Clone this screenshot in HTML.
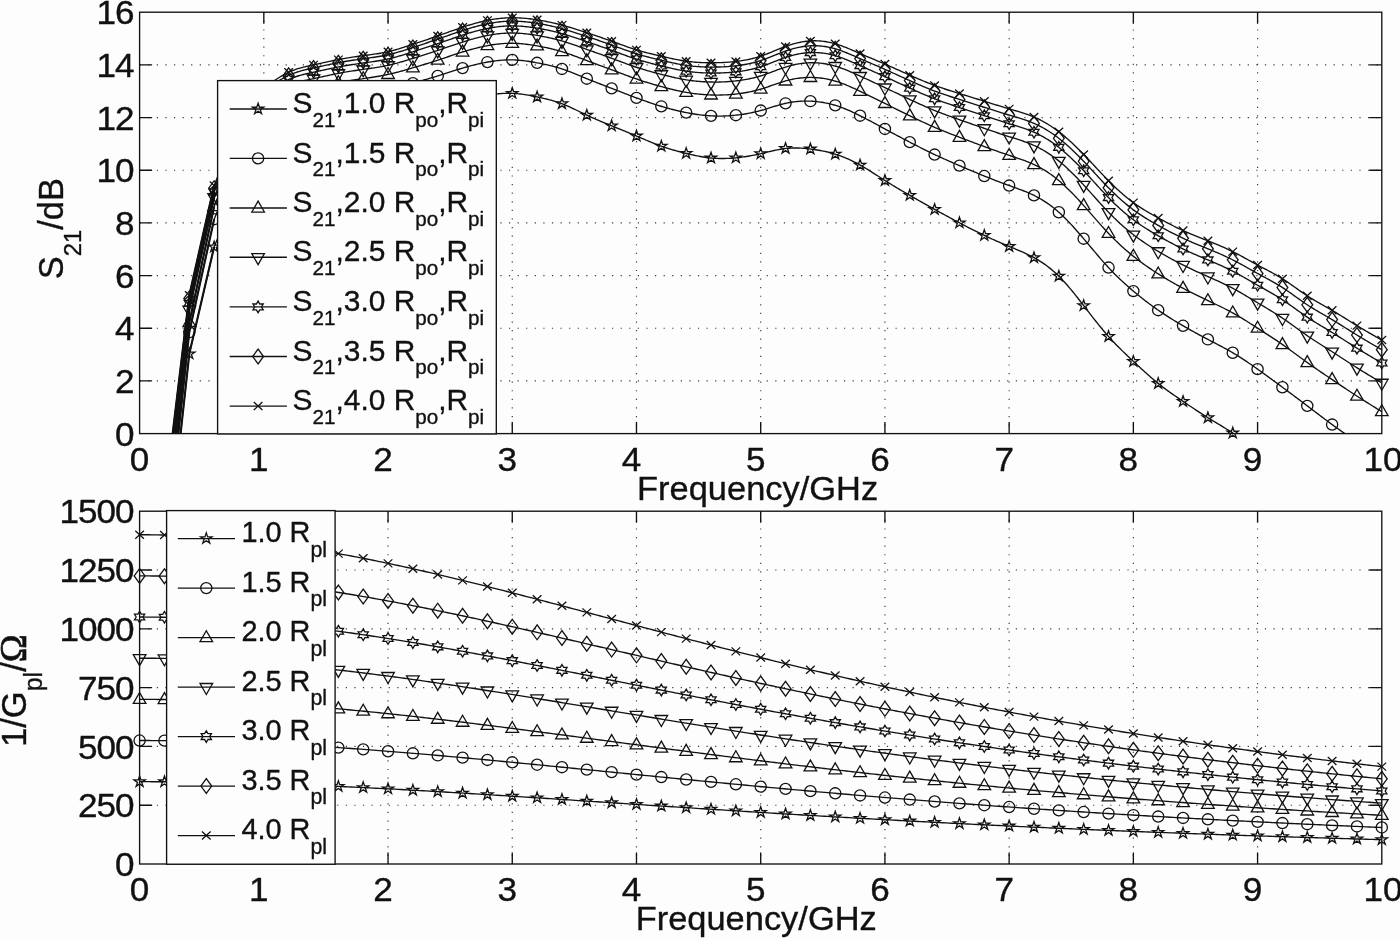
<!DOCTYPE html>
<html lang="en"><head><meta charset="utf-8"><title>S21 and 1/Gpl versus frequency</title>
<style>html,body{margin:0;padding:0;background:#fdfdfd;}svg{display:block;}</style></head>
<body>
<svg width="1400" height="938" viewBox="0 0 1400 938" font-family='"Liberation Sans", sans-serif' fill="#111">
<style>text{stroke:#111;stroke-width:0.35px;stroke-linejoin:round}</style>
<rect width="1400" height="938" fill="#fdfdfd"/>
<defs><clipPath id="ct"><rect x="139.6" y="12.2" width="1242.2" height="421.40000000000003"/></clipPath><clipPath id="cb"><rect x="139.6" y="511.2" width="1242.2" height="352.8"/></clipPath></defs>
<line x1="263.82" y1="12.20" x2="263.82" y2="433.60" stroke="#3a3a3a" stroke-width="1.15" stroke-dasharray="1.2 7.39"/>
<line x1="388.04" y1="12.20" x2="388.04" y2="433.60" stroke="#3a3a3a" stroke-width="1.15" stroke-dasharray="1.2 7.39"/>
<line x1="512.26" y1="12.20" x2="512.26" y2="433.60" stroke="#3a3a3a" stroke-width="1.15" stroke-dasharray="1.2 7.39"/>
<line x1="636.48" y1="12.20" x2="636.48" y2="433.60" stroke="#3a3a3a" stroke-width="1.15" stroke-dasharray="1.2 7.39"/>
<line x1="760.70" y1="12.20" x2="760.70" y2="433.60" stroke="#3a3a3a" stroke-width="1.15" stroke-dasharray="1.2 7.39"/>
<line x1="884.92" y1="12.20" x2="884.92" y2="433.60" stroke="#3a3a3a" stroke-width="1.15" stroke-dasharray="1.2 7.39"/>
<line x1="1009.14" y1="12.20" x2="1009.14" y2="433.60" stroke="#3a3a3a" stroke-width="1.15" stroke-dasharray="1.2 7.39"/>
<line x1="1133.36" y1="12.20" x2="1133.36" y2="433.60" stroke="#3a3a3a" stroke-width="1.15" stroke-dasharray="1.2 7.39"/>
<line x1="1257.58" y1="12.20" x2="1257.58" y2="433.60" stroke="#3a3a3a" stroke-width="1.15" stroke-dasharray="1.2 7.39"/>
<line x1="139.60" y1="380.93" x2="1381.80" y2="380.93" stroke="#3a3a3a" stroke-width="1.15" stroke-dasharray="1.2 7.39"/>
<line x1="139.60" y1="328.25" x2="1381.80" y2="328.25" stroke="#3a3a3a" stroke-width="1.15" stroke-dasharray="1.2 7.39"/>
<line x1="139.60" y1="275.58" x2="1381.80" y2="275.58" stroke="#3a3a3a" stroke-width="1.15" stroke-dasharray="1.2 7.39"/>
<line x1="139.60" y1="222.90" x2="1381.80" y2="222.90" stroke="#3a3a3a" stroke-width="1.15" stroke-dasharray="1.2 7.39"/>
<line x1="139.60" y1="170.23" x2="1381.80" y2="170.23" stroke="#3a3a3a" stroke-width="1.15" stroke-dasharray="1.2 7.39"/>
<line x1="139.60" y1="117.55" x2="1381.80" y2="117.55" stroke="#3a3a3a" stroke-width="1.15" stroke-dasharray="1.2 7.39"/>
<line x1="139.60" y1="64.88" x2="1381.80" y2="64.88" stroke="#3a3a3a" stroke-width="1.15" stroke-dasharray="1.2 7.39"/>
<path d="M263.82 433.60V422.00M263.82 12.20V23.80M388.04 433.60V422.00M388.04 12.20V23.80M512.26 433.60V422.00M512.26 12.20V23.80M636.48 433.60V422.00M636.48 12.20V23.80M760.70 433.60V422.00M760.70 12.20V23.80M884.92 433.60V422.00M884.92 12.20V23.80M1009.14 433.60V422.00M1009.14 12.20V23.80M1133.36 433.60V422.00M1133.36 12.20V23.80M1257.58 433.60V422.00M1257.58 12.20V23.80M139.60 380.93H152.10M1381.80 380.93H1369.30M139.60 328.25H152.10M1381.80 328.25H1369.30M139.60 275.58H152.10M1381.80 275.58H1369.30M139.60 222.90H152.10M1381.80 222.90H1369.30M139.60 170.23H152.10M1381.80 170.23H1369.30M139.60 117.55H152.10M1381.80 117.55H1369.30M139.60 64.88H152.10M1381.80 64.88H1369.30" stroke="#111" stroke-width="1.35" fill="none"/>
<rect x="139.60" y="12.20" width="1242.20" height="421.40" fill="none" stroke="#111" stroke-width="1.35"/>
<g clip-path="url(#ct)" fill="none" stroke="#111" stroke-width="1.35" stroke-linejoin="round"><path d="M164.44 581.80L189.29 353.80L214.13 246.87L215.67 243.28L217.21 239.51L218.75 235.59L220.29 231.54L221.82 227.40L223.36 223.19L224.90 218.96L226.44 214.74L227.98 210.55L229.52 206.42L231.05 202.40L232.59 198.50L234.13 194.77L235.67 191.23L237.21 187.92L238.75 184.86L240.29 182.09L241.82 179.60L243.36 177.35L244.90 175.34L246.44 173.53L247.98 171.91L249.52 170.44L251.05 169.12L252.59 167.90L254.13 166.78L255.67 165.73L257.21 164.73L258.75 163.75L260.28 162.76L261.82 161.76L263.36 160.71L264.90 159.60L266.44 158.42L267.98 157.18L269.52 155.89L271.05 154.57L272.59 153.23L274.13 151.86L275.67 150.50L277.21 149.14L278.75 147.80L280.28 146.49L281.82 145.21L283.36 143.99L284.90 142.82L286.44 141.72L287.98 140.70L289.52 139.78L291.05 138.94L292.59 138.19L294.13 137.52L295.67 136.92L297.21 136.39L298.75 135.91L300.28 135.48L301.82 135.10L303.36 134.75L304.90 134.44L306.44 134.15L307.98 133.87L309.51 133.60L311.05 133.34L312.59 133.07L314.13 132.79L315.67 132.50L317.21 132.19L318.75 131.87L320.28 131.55L321.82 131.21L323.36 130.87L324.90 130.53L326.44 130.19L327.98 129.84L329.51 129.50L331.05 129.16L332.59 128.82L334.13 128.49L335.67 128.17L337.21 127.86L338.74 127.56L340.28 127.28L341.82 127.00L343.36 126.74L344.90 126.48L346.44 126.24L347.98 126.00L349.51 125.76L351.05 125.53L352.59 125.30L354.13 125.07L355.67 124.85L357.21 124.62L358.74 124.39L360.28 124.15L361.82 123.91L363.36 123.66L364.90 123.40L366.44 123.14L367.97 122.87L369.51 122.60L371.05 122.31L372.59 122.03L374.13 121.74L375.67 121.44L377.21 121.14L378.74 120.84L380.28 120.53L381.82 120.23L383.36 119.92L384.90 119.61L386.44 119.30L387.97 118.99L389.51 118.69L391.05 118.38L392.59 118.07L394.13 117.76L395.67 117.45L397.21 117.15L398.74 116.83L400.28 116.52L401.82 116.21L403.36 115.89L404.90 115.58L406.44 115.26L407.97 114.93L409.51 114.60L411.05 114.27L412.59 113.94L414.13 113.60L415.67 113.25L417.20 112.91L418.74 112.55L420.28 112.19L421.82 111.83L423.36 111.46L424.90 111.08L426.44 110.70L427.97 110.32L429.51 109.92L431.05 109.52L432.59 109.12L434.13 108.71L435.67 108.29L437.20 107.86L438.74 107.43L440.28 106.99L441.82 106.54L443.36 106.09L444.90 105.64L446.43 105.18L447.97 104.73L449.51 104.27L451.05 103.81L452.59 103.36L454.13 102.91L455.67 102.46L457.20 102.02L458.74 101.58L460.28 101.16L461.82 100.74L463.36 100.32L464.90 99.92L466.43 99.53L467.97 99.15L469.51 98.78L471.05 98.42L472.59 98.07L474.13 97.72L475.67 97.39L477.20 97.07L478.74 96.76L480.28 96.46L481.82 96.17L483.36 95.89L484.90 95.62L486.43 95.36L487.97 95.11L489.51 94.87L491.05 94.64L492.59 94.43L494.13 94.23L495.66 94.05L497.20 93.88L498.74 93.73L500.28 93.60L501.82 93.48L503.36 93.39L504.90 93.32L506.43 93.27L507.97 93.25L509.51 93.25L511.05 93.28L512.59 93.33L514.13 93.42L515.66 93.52L517.20 93.66L518.74 93.81L520.28 93.99L521.82 94.19L523.36 94.41L524.89 94.64L526.43 94.89L527.97 95.15L529.51 95.43L531.05 95.72L532.59 96.02L534.13 96.33L535.66 96.64L537.20 96.96L538.74 97.28L540.28 97.61L541.82 97.95L543.36 98.29L544.89 98.65L546.43 99.02L547.97 99.40L549.51 99.79L551.05 100.21L552.59 100.64L554.12 101.08L555.66 101.55L557.20 102.04L558.74 102.56L560.28 103.10L561.82 103.67L563.36 104.26L564.89 104.88L566.43 105.53L567.97 106.20L569.51 106.88L571.05 107.58L572.59 108.30L574.12 109.03L575.66 109.76L577.20 110.50L578.74 111.25L580.28 112.00L581.82 112.75L583.36 113.49L584.89 114.23L586.43 114.97L587.97 115.69L589.51 116.40L591.05 117.10L592.59 117.79L594.12 118.47L595.66 119.15L597.20 119.81L598.74 120.48L600.28 121.13L601.82 121.78L603.35 122.42L604.89 123.06L606.43 123.70L607.97 124.33L609.51 124.96L611.05 125.59L612.59 126.22L614.12 126.84L615.66 127.47L617.20 128.10L618.74 128.72L620.28 129.35L621.82 129.97L623.35 130.60L624.89 131.23L626.43 131.86L627.97 132.49L629.51 133.13L631.05 133.76L632.58 134.40L634.12 135.04L635.66 135.69L637.20 136.34L638.74 136.99L640.28 137.64L641.82 138.30L643.35 138.95L644.89 139.60L646.43 140.25L647.97 140.89L649.51 141.53L651.05 142.16L652.58 142.79L654.12 143.41L655.66 144.01L657.20 144.61L658.74 145.19L660.28 145.76L661.81 146.31L663.35 146.85L664.89 147.37L666.43 147.88L667.97 148.37L669.51 148.86L671.05 149.32L672.58 149.78L674.12 150.23L675.66 150.66L677.20 151.09L678.74 151.51L680.28 151.91L681.81 152.31L683.35 152.71L684.89 153.09L686.43 153.47L687.97 153.84L689.51 154.21L691.05 154.57L692.58 154.91L694.12 155.25L695.66 155.58L697.20 155.90L698.74 156.20L700.28 156.48L701.81 156.76L703.35 157.01L704.89 157.25L706.43 157.47L707.97 157.67L709.51 157.85L711.04 158.01L712.58 158.15L714.12 158.26L715.66 158.36L717.20 158.43L718.74 158.48L720.28 158.51L721.81 158.53L723.35 158.52L724.89 158.50L726.43 158.45L727.97 158.39L729.51 158.31L731.04 158.22L732.58 158.11L734.12 157.99L735.66 157.85L737.20 157.69L738.74 157.52L740.27 157.34L741.81 157.14L743.35 156.93L744.89 156.71L746.43 156.47L747.97 156.22L749.51 155.96L751.04 155.68L752.58 155.40L754.12 155.10L755.66 154.79L757.20 154.47L758.74 154.13L760.27 153.79L761.81 153.44L763.35 153.07L764.89 152.70L766.43 152.33L767.97 151.96L769.51 151.58L771.04 151.22L772.58 150.86L774.12 150.51L775.66 150.17L777.20 149.85L778.74 149.54L780.27 149.26L781.81 149.00L783.35 148.77L784.89 148.56L786.43 148.39L787.97 148.24L789.50 148.13L791.04 148.05L792.58 148.00L794.12 147.97L795.66 147.97L797.20 147.99L798.74 148.03L800.27 148.10L801.81 148.19L803.35 148.30L804.89 148.42L806.43 148.56L807.97 148.72L809.50 148.89L811.04 149.08L812.58 149.28L814.12 149.49L815.66 149.72L817.20 149.96L818.73 150.22L820.27 150.49L821.81 150.79L823.35 151.09L824.89 151.42L826.43 151.77L827.97 152.14L829.50 152.53L831.04 152.93L832.58 153.37L834.12 153.82L835.66 154.30L837.20 154.80L838.73 155.33L840.27 155.88L841.81 156.45L843.35 157.05L844.89 157.67L846.43 158.31L847.96 158.98L849.50 159.67L851.04 160.39L852.58 161.12L854.12 161.89L855.66 162.67L857.20 163.47L858.73 164.30L860.27 165.15L861.81 166.03L863.35 166.92L864.89 167.83L866.43 168.76L867.96 169.70L869.50 170.66L871.04 171.62L872.58 172.59L874.12 173.58L875.66 174.56L877.20 175.55L878.73 176.54L880.27 177.53L881.81 178.51L883.35 179.50L884.89 180.47L886.43 181.44L887.96 182.40L889.50 183.35L891.04 184.29L892.58 185.22L894.12 186.15L895.66 187.08L897.19 187.99L898.73 188.91L900.27 189.81L901.81 190.72L903.35 191.62L904.89 192.51L906.43 193.40L907.96 194.29L909.50 195.18L911.04 196.07L912.58 196.95L914.12 197.83L915.66 198.71L917.19 199.59L918.73 200.47L920.27 201.34L921.81 202.21L923.35 203.08L924.89 203.95L926.42 204.81L927.96 205.68L929.50 206.54L931.04 207.40L932.58 208.26L934.12 209.11L935.66 209.96L937.19 210.81L938.73 211.66L940.27 212.51L941.81 213.35L943.35 214.19L944.89 215.03L946.42 215.87L947.96 216.70L949.50 217.53L951.04 218.36L952.58 219.19L954.12 220.01L955.66 220.83L957.19 221.65L958.73 222.46L960.27 223.27L961.81 224.08L963.35 224.88L964.89 225.68L966.42 226.48L967.96 227.28L969.50 228.06L971.04 228.85L972.58 229.63L974.12 230.40L975.65 231.17L977.19 231.94L978.73 232.70L980.27 233.45L981.81 234.20L983.35 234.94L984.89 235.67L986.42 236.40L987.96 237.12L989.50 237.83L991.04 238.54L992.58 239.24L994.12 239.94L995.65 240.63L997.19 241.31L998.73 241.99L1000.27 242.66L1001.81 243.33L1003.35 243.99L1004.88 244.64L1006.42 245.29L1007.96 245.94L1009.50 246.58L1011.04 247.22L1012.58 247.85L1014.12 248.48L1015.65 249.12L1017.19 249.76L1018.73 250.41L1020.27 251.06L1021.81 251.73L1023.35 252.40L1024.88 253.10L1026.42 253.81L1027.96 254.54L1029.50 255.29L1031.04 256.06L1032.58 256.86L1034.11 257.69L1035.65 258.55L1037.19 259.44L1038.73 260.36L1040.27 261.32L1041.81 262.31L1043.35 263.34L1044.88 264.41L1046.42 265.52L1047.96 266.67L1049.50 267.87L1051.04 269.11L1052.58 270.40L1054.11 271.73L1055.65 273.12L1057.19 274.56L1058.73 276.05L1060.27 277.59L1061.81 279.19L1063.35 280.84L1064.88 282.53L1066.42 284.26L1067.96 286.03L1069.50 287.83L1071.04 289.67L1072.58 291.54L1074.11 293.44L1075.65 295.35L1077.19 297.29L1078.73 299.25L1080.27 301.21L1081.81 303.19L1083.34 305.18L1084.88 307.17L1086.42 309.16L1087.96 311.15L1089.50 313.13L1091.04 315.11L1092.58 317.08L1094.11 319.05L1095.65 320.99L1097.19 322.93L1098.73 324.84L1100.27 326.74L1101.81 328.62L1103.34 330.47L1104.88 332.29L1106.42 334.08L1107.96 335.84L1109.50 337.57L1111.04 339.27L1112.57 340.93L1114.11 342.56L1115.65 344.17L1117.19 345.75L1118.73 347.31L1120.27 348.84L1121.81 350.36L1123.34 351.86L1124.88 353.35L1126.42 354.82L1127.96 356.28L1129.50 357.73L1131.04 359.18L1132.57 360.62L1134.11 362.06L1135.65 363.50L1137.19 364.93L1138.73 366.36L1140.27 367.78L1141.80 369.19L1143.34 370.60L1144.88 371.99L1146.42 373.37L1147.96 374.74L1149.50 376.10L1151.04 377.44L1152.57 378.76L1154.11 380.06L1155.65 381.35L1157.19 382.61L1158.73 383.86L1160.27 385.07L1161.80 386.27L1163.34 387.45L1164.88 388.61L1166.42 389.75L1167.96 390.88L1169.50 391.99L1171.04 393.09L1172.57 394.17L1174.11 395.25L1175.65 396.32L1177.19 397.38L1178.73 398.43L1180.27 399.48L1181.80 400.52L1183.34 401.57L1184.88 402.61L1186.42 403.65L1187.96 404.69L1189.50 405.72L1191.03 406.75L1192.57 407.78L1194.11 408.80L1195.65 409.82L1197.19 410.84L1198.73 411.84L1200.27 412.84L1201.80 413.84L1203.34 414.82L1204.88 415.80L1206.42 416.77L1207.96 417.73L1209.50 418.68L1211.03 419.62L1212.57 420.56L1214.11 421.49L1215.65 422.41L1217.19 423.34L1218.73 424.27L1220.26 425.20L1221.80 426.13L1223.34 427.07L1224.88 428.02L1226.42 428.97L1227.96 429.94L1229.50 430.91L1231.03 431.91L1232.57 432.91L1234.11 433.94L1235.65 434.98L1237.19 436.04L1238.73 437.12L1240.26 438.21L1241.80 439.32L1243.34 440.45L1244.88 441.60L1246.42 442.76L1247.96 443.95L1249.50 445.15L1251.03 446.37L1252.57 447.60L1254.11 448.85L1255.65 450.12L1257.19 451.41L1258.73 452.72L1260.26 454.04L1261.80 455.37L1263.34 456.72L1264.88 458.08L1266.42 459.44L1267.96 460.80L1269.49 462.17L1271.03 463.53L1272.57 464.89L1274.11 466.25L1275.65 467.60L1277.19 468.94L1278.73 470.26L1280.26 471.57L1281.80 472.86L1283.34 474.13L1284.88 475.38L1286.42 476.62L1287.96 477.84L1289.49 479.05L1291.03 480.25L1292.57 481.45L1294.11 482.64L1295.65 483.83L1297.19 485.03L1298.72 486.23L1300.26 487.44L1301.80 488.67L1303.34 489.90L1304.88 491.16L1306.42 492.43L1307.96 493.72L1309.49 495.04L1311.03 496.38L1312.57 497.73L1314.11 499.10L1315.65 500.48L1317.19 501.87L1318.72 503.26L1320.26 504.66L1321.80 506.05L1323.34 507.45L1324.88 508.83L1326.42 510.21L1327.95 511.58L1329.49 512.93L1331.03 514.26L1332.57 515.57L1334.11 516.87L1335.65 518.14L1337.19 519.39L1338.72 520.62L1340.26 521.84L1341.80 523.04L1343.34 524.22L1344.88 525.39L1346.42 526.55L1347.95 527.70L1349.49 528.83L1351.03 529.96L1352.57 531.08L1354.11 532.19L1355.65 533.30L1357.19 534.40L1358.72 535.50L1360.26 536.60L1361.80 537.70L1363.34 538.79L1364.88 539.88L1366.42 540.96L1367.95 542.05L1369.49 543.13L1371.03 544.21L1372.57 545.29L1374.11 546.37L1375.65 547.45L1377.18 548.52L1378.72 549.60L1380.26 550.67L1381.80 551.75"/><path stroke-width="2.1" d="M164.44 581.80L189.29 353.80L214.13 246.87"/><path d="M164.44 562.65L189.29 332.20L214.13 219.21L215.67 215.59L217.21 211.79L218.75 207.85L220.29 203.79L221.82 199.64L223.36 195.43L224.90 191.18L226.44 186.94L227.98 182.73L229.52 178.57L231.05 174.50L232.59 170.54L234.13 166.73L235.67 163.09L237.21 159.66L238.75 156.46L240.29 153.51L241.82 150.82L243.36 148.35L244.90 146.10L246.44 144.05L247.98 142.17L249.52 140.44L251.05 138.86L252.59 137.39L254.13 136.03L255.67 134.75L257.21 133.54L258.75 132.37L260.28 131.23L261.82 130.10L263.36 128.96L264.90 127.79L266.44 126.59L267.98 125.37L269.52 124.14L271.05 122.90L272.59 121.65L274.13 120.41L275.67 119.18L277.21 117.97L278.75 116.78L280.28 115.63L281.82 114.51L283.36 113.44L284.90 112.42L286.44 111.45L287.98 110.55L289.52 109.73L291.05 108.97L292.59 108.28L294.13 107.65L295.67 107.08L297.21 106.55L298.75 106.08L300.28 105.64L301.82 105.24L303.36 104.87L304.90 104.52L306.44 104.19L307.98 103.88L309.51 103.58L311.05 103.28L312.59 102.98L314.13 102.68L315.67 102.36L317.21 102.04L318.75 101.72L320.28 101.38L321.82 101.05L323.36 100.71L324.90 100.37L326.44 100.03L327.98 99.69L329.51 99.36L331.05 99.02L332.59 98.70L334.13 98.38L335.67 98.06L337.21 97.76L338.74 97.46L340.28 97.17L341.82 96.90L343.36 96.63L344.90 96.37L346.44 96.12L347.98 95.87L349.51 95.63L351.05 95.39L352.59 95.16L354.13 94.93L355.67 94.70L357.21 94.47L358.74 94.24L360.28 94.02L361.82 93.79L363.36 93.56L364.90 93.32L366.44 93.09L367.97 92.85L369.51 92.60L371.05 92.35L372.59 92.10L374.13 91.84L375.67 91.58L377.21 91.31L378.74 91.03L380.28 90.75L381.82 90.46L383.36 90.16L384.90 89.86L386.44 89.55L387.97 89.22L389.51 88.90L391.05 88.56L392.59 88.21L394.13 87.86L395.67 87.50L397.21 87.13L398.74 86.76L400.28 86.38L401.82 86.00L403.36 85.61L404.90 85.21L406.44 84.81L407.97 84.41L409.51 84.00L411.05 83.59L412.59 83.18L414.13 82.76L415.67 82.35L417.20 81.92L418.74 81.50L420.28 81.07L421.82 80.64L423.36 80.20L424.90 79.77L426.44 79.32L427.97 78.88L429.51 78.43L431.05 77.97L432.59 77.51L434.13 77.05L435.67 76.58L437.20 76.10L438.74 75.62L440.28 75.13L441.82 74.64L443.36 74.15L444.90 73.66L446.43 73.16L447.97 72.66L449.51 72.17L451.05 71.67L452.59 71.18L454.13 70.69L455.67 70.20L457.20 69.72L458.74 69.24L460.28 68.77L461.82 68.31L463.36 67.86L464.90 67.41L466.43 66.98L467.97 66.55L469.51 66.13L471.05 65.72L472.59 65.33L474.13 64.94L475.67 64.56L477.20 64.20L478.74 63.84L480.28 63.50L481.82 63.17L483.36 62.86L484.90 62.55L486.43 62.26L487.97 61.98L489.51 61.72L491.05 61.47L492.59 61.24L494.13 61.02L495.66 60.82L497.20 60.63L498.74 60.46L500.28 60.32L501.82 60.19L503.36 60.08L504.90 59.99L506.43 59.92L507.97 59.88L509.51 59.85L511.05 59.85L512.59 59.88L514.13 59.93L515.66 60.00L517.20 60.09L518.74 60.21L520.28 60.34L521.82 60.50L523.36 60.67L524.89 60.86L526.43 61.06L527.97 61.28L529.51 61.52L531.05 61.76L532.59 62.02L534.13 62.28L535.66 62.56L537.20 62.84L538.74 63.13L540.28 63.43L541.82 63.73L543.36 64.05L544.89 64.37L546.43 64.71L547.97 65.06L549.51 65.42L551.05 65.80L552.59 66.19L554.12 66.60L555.66 67.02L557.20 67.46L558.74 67.92L560.28 68.39L561.82 68.89L563.36 69.40L564.89 69.94L566.43 70.49L567.97 71.06L569.51 71.65L571.05 72.24L572.59 72.85L574.12 73.46L575.66 74.09L577.20 74.72L578.74 75.35L580.28 75.99L581.82 76.63L583.36 77.26L584.89 77.90L586.43 78.53L587.97 79.15L589.51 79.77L591.05 80.39L592.59 81.00L594.12 81.61L595.66 82.21L597.20 82.81L598.74 83.41L600.28 84.00L601.82 84.59L603.35 85.19L604.89 85.78L606.43 86.37L607.97 86.96L609.51 87.55L611.05 88.14L612.59 88.73L614.12 89.33L615.66 89.93L617.20 90.52L618.74 91.12L620.28 91.72L621.82 92.31L623.35 92.91L624.89 93.51L626.43 94.10L627.97 94.69L629.51 95.28L631.05 95.86L632.58 96.45L634.12 97.02L635.66 97.60L637.20 98.17L638.74 98.73L640.28 99.29L641.82 99.85L643.35 100.40L644.89 100.94L646.43 101.48L647.97 102.01L649.51 102.54L651.05 103.06L652.58 103.57L654.12 104.07L655.66 104.57L657.20 105.06L658.74 105.54L660.28 106.01L661.81 106.48L663.35 106.93L664.89 107.38L666.43 107.82L667.97 108.25L669.51 108.67L671.05 109.08L672.58 109.49L674.12 109.88L675.66 110.26L677.20 110.63L678.74 111.00L680.28 111.35L681.81 111.69L683.35 112.02L684.89 112.34L686.43 112.65L687.97 112.95L689.51 113.24L691.05 113.51L692.58 113.77L694.12 114.03L695.66 114.26L697.20 114.49L698.74 114.70L700.28 114.90L701.81 115.08L703.35 115.25L704.89 115.40L706.43 115.54L707.97 115.67L709.51 115.77L711.04 115.87L712.58 115.94L714.12 116.00L715.66 116.04L717.20 116.07L718.74 116.08L720.28 116.08L721.81 116.06L723.35 116.02L724.89 115.97L726.43 115.90L727.97 115.82L729.51 115.73L731.04 115.62L732.58 115.49L734.12 115.35L735.66 115.20L737.20 115.03L738.74 114.85L740.27 114.65L741.81 114.44L743.35 114.22L744.89 113.98L746.43 113.72L747.97 113.45L749.51 113.16L751.04 112.85L752.58 112.53L754.12 112.19L755.66 111.84L757.20 111.46L758.74 111.07L760.27 110.66L761.81 110.23L763.35 109.79L764.89 109.33L766.43 108.86L767.97 108.39L769.51 107.91L771.04 107.43L772.58 106.95L774.12 106.47L775.66 106.00L777.20 105.54L778.74 105.09L780.27 104.66L781.81 104.24L783.35 103.85L784.89 103.48L786.43 103.13L787.97 102.82L789.50 102.53L791.04 102.27L792.58 102.04L794.12 101.83L795.66 101.65L797.20 101.49L798.74 101.36L800.27 101.26L801.81 101.18L803.35 101.12L804.89 101.09L806.43 101.08L807.97 101.10L809.50 101.14L811.04 101.20L812.58 101.28L814.12 101.39L815.66 101.52L817.20 101.67L818.73 101.85L820.27 102.05L821.81 102.27L823.35 102.52L824.89 102.80L826.43 103.10L827.97 103.43L829.50 103.78L831.04 104.16L832.58 104.57L834.12 105.00L835.66 105.46L837.20 105.95L838.73 106.46L840.27 107.00L841.81 107.56L843.35 108.15L844.89 108.75L846.43 109.38L847.96 110.03L849.50 110.70L851.04 111.38L852.58 112.09L854.12 112.80L855.66 113.53L857.20 114.28L858.73 115.04L860.27 115.81L861.81 116.58L863.35 117.37L864.89 118.17L866.43 118.98L867.96 119.79L869.50 120.61L871.04 121.43L872.58 122.26L874.12 123.09L875.66 123.93L877.20 124.77L878.73 125.61L880.27 126.45L881.81 127.29L883.35 128.13L884.89 128.96L886.43 129.80L887.96 130.63L889.50 131.46L891.04 132.29L892.58 133.11L894.12 133.93L895.66 134.75L897.19 135.57L898.73 136.38L900.27 137.19L901.81 138.00L903.35 138.81L904.89 139.61L906.43 140.42L907.96 141.22L909.50 142.01L911.04 142.81L912.58 143.60L914.12 144.39L915.66 145.18L917.19 145.96L918.73 146.74L920.27 147.52L921.81 148.29L923.35 149.06L924.89 149.82L926.42 150.58L927.96 151.33L929.50 152.08L931.04 152.83L932.58 153.56L934.12 154.30L935.66 155.02L937.19 155.74L938.73 156.45L940.27 157.16L941.81 157.87L943.35 158.56L944.89 159.26L946.42 159.95L947.96 160.63L949.50 161.31L951.04 161.99L952.58 162.66L954.12 163.34L955.66 164.00L957.19 164.67L958.73 165.33L960.27 165.99L961.81 166.65L963.35 167.31L964.89 167.97L966.42 168.62L967.96 169.27L969.50 169.92L971.04 170.56L972.58 171.21L974.12 171.85L975.65 172.49L977.19 173.12L978.73 173.75L980.27 174.38L981.81 175.01L983.35 175.64L984.89 176.26L986.42 176.87L987.96 177.49L989.50 178.10L991.04 178.71L992.58 179.31L994.12 179.91L995.65 180.51L997.19 181.10L998.73 181.69L1000.27 182.27L1001.81 182.85L1003.35 183.43L1004.88 184.00L1006.42 184.57L1007.96 185.13L1009.50 185.68L1011.04 186.24L1012.58 186.79L1014.12 187.34L1015.65 187.89L1017.19 188.44L1018.73 189.01L1020.27 189.58L1021.81 190.16L1023.35 190.75L1024.88 191.37L1026.42 191.99L1027.96 192.64L1029.50 193.31L1031.04 194.00L1032.58 194.72L1034.11 195.47L1035.65 196.25L1037.19 197.05L1038.73 197.90L1040.27 198.77L1041.81 199.68L1043.35 200.62L1044.88 201.60L1046.42 202.61L1047.96 203.67L1049.50 204.76L1051.04 205.89L1052.58 207.06L1054.11 208.28L1055.65 209.53L1057.19 210.83L1058.73 212.17L1060.27 213.56L1061.81 214.99L1063.35 216.46L1064.88 217.97L1066.42 219.52L1067.96 221.10L1069.50 222.71L1071.04 224.35L1072.58 226.02L1074.11 227.72L1075.65 229.44L1077.19 231.18L1078.73 232.94L1080.27 234.72L1081.81 236.51L1083.34 238.32L1084.88 240.13L1086.42 241.96L1087.96 243.79L1089.50 245.62L1091.04 247.45L1092.58 249.28L1094.11 251.11L1095.65 252.93L1097.19 254.74L1098.73 256.54L1100.27 258.33L1101.81 260.10L1103.34 261.85L1104.88 263.58L1106.42 265.29L1107.96 266.97L1109.50 268.62L1111.04 270.24L1112.57 271.84L1114.11 273.41L1115.65 274.95L1117.19 276.47L1118.73 277.96L1120.27 279.43L1121.81 280.87L1123.34 282.30L1124.88 283.70L1126.42 285.09L1127.96 286.45L1129.50 287.80L1131.04 289.13L1132.57 290.45L1134.11 291.75L1135.65 293.03L1137.19 294.30L1138.73 295.56L1140.27 296.80L1141.80 298.03L1143.34 299.24L1144.88 300.43L1146.42 301.62L1147.96 302.78L1149.50 303.94L1151.04 305.07L1152.57 306.20L1154.11 307.31L1155.65 308.40L1157.19 309.48L1158.73 310.54L1160.27 311.59L1161.80 312.63L1163.34 313.65L1164.88 314.66L1166.42 315.66L1167.96 316.64L1169.50 317.61L1171.04 318.58L1172.57 319.53L1174.11 320.47L1175.65 321.40L1177.19 322.33L1178.73 323.24L1180.27 324.15L1181.80 325.05L1183.34 325.94L1184.88 326.83L1186.42 327.71L1187.96 328.59L1189.50 329.46L1191.03 330.32L1192.57 331.18L1194.11 332.03L1195.65 332.87L1197.19 333.71L1198.73 334.55L1200.27 335.38L1201.80 336.20L1203.34 337.02L1204.88 337.84L1206.42 338.65L1207.96 339.45L1209.50 340.25L1211.03 341.05L1212.57 341.85L1214.11 342.64L1215.65 343.44L1217.19 344.24L1218.73 345.04L1220.26 345.85L1221.80 346.66L1223.34 347.48L1224.88 348.31L1226.42 349.15L1227.96 350.01L1229.50 350.87L1231.03 351.75L1232.57 352.65L1234.11 353.56L1235.65 354.49L1237.19 355.44L1238.73 356.40L1240.26 357.37L1241.80 358.36L1243.34 359.36L1244.88 360.38L1246.42 361.40L1247.96 362.44L1249.50 363.49L1251.03 364.54L1252.57 365.61L1254.11 366.68L1255.65 367.76L1257.19 368.85L1258.73 369.94L1260.26 371.04L1261.80 372.14L1263.34 373.24L1264.88 374.36L1266.42 375.47L1267.96 376.59L1269.49 377.71L1271.03 378.84L1272.57 379.97L1274.11 381.10L1275.65 382.23L1277.19 383.37L1278.73 384.51L1280.26 385.64L1281.80 386.78L1283.34 387.93L1284.88 389.07L1286.42 390.21L1287.96 391.36L1289.49 392.50L1291.03 393.65L1292.57 394.80L1294.11 395.94L1295.65 397.10L1297.19 398.25L1298.72 399.40L1300.26 400.56L1301.80 401.71L1303.34 402.87L1304.88 404.03L1306.42 405.20L1307.96 406.36L1309.49 407.53L1311.03 408.70L1312.57 409.86L1314.11 411.03L1315.65 412.20L1317.19 413.37L1318.72 414.54L1320.26 415.70L1321.80 416.86L1323.34 418.02L1324.88 419.17L1326.42 420.33L1327.95 421.47L1329.49 422.61L1331.03 423.75L1332.57 424.88L1334.11 426.00L1335.65 427.11L1337.19 428.22L1338.72 429.32L1340.26 430.42L1341.80 431.51L1343.34 432.59L1344.88 433.67L1346.42 434.74L1347.95 435.80L1349.49 436.86L1351.03 437.92L1352.57 438.96L1354.11 440.01L1355.65 441.04L1357.19 442.08L1358.72 443.10L1360.26 444.12L1361.80 445.14L1363.34 446.15L1364.88 447.16L1366.42 448.17L1367.95 449.17L1369.49 450.17L1371.03 451.16L1372.57 452.16L1374.11 453.15L1375.65 454.14L1377.18 455.13L1378.72 456.12L1380.26 457.11L1381.80 458.09"/><path stroke-width="2.1" d="M164.44 562.65L189.29 332.20L214.13 219.21"/><path d="M164.44 544.74L189.29 322.46L214.13 206.57L215.67 202.87L217.21 198.99L218.75 194.97L220.29 190.83L221.82 186.59L223.36 182.30L224.90 177.98L226.44 173.65L227.98 169.35L229.52 165.10L231.05 160.94L232.59 156.89L234.13 152.98L235.67 149.23L237.21 145.69L238.75 142.37L240.29 139.31L241.82 136.48L243.36 133.89L244.90 131.51L246.44 129.32L247.98 127.31L249.52 125.46L251.05 123.75L252.59 122.17L254.13 120.70L255.67 119.32L257.21 118.01L258.75 116.76L260.28 115.56L261.82 114.38L263.36 113.20L264.90 112.02L266.44 110.82L267.98 109.62L269.52 108.41L271.05 107.21L272.59 106.02L274.13 104.84L275.67 103.67L277.21 102.53L278.75 101.42L280.28 100.34L281.82 99.30L283.36 98.30L284.90 97.34L286.44 96.44L287.98 95.60L289.52 94.82L291.05 94.10L292.59 93.43L294.13 92.82L295.67 92.26L297.21 91.75L298.75 91.27L300.28 90.83L301.82 90.42L303.36 90.03L304.90 89.67L306.44 89.33L307.98 89.00L309.51 88.68L311.05 88.37L312.59 88.06L314.13 87.74L315.67 87.42L317.21 87.09L318.75 86.76L320.28 86.42L321.82 86.09L323.36 85.75L324.90 85.41L326.44 85.07L327.98 84.74L329.51 84.41L331.05 84.08L332.59 83.75L334.13 83.44L335.67 83.12L337.21 82.82L338.74 82.53L340.28 82.24L341.82 81.96L343.36 81.69L344.90 81.43L346.44 81.17L347.98 80.92L349.51 80.68L351.05 80.44L352.59 80.20L354.13 79.97L355.67 79.74L357.21 79.52L358.74 79.29L360.28 79.07L361.82 78.85L363.36 78.63L364.90 78.40L366.44 78.18L367.97 77.95L369.51 77.72L371.05 77.49L372.59 77.25L374.13 77.01L375.67 76.76L377.21 76.51L378.74 76.24L380.28 75.97L381.82 75.69L383.36 75.40L384.90 75.10L386.44 74.78L387.97 74.46L389.51 74.12L391.05 73.77L392.59 73.40L394.13 73.03L395.67 72.64L397.21 72.25L398.74 71.84L400.28 71.43L401.82 71.01L403.36 70.58L404.90 70.15L406.44 69.71L407.97 69.27L409.51 68.82L411.05 68.37L412.59 67.92L414.13 67.47L415.67 67.01L417.20 66.55L418.74 66.09L420.28 65.63L421.82 65.17L423.36 64.70L424.90 64.23L426.44 63.76L427.97 63.28L429.51 62.80L431.05 62.32L432.59 61.83L434.13 61.34L435.67 60.84L437.20 60.34L438.74 59.84L440.28 59.33L441.82 58.82L443.36 58.31L444.90 57.79L446.43 57.27L447.97 56.76L449.51 56.24L451.05 55.73L452.59 55.21L454.13 54.70L455.67 54.20L457.20 53.70L458.74 53.20L460.28 52.71L461.82 52.23L463.36 51.75L464.90 51.28L466.43 50.82L467.97 50.38L469.51 49.93L471.05 49.50L472.59 49.08L474.13 48.68L475.67 48.28L477.20 47.89L478.74 47.52L480.28 47.16L481.82 46.81L483.36 46.47L484.90 46.15L486.43 45.84L487.97 45.55L489.51 45.28L491.05 45.01L492.59 44.77L494.13 44.54L495.66 44.33L497.20 44.14L498.74 43.96L500.28 43.81L501.82 43.67L503.36 43.55L504.90 43.45L506.43 43.38L507.97 43.32L509.51 43.28L511.05 43.27L512.59 43.28L514.13 43.31L515.66 43.37L517.20 43.44L518.74 43.54L520.28 43.65L521.82 43.79L523.36 43.94L524.89 44.10L526.43 44.28L527.97 44.48L529.51 44.69L531.05 44.91L532.59 45.15L534.13 45.39L535.66 45.65L537.20 45.91L538.74 46.19L540.28 46.47L541.82 46.76L543.36 47.06L544.89 47.37L546.43 47.69L547.97 48.03L549.51 48.37L551.05 48.73L552.59 49.10L554.12 49.49L555.66 49.89L557.20 50.30L558.74 50.73L560.28 51.17L561.82 51.63L563.36 52.11L564.89 52.61L566.43 53.11L567.97 53.63L569.51 54.17L571.05 54.71L572.59 55.26L574.12 55.82L575.66 56.39L577.20 56.96L578.74 57.54L580.28 58.12L581.82 58.71L583.36 59.29L584.89 59.87L586.43 60.45L587.97 61.03L589.51 61.61L591.05 62.18L592.59 62.75L594.12 63.32L595.66 63.89L597.20 64.45L598.74 65.02L600.28 65.58L601.82 66.15L603.35 66.71L604.89 67.28L606.43 67.85L607.97 68.42L609.51 68.99L611.05 69.56L612.59 70.14L614.12 70.72L615.66 71.30L617.20 71.89L618.74 72.47L620.28 73.05L621.82 73.63L623.35 74.21L624.89 74.79L626.43 75.37L627.97 75.94L629.51 76.50L631.05 77.06L632.58 77.62L634.12 78.16L635.66 78.70L637.20 79.23L638.74 79.76L640.28 80.27L641.82 80.78L643.35 81.27L644.89 81.77L646.43 82.25L647.97 82.72L649.51 83.19L651.05 83.65L652.58 84.11L654.12 84.56L655.66 85.00L657.20 85.44L658.74 85.87L660.28 86.30L661.81 86.72L663.35 87.14L664.89 87.55L666.43 87.95L667.97 88.35L669.51 88.74L671.05 89.12L672.58 89.50L674.12 89.86L675.66 90.22L677.20 90.56L678.74 90.90L680.28 91.22L681.81 91.54L683.35 91.84L684.89 92.13L686.43 92.40L687.97 92.66L689.51 92.91L691.05 93.15L692.58 93.37L694.12 93.57L695.66 93.77L697.20 93.95L698.74 94.11L700.28 94.27L701.81 94.41L703.35 94.53L704.89 94.64L706.43 94.74L707.97 94.83L709.51 94.90L711.04 94.96L712.58 95.00L714.12 95.04L715.66 95.05L717.20 95.06L718.74 95.05L720.28 95.03L721.81 94.99L723.35 94.94L724.89 94.88L726.43 94.80L727.97 94.71L729.51 94.60L731.04 94.48L732.58 94.35L734.12 94.21L735.66 94.05L737.20 93.87L738.74 93.68L740.27 93.48L741.81 93.26L743.35 93.03L744.89 92.78L746.43 92.51L747.97 92.23L749.51 91.93L751.04 91.60L752.58 91.27L754.12 90.91L755.66 90.53L757.20 90.13L758.74 89.71L760.27 89.27L761.81 88.80L763.35 88.32L764.89 87.82L766.43 87.30L767.97 86.78L769.51 86.24L771.04 85.70L772.58 85.16L774.12 84.62L775.66 84.09L777.20 83.56L778.74 83.04L780.27 82.53L781.81 82.04L783.35 81.56L784.89 81.11L786.43 80.69L787.97 80.28L789.50 79.91L791.04 79.56L792.58 79.24L794.12 78.94L795.66 78.67L797.20 78.43L798.74 78.21L800.27 78.02L801.81 77.86L803.35 77.72L804.89 77.61L806.43 77.53L807.97 77.47L809.50 77.44L811.04 77.44L812.58 77.47L814.12 77.52L815.66 77.61L817.20 77.71L818.73 77.85L820.27 78.02L821.81 78.21L823.35 78.43L824.89 78.68L826.43 78.96L827.97 79.27L829.50 79.60L831.04 79.97L832.58 80.36L834.12 80.78L835.66 81.23L837.20 81.71L838.73 82.22L840.27 82.75L841.81 83.31L843.35 83.89L844.89 84.49L846.43 85.11L847.96 85.75L849.50 86.40L851.04 87.07L852.58 87.76L854.12 88.45L855.66 89.16L857.20 89.87L858.73 90.60L860.27 91.33L861.81 92.06L863.35 92.80L864.89 93.54L866.43 94.28L867.96 95.03L869.50 95.78L871.04 96.53L872.58 97.29L874.12 98.05L875.66 98.81L877.20 99.58L878.73 100.34L880.27 101.11L881.81 101.87L883.35 102.64L884.89 103.41L886.43 104.18L887.96 104.95L889.50 105.72L891.04 106.49L892.58 107.26L894.12 108.03L895.66 108.79L897.19 109.56L898.73 110.33L900.27 111.09L901.81 111.85L903.35 112.61L904.89 113.37L906.43 114.13L907.96 114.89L909.50 115.64L911.04 116.39L912.58 117.14L914.12 117.88L915.66 118.62L917.19 119.36L918.73 120.09L920.27 120.82L921.81 121.54L923.35 122.26L924.89 122.97L926.42 123.68L927.96 124.38L929.50 125.07L931.04 125.75L932.58 126.43L934.12 127.10L935.66 127.77L937.19 128.42L938.73 129.07L940.27 129.71L941.81 130.34L943.35 130.97L944.89 131.59L946.42 132.21L947.96 132.82L949.50 133.43L951.04 134.03L952.58 134.63L954.12 135.22L955.66 135.82L957.19 136.41L958.73 136.99L960.27 137.58L961.81 138.17L963.35 138.75L964.89 139.33L966.42 139.91L967.96 140.49L969.50 141.07L971.04 141.65L972.58 142.23L974.12 142.80L975.65 143.37L977.19 143.95L978.73 144.52L980.27 145.08L981.81 145.65L983.35 146.22L984.89 146.78L986.42 147.35L987.96 147.91L989.50 148.47L991.04 149.03L992.58 149.58L994.12 150.14L995.65 150.69L997.19 151.23L998.73 151.78L1000.27 152.32L1001.81 152.85L1003.35 153.39L1004.88 153.92L1006.42 154.44L1007.96 154.96L1009.50 155.47L1011.04 155.99L1012.58 156.49L1014.12 157.00L1015.65 157.51L1017.19 158.03L1018.73 158.55L1020.27 159.08L1021.81 159.62L1023.35 160.17L1024.88 160.74L1026.42 161.33L1027.96 161.94L1029.50 162.56L1031.04 163.22L1032.58 163.90L1034.11 164.60L1035.65 165.34L1037.19 166.11L1038.73 166.91L1040.27 167.74L1041.81 168.61L1043.35 169.51L1044.88 170.44L1046.42 171.41L1047.96 172.41L1049.50 173.45L1051.04 174.53L1052.58 175.64L1054.11 176.80L1055.65 177.99L1057.19 179.22L1058.73 180.49L1060.27 181.79L1061.81 183.14L1063.35 184.53L1064.88 185.95L1066.42 187.40L1067.96 188.89L1069.50 190.41L1071.04 191.95L1072.58 193.52L1074.11 195.12L1075.65 196.74L1077.19 198.39L1078.73 200.05L1080.27 201.73L1081.81 203.43L1083.34 205.15L1084.88 206.88L1086.42 208.62L1087.96 210.37L1089.50 212.13L1091.04 213.89L1092.58 215.65L1094.11 217.41L1095.65 219.17L1097.19 220.92L1098.73 222.66L1100.27 224.39L1101.81 226.11L1103.34 227.81L1104.88 229.50L1106.42 231.16L1107.96 232.80L1109.50 234.41L1111.04 236.00L1112.57 237.56L1114.11 239.10L1115.65 240.61L1117.19 242.10L1118.73 243.56L1120.27 244.99L1121.81 246.40L1123.34 247.79L1124.88 249.16L1126.42 250.50L1127.96 251.82L1129.50 253.11L1131.04 254.39L1132.57 255.64L1134.11 256.87L1135.65 258.08L1137.19 259.27L1138.73 260.44L1140.27 261.59L1141.80 262.72L1143.34 263.84L1144.88 264.94L1146.42 266.02L1147.96 267.09L1149.50 268.14L1151.04 269.18L1152.57 270.20L1154.11 271.21L1155.65 272.21L1157.19 273.20L1158.73 274.18L1160.27 275.14L1161.80 276.10L1163.34 277.04L1164.88 277.98L1166.42 278.90L1167.96 279.82L1169.50 280.72L1171.04 281.62L1172.57 282.50L1174.11 283.38L1175.65 284.24L1177.19 285.10L1178.73 285.95L1180.27 286.78L1181.80 287.61L1183.34 288.43L1184.88 289.24L1186.42 290.04L1187.96 290.84L1189.50 291.62L1191.03 292.40L1192.57 293.17L1194.11 293.94L1195.65 294.70L1197.19 295.46L1198.73 296.20L1200.27 296.95L1201.80 297.69L1203.34 298.43L1204.88 299.16L1206.42 299.89L1207.96 300.62L1209.50 301.35L1211.03 302.07L1212.57 302.80L1214.11 303.53L1215.65 304.26L1217.19 305.00L1218.73 305.74L1220.26 306.48L1221.80 307.24L1223.34 308.00L1224.88 308.77L1226.42 309.56L1227.96 310.35L1229.50 311.17L1231.03 311.99L1232.57 312.83L1234.11 313.69L1235.65 314.56L1237.19 315.45L1238.73 316.36L1240.26 317.27L1241.80 318.20L1243.34 319.14L1244.88 320.09L1246.42 321.04L1247.96 322.01L1249.50 322.98L1251.03 323.96L1252.57 324.94L1254.11 325.92L1255.65 326.90L1257.19 327.89L1258.73 328.88L1260.26 329.86L1261.80 330.85L1263.34 331.84L1264.88 332.83L1266.42 333.82L1267.96 334.82L1269.49 335.82L1271.03 336.82L1272.57 337.84L1274.11 338.86L1275.65 339.88L1277.19 340.92L1278.73 341.97L1280.26 343.02L1281.80 344.09L1283.34 345.16L1284.88 346.25L1286.42 347.35L1287.96 348.45L1289.49 349.57L1291.03 350.69L1292.57 351.81L1294.11 352.94L1295.65 354.07L1297.19 355.20L1298.72 356.33L1300.26 357.45L1301.80 358.58L1303.34 359.70L1304.88 360.82L1306.42 361.92L1307.96 363.02L1309.49 364.12L1311.03 365.20L1312.57 366.28L1314.11 367.35L1315.65 368.41L1317.19 369.47L1318.72 370.52L1320.26 371.57L1321.80 372.62L1323.34 373.66L1324.88 374.70L1326.42 375.74L1327.95 376.77L1329.49 377.81L1331.03 378.85L1332.57 379.88L1334.11 380.92L1335.65 381.96L1337.19 383.00L1338.72 384.03L1340.26 385.07L1341.80 386.10L1343.34 387.14L1344.88 388.17L1346.42 389.19L1347.95 390.22L1349.49 391.24L1351.03 392.26L1352.57 393.27L1354.11 394.28L1355.65 395.28L1357.19 396.27L1358.72 397.26L1360.26 398.25L1361.80 399.23L1363.34 400.20L1364.88 401.17L1366.42 402.14L1367.95 403.10L1369.49 404.05L1371.03 405.01L1372.57 405.96L1374.11 406.91L1375.65 407.86L1377.18 408.80L1378.72 409.75L1380.26 410.69L1381.80 411.63"/><path stroke-width="2.1" d="M164.44 544.74L189.29 322.46L214.13 206.57"/><path d="M164.44 534.88L189.29 309.81L214.13 197.35L215.67 193.68L217.21 189.84L218.75 185.86L220.29 181.76L221.82 177.58L223.36 173.34L224.90 169.06L226.44 164.78L227.98 160.52L229.52 156.31L231.05 152.18L232.59 148.16L234.13 144.26L235.67 140.53L237.21 136.98L238.75 133.64L240.29 130.55L241.82 127.68L243.36 125.04L244.90 122.59L246.44 120.33L247.98 118.25L249.52 116.31L251.05 114.53L252.59 112.86L254.13 111.31L255.67 109.85L257.21 108.47L258.75 107.16L260.28 105.89L261.82 104.66L263.36 103.45L264.90 102.24L266.44 101.04L267.98 99.84L269.52 98.65L271.05 97.47L272.59 96.30L274.13 95.16L275.67 94.04L277.21 92.94L278.75 91.88L280.28 90.85L281.82 89.86L283.36 88.91L284.90 88.00L286.44 87.15L287.98 86.34L289.52 85.59L291.05 84.89L292.59 84.25L294.13 83.65L295.67 83.10L297.21 82.59L298.75 82.11L300.28 81.67L301.82 81.25L303.36 80.86L304.90 80.49L306.44 80.14L307.98 79.80L309.51 79.47L311.05 79.14L312.59 78.82L314.13 78.49L315.67 78.16L317.21 77.83L318.75 77.49L320.28 77.16L321.82 76.82L323.36 76.48L324.90 76.15L326.44 75.81L327.98 75.48L329.51 75.15L331.05 74.82L332.59 74.50L334.13 74.19L335.67 73.88L337.21 73.58L338.74 73.28L340.28 72.99L341.82 72.72L343.36 72.44L344.90 72.18L346.44 71.92L347.98 71.67L349.51 71.42L351.05 71.18L352.59 70.95L354.13 70.71L355.67 70.49L357.21 70.26L358.74 70.04L360.28 69.82L361.82 69.60L363.36 69.38L364.90 69.17L366.44 68.95L367.97 68.73L369.51 68.51L371.05 68.29L372.59 68.06L374.13 67.83L375.67 67.59L377.21 67.35L378.74 67.09L380.28 66.82L381.82 66.55L383.36 66.26L384.90 65.96L386.44 65.65L387.97 65.32L389.51 64.97L391.05 64.61L392.59 64.23L394.13 63.85L395.67 63.44L397.21 63.03L398.74 62.61L400.28 62.18L401.82 61.73L403.36 61.28L404.90 60.83L406.44 60.37L407.97 59.90L409.51 59.43L411.05 58.95L412.59 58.48L414.13 58.00L415.67 57.52L417.20 57.04L418.74 56.56L420.28 56.08L421.82 55.59L423.36 55.10L424.90 54.61L426.44 54.12L427.97 53.63L429.51 53.13L431.05 52.63L432.59 52.12L434.13 51.62L435.67 51.11L437.20 50.59L438.74 50.07L440.28 49.55L441.82 49.03L443.36 48.50L444.90 47.97L446.43 47.44L447.97 46.91L449.51 46.38L451.05 45.86L452.59 45.33L454.13 44.81L455.67 44.29L457.20 43.78L458.74 43.27L460.28 42.77L461.82 42.27L463.36 41.78L464.90 41.30L466.43 40.83L467.97 40.36L469.51 39.91L471.05 39.46L472.59 39.03L474.13 38.61L475.67 38.20L477.20 37.80L478.74 37.41L480.28 37.04L481.82 36.68L483.36 36.33L484.90 36.00L486.43 35.68L487.97 35.38L489.51 35.10L491.05 34.83L492.59 34.58L494.13 34.34L495.66 34.13L497.20 33.93L498.74 33.75L500.28 33.59L501.82 33.44L503.36 33.32L504.90 33.22L506.43 33.13L507.97 33.07L509.51 33.03L511.05 33.01L512.59 33.01L514.13 33.03L515.66 33.07L517.20 33.14L518.74 33.22L520.28 33.32L521.82 33.44L523.36 33.58L524.89 33.73L526.43 33.90L527.97 34.08L529.51 34.28L531.05 34.49L532.59 34.71L534.13 34.94L535.66 35.18L537.20 35.44L538.74 35.70L540.28 35.97L541.82 36.25L543.36 36.54L544.89 36.85L546.43 37.16L547.97 37.48L549.51 37.82L551.05 38.17L552.59 38.52L554.12 38.90L555.66 39.28L557.20 39.68L558.74 40.09L560.28 40.52L561.82 40.95L563.36 41.41L564.89 41.87L566.43 42.35L567.97 42.84L569.51 43.35L571.05 43.86L572.59 44.38L574.12 44.90L575.66 45.44L577.20 45.97L578.74 46.52L580.28 47.06L581.82 47.61L583.36 48.16L584.89 48.71L586.43 49.27L587.97 49.81L589.51 50.36L591.05 50.91L592.59 51.45L594.12 52.00L595.66 52.54L597.20 53.09L598.74 53.63L600.28 54.18L601.82 54.73L603.35 55.28L604.89 55.83L606.43 56.38L607.97 56.94L609.51 57.50L611.05 58.06L612.59 58.63L614.12 59.20L615.66 59.77L617.20 60.35L618.74 60.92L620.28 61.50L621.82 62.07L623.35 62.64L624.89 63.21L626.43 63.77L627.97 64.33L629.51 64.88L631.05 65.42L632.58 65.96L634.12 66.49L635.66 67.01L637.20 67.51L638.74 68.01L640.28 68.49L641.82 68.97L643.35 69.44L644.89 69.89L646.43 70.34L647.97 70.78L649.51 71.22L651.05 71.64L652.58 72.06L654.12 72.48L655.66 72.89L657.20 73.29L658.74 73.70L660.28 74.09L661.81 74.49L663.35 74.88L664.89 75.27L666.43 75.65L667.97 76.03L669.51 76.40L671.05 76.76L672.58 77.12L674.12 77.47L675.66 77.81L677.20 78.14L678.74 78.46L680.28 78.77L681.81 79.06L683.35 79.34L684.89 79.61L686.43 79.87L687.97 80.11L689.51 80.33L691.05 80.54L692.58 80.73L694.12 80.91L695.66 81.08L697.20 81.23L698.74 81.37L700.28 81.50L701.81 81.61L703.35 81.71L704.89 81.79L706.43 81.87L707.97 81.93L709.51 81.98L711.04 82.02L712.58 82.04L714.12 82.06L715.66 82.06L717.20 82.05L718.74 82.03L720.28 81.99L721.81 81.95L723.35 81.89L724.89 81.82L726.43 81.73L727.97 81.63L729.51 81.52L731.04 81.40L732.58 81.26L734.12 81.11L735.66 80.95L737.20 80.77L738.74 80.58L740.27 80.37L741.81 80.15L743.35 79.91L744.89 79.66L746.43 79.38L747.97 79.09L749.51 78.78L751.04 78.45L752.58 78.10L754.12 77.73L755.66 77.34L757.20 76.92L758.74 76.48L760.27 76.02L761.81 75.54L763.35 75.03L764.89 74.50L766.43 73.96L767.97 73.40L769.51 72.83L771.04 72.26L772.58 71.68L774.12 71.10L775.66 70.52L777.20 69.95L778.74 69.38L780.27 68.83L781.81 68.29L783.35 67.77L784.89 67.27L786.43 66.79L787.97 66.33L789.50 65.91L791.04 65.50L792.58 65.12L794.12 64.77L795.66 64.45L797.20 64.15L798.74 63.88L800.27 63.64L801.81 63.42L803.35 63.23L804.89 63.08L806.43 62.95L807.97 62.85L809.50 62.78L811.04 62.74L812.58 62.73L814.12 62.75L815.66 62.80L817.20 62.88L818.73 63.00L820.27 63.14L821.81 63.31L823.35 63.52L824.89 63.75L826.43 64.01L827.97 64.31L829.50 64.63L831.04 64.99L832.58 65.37L834.12 65.79L835.66 66.23L837.20 66.71L838.73 67.21L840.27 67.74L841.81 68.30L843.35 68.87L844.89 69.47L846.43 70.08L847.96 70.72L849.50 71.36L851.04 72.03L852.58 72.70L854.12 73.38L855.66 74.07L857.20 74.77L858.73 75.47L860.27 76.17L861.81 76.88L863.35 77.58L864.89 78.29L866.43 78.99L867.96 79.70L869.50 80.41L871.04 81.12L872.58 81.83L874.12 82.55L875.66 83.26L877.20 83.98L878.73 84.70L880.27 85.42L881.81 86.14L883.35 86.87L884.89 87.59L886.43 88.32L887.96 89.05L889.50 89.79L891.04 90.52L892.58 91.25L894.12 91.99L895.66 92.73L897.19 93.46L898.73 94.20L900.27 94.93L901.81 95.67L903.35 96.40L904.89 97.13L906.43 97.86L907.96 98.59L909.50 99.31L911.04 100.03L912.58 100.75L914.12 101.47L915.66 102.18L917.19 102.89L918.73 103.59L920.27 104.29L921.81 104.98L923.35 105.67L924.89 106.35L926.42 107.02L927.96 107.69L929.50 108.35L931.04 109.00L932.58 109.64L934.12 110.27L935.66 110.89L937.19 111.51L938.73 112.11L940.27 112.71L941.81 113.30L943.35 113.89L944.89 114.46L946.42 115.03L947.96 115.60L949.50 116.16L951.04 116.72L952.58 117.27L954.12 117.82L955.66 118.37L957.19 118.91L958.73 119.45L960.27 119.99L961.81 120.53L963.35 121.07L964.89 121.61L966.42 122.15L967.96 122.68L969.50 123.22L971.04 123.75L972.58 124.29L974.12 124.82L975.65 125.35L977.19 125.88L978.73 126.42L980.27 126.95L981.81 127.48L983.35 128.01L984.89 128.54L986.42 129.07L987.96 129.60L989.50 130.13L991.04 130.65L992.58 131.18L994.12 131.70L995.65 132.22L997.19 132.74L998.73 133.26L1000.27 133.77L1001.81 134.28L1003.35 134.79L1004.88 135.29L1006.42 135.79L1007.96 136.29L1009.50 136.77L1011.04 137.26L1012.58 137.74L1014.12 138.22L1015.65 138.71L1017.19 139.20L1018.73 139.69L1020.27 140.20L1021.81 140.71L1023.35 141.24L1024.88 141.79L1026.42 142.35L1027.96 142.93L1029.50 143.53L1031.04 144.16L1032.58 144.81L1034.11 145.50L1035.65 146.21L1037.19 146.95L1038.73 147.73L1040.27 148.54L1041.81 149.38L1043.35 150.25L1044.88 151.15L1046.42 152.09L1047.96 153.07L1049.50 154.07L1051.04 155.12L1052.58 156.20L1054.11 157.31L1055.65 158.46L1057.19 159.65L1058.73 160.87L1060.27 162.13L1061.81 163.43L1063.35 164.76L1064.88 166.12L1066.42 167.52L1067.96 168.95L1069.50 170.41L1071.04 171.89L1072.58 173.40L1074.11 174.94L1075.65 176.50L1077.19 178.09L1078.73 179.69L1080.27 181.32L1081.81 182.96L1083.34 184.62L1084.88 186.29L1086.42 187.98L1087.96 189.68L1089.50 191.39L1091.04 193.11L1092.58 194.83L1094.11 196.55L1095.65 198.26L1097.19 199.98L1098.73 201.69L1100.27 203.38L1101.81 205.07L1103.34 206.74L1104.88 208.40L1106.42 210.03L1107.96 211.65L1109.50 213.24L1111.04 214.81L1112.57 216.35L1114.11 217.86L1115.65 219.35L1117.19 220.82L1118.73 222.26L1120.27 223.67L1121.81 225.06L1123.34 226.43L1124.88 227.77L1126.42 229.08L1127.96 230.37L1129.50 231.64L1131.04 232.88L1132.57 234.09L1134.11 235.28L1135.65 236.44L1137.19 237.58L1138.73 238.70L1140.27 239.80L1141.80 240.87L1143.34 241.93L1144.88 242.97L1146.42 243.99L1147.96 244.99L1149.50 245.98L1151.04 246.96L1152.57 247.92L1154.11 248.87L1155.65 249.81L1157.19 250.74L1158.73 251.66L1160.27 252.58L1161.80 253.48L1163.34 254.38L1164.88 255.27L1166.42 256.15L1167.96 257.02L1169.50 257.88L1171.04 258.73L1172.57 259.58L1174.11 260.41L1175.65 261.24L1177.19 262.05L1178.73 262.86L1180.27 263.65L1181.80 264.43L1183.34 265.21L1184.88 265.97L1186.42 266.72L1187.96 267.47L1189.50 268.20L1191.03 268.93L1192.57 269.65L1194.11 270.36L1195.65 271.07L1197.19 271.77L1198.73 272.47L1200.27 273.16L1201.80 273.85L1203.34 274.54L1204.88 275.22L1206.42 275.90L1207.96 276.58L1209.50 277.26L1211.03 277.95L1212.57 278.63L1214.11 279.32L1215.65 280.01L1217.19 280.70L1218.73 281.41L1220.26 282.11L1221.80 282.83L1223.34 283.56L1224.88 284.30L1226.42 285.05L1227.96 285.81L1229.50 286.59L1231.03 287.38L1232.57 288.18L1234.11 289.01L1235.65 289.85L1237.19 290.70L1238.73 291.57L1240.26 292.45L1241.80 293.34L1243.34 294.24L1244.88 295.15L1246.42 296.06L1247.96 296.98L1249.50 297.90L1251.03 298.83L1252.57 299.76L1254.11 300.69L1255.65 301.61L1257.19 302.54L1258.73 303.46L1260.26 304.37L1261.80 305.29L1263.34 306.20L1264.88 307.12L1266.42 308.03L1267.96 308.96L1269.49 309.88L1271.03 310.82L1272.57 311.76L1274.11 312.71L1275.65 313.67L1277.19 314.64L1278.73 315.63L1280.26 316.63L1281.80 317.65L1283.34 318.69L1284.88 319.74L1286.42 320.81L1287.96 321.90L1289.49 322.99L1291.03 324.09L1292.57 325.20L1294.11 326.31L1295.65 327.43L1297.19 328.55L1298.72 329.66L1300.26 330.77L1301.80 331.88L1303.34 332.97L1304.88 334.06L1306.42 335.14L1307.96 336.20L1309.49 337.24L1311.03 338.27L1312.57 339.29L1314.11 340.30L1315.65 341.30L1317.19 342.29L1318.72 343.28L1320.26 344.25L1321.80 345.23L1323.34 346.20L1324.88 347.17L1326.42 348.14L1327.95 349.10L1329.49 350.08L1331.03 351.05L1332.57 352.03L1334.11 353.02L1335.65 354.01L1337.19 355.00L1338.72 356.00L1340.26 357.00L1341.80 358.00L1343.34 359.00L1344.88 360.00L1346.42 361.00L1347.95 362.00L1349.49 363.00L1351.03 363.99L1352.57 364.98L1354.11 365.97L1355.65 366.95L1357.19 367.92L1358.72 368.89L1360.26 369.85L1361.80 370.81L1363.34 371.76L1364.88 372.70L1366.42 373.64L1367.95 374.57L1369.49 375.51L1371.03 376.44L1372.57 377.36L1374.11 378.28L1375.65 379.20L1377.18 380.12L1378.72 381.04L1380.26 381.96L1381.80 382.87"/><path stroke-width="2.1" d="M164.44 534.88L189.29 309.81L214.13 197.35"/><path d="M164.44 520.51L189.29 303.23L214.13 192.09L215.67 188.37L217.21 184.49L218.75 180.46L220.29 176.32L221.82 172.09L223.36 167.80L224.90 163.48L226.44 159.15L227.98 154.85L229.52 150.59L231.05 146.41L232.59 142.33L234.13 138.39L235.67 134.60L237.21 131.00L238.75 127.61L240.29 124.45L241.82 121.53L243.36 118.83L244.90 116.32L246.44 114.01L247.98 111.86L249.52 109.88L251.05 108.04L252.59 106.32L254.13 104.72L255.67 103.22L257.21 101.81L258.75 100.46L260.28 99.17L261.82 97.92L263.36 96.70L264.90 95.48L266.44 94.28L267.98 93.09L269.52 91.91L271.05 90.75L272.59 89.61L274.13 88.49L275.67 87.40L277.21 86.33L278.75 85.30L280.28 84.30L281.82 83.34L283.36 82.42L284.90 81.54L286.44 80.71L287.98 79.93L289.52 79.20L291.05 78.52L292.59 77.89L294.13 77.30L295.67 76.75L297.21 76.24L298.75 75.77L300.28 75.32L301.82 74.90L303.36 74.50L304.90 74.13L306.44 73.77L307.98 73.42L309.51 73.08L311.05 72.75L312.59 72.42L314.13 72.09L315.67 71.76L317.21 71.42L318.75 71.08L320.28 70.75L321.82 70.41L323.36 70.07L324.90 69.74L326.44 69.40L327.98 69.07L329.51 68.74L331.05 68.42L332.59 68.10L334.13 67.79L335.67 67.48L337.21 67.18L338.74 66.88L340.28 66.59L341.82 66.32L343.36 66.04L344.90 65.78L346.44 65.52L347.98 65.26L349.51 65.02L351.05 64.77L352.59 64.54L354.13 64.30L355.67 64.08L357.21 63.85L358.74 63.63L360.28 63.41L361.82 63.20L363.36 62.98L364.90 62.77L366.44 62.56L367.97 62.35L369.51 62.14L371.05 61.92L372.59 61.70L374.13 61.48L375.67 61.24L377.21 61.00L378.74 60.75L380.28 60.49L381.82 60.22L383.36 59.93L384.90 59.64L386.44 59.32L387.97 58.99L389.51 58.64L391.05 58.27L392.59 57.89L394.13 57.49L395.67 57.08L397.21 56.65L398.74 56.21L400.28 55.77L401.82 55.31L403.36 54.85L404.90 54.37L406.44 53.89L407.97 53.41L409.51 52.92L411.05 52.43L412.59 51.94L414.13 51.44L415.67 50.95L417.20 50.45L418.74 49.96L420.28 49.46L421.82 48.96L423.36 48.46L424.90 47.96L426.44 47.45L427.97 46.94L429.51 46.43L431.05 45.92L432.59 45.40L434.13 44.89L435.67 44.36L437.20 43.84L438.74 43.31L440.28 42.78L441.82 42.24L443.36 41.71L444.90 41.17L446.43 40.63L447.97 40.10L449.51 39.56L451.05 39.02L452.59 38.49L454.13 37.96L455.67 37.43L457.20 36.91L458.74 36.39L460.28 35.88L461.82 35.38L463.36 34.88L464.90 34.39L466.43 33.91L467.97 33.43L469.51 32.97L471.05 32.51L472.59 32.07L474.13 31.64L475.67 31.22L477.20 30.81L478.74 30.41L480.28 30.03L481.82 29.66L483.36 29.31L484.90 28.97L486.43 28.65L487.97 28.34L489.51 28.05L491.05 27.78L492.59 27.52L494.13 27.28L495.66 27.06L497.20 26.86L498.74 26.68L500.28 26.51L501.82 26.36L503.36 26.24L504.90 26.13L506.43 26.04L507.97 25.97L509.51 25.93L511.05 25.90L512.59 25.90L514.13 25.91L515.66 25.95L517.20 26.00L518.74 26.08L520.28 26.17L521.82 26.28L523.36 26.41L524.89 26.55L526.43 26.71L527.97 26.88L529.51 27.07L531.05 27.27L532.59 27.48L534.13 27.70L535.66 27.94L537.20 28.18L538.74 28.44L540.28 28.70L541.82 28.98L543.36 29.26L544.89 29.56L546.43 29.87L547.97 30.18L549.51 30.51L551.05 30.85L552.59 31.20L554.12 31.56L555.66 31.94L557.20 32.33L558.74 32.72L560.28 33.14L561.82 33.56L563.36 34.00L564.89 34.44L566.43 34.90L567.97 35.37L569.51 35.85L571.05 36.34L572.59 36.84L574.12 37.34L575.66 37.85L577.20 38.37L578.74 38.88L580.28 39.41L581.82 39.93L583.36 40.46L584.89 40.99L586.43 41.52L587.97 42.05L589.51 42.58L591.05 43.10L592.59 43.63L594.12 44.16L595.66 44.69L597.20 45.22L598.74 45.75L600.28 46.29L601.82 46.82L603.35 47.36L604.89 47.90L606.43 48.45L607.97 48.99L609.51 49.55L611.05 50.10L612.59 50.66L614.12 51.23L615.66 51.79L617.20 52.36L618.74 52.93L620.28 53.50L621.82 54.06L623.35 54.63L624.89 55.19L626.43 55.74L627.97 56.29L629.51 56.83L631.05 57.37L632.58 57.89L634.12 58.40L635.66 58.91L637.20 59.40L638.74 59.88L640.28 60.34L641.82 60.80L643.35 61.24L644.89 61.68L646.43 62.10L647.97 62.52L649.51 62.93L651.05 63.33L652.58 63.73L654.12 64.12L655.66 64.50L657.20 64.89L658.74 65.27L660.28 65.64L661.81 66.02L663.35 66.39L664.89 66.76L666.43 67.13L667.97 67.50L669.51 67.86L671.05 68.21L672.58 68.55L674.12 68.89L675.66 69.22L677.20 69.54L678.74 69.85L680.28 70.14L681.81 70.42L683.35 70.69L684.89 70.95L686.43 71.19L687.97 71.41L689.51 71.62L691.05 71.81L692.58 71.99L694.12 72.15L695.66 72.30L697.20 72.43L698.74 72.55L700.28 72.65L701.81 72.75L703.35 72.83L704.89 72.90L706.43 72.95L707.97 73.00L709.51 73.03L711.04 73.06L712.58 73.07L714.12 73.07L715.66 73.06L717.20 73.04L718.74 73.01L720.28 72.97L721.81 72.92L723.35 72.85L724.89 72.78L726.43 72.69L727.97 72.58L729.51 72.47L731.04 72.34L732.58 72.20L734.12 72.05L735.66 71.88L737.20 71.70L738.74 71.51L740.27 71.30L741.81 71.07L743.35 70.83L744.89 70.57L746.43 70.29L747.97 70.00L749.51 69.68L751.04 69.35L752.58 68.99L754.12 68.61L755.66 68.21L757.20 67.78L758.74 67.33L760.27 66.85L761.81 66.35L763.35 65.83L764.89 65.28L766.43 64.71L767.97 64.14L769.51 63.55L771.04 62.95L772.58 62.34L774.12 61.74L775.66 61.13L777.20 60.53L778.74 59.93L780.27 59.35L781.81 58.78L783.35 58.22L784.89 57.68L786.43 57.17L787.97 56.68L789.50 56.21L791.04 55.77L792.58 55.35L794.12 54.96L795.66 54.60L797.20 54.27L798.74 53.96L800.27 53.68L801.81 53.43L803.35 53.21L804.89 53.01L806.43 52.85L807.97 52.72L809.50 52.63L811.04 52.56L812.58 52.53L814.12 52.52L815.66 52.56L817.20 52.62L818.73 52.71L820.27 52.84L821.81 53.00L823.35 53.19L824.89 53.41L826.43 53.67L827.97 53.95L829.50 54.27L831.04 54.62L832.58 55.00L834.12 55.41L835.66 55.85L837.20 56.32L838.73 56.82L840.27 57.35L841.81 57.90L843.35 58.48L844.89 59.07L846.43 59.68L847.96 60.31L849.50 60.95L851.04 61.61L852.58 62.27L854.12 62.95L855.66 63.63L857.20 64.31L858.73 64.99L860.27 65.68L861.81 66.36L863.35 67.05L864.89 67.73L866.43 68.41L867.96 69.09L869.50 69.77L871.04 70.45L872.58 71.13L874.12 71.82L875.66 72.50L877.20 73.18L878.73 73.87L880.27 74.56L881.81 75.25L883.35 75.95L884.89 76.64L886.43 77.34L887.96 78.05L889.50 78.75L891.04 79.46L892.58 80.17L894.12 80.89L895.66 81.60L897.19 82.31L898.73 83.03L900.27 83.74L901.81 84.46L903.35 85.17L904.89 85.88L906.43 86.59L907.96 87.30L909.50 88.01L911.04 88.71L912.58 89.41L914.12 90.11L915.66 90.80L917.19 91.49L918.73 92.17L920.27 92.85L921.81 93.52L923.35 94.18L924.89 94.84L926.42 95.49L927.96 96.13L929.50 96.77L931.04 97.39L932.58 98.01L934.12 98.62L935.66 99.21L937.19 99.80L938.73 100.38L940.27 100.95L941.81 101.51L943.35 102.06L944.89 102.61L946.42 103.15L947.96 103.68L949.50 104.21L951.04 104.73L952.58 105.25L954.12 105.77L955.66 106.28L957.19 106.80L958.73 107.31L960.27 107.81L961.81 108.32L963.35 108.83L964.89 109.34L966.42 109.84L967.96 110.35L969.50 110.85L971.04 111.36L972.58 111.86L974.12 112.37L975.65 112.87L977.19 113.38L978.73 113.88L980.27 114.39L981.81 114.89L983.35 115.40L984.89 115.91L986.42 116.41L987.96 116.92L989.50 117.43L991.04 117.93L992.58 118.44L994.12 118.94L995.65 119.44L997.19 119.94L998.73 120.44L1000.27 120.94L1001.81 121.43L1003.35 121.92L1004.88 122.40L1006.42 122.88L1007.96 123.36L1009.50 123.83L1011.04 124.30L1012.58 124.76L1014.12 125.22L1015.65 125.69L1017.19 126.16L1018.73 126.64L1020.27 127.13L1021.81 127.62L1023.35 128.14L1024.88 128.66L1026.42 129.21L1027.96 129.77L1029.50 130.36L1031.04 130.97L1032.58 131.60L1034.11 132.27L1035.65 132.96L1037.19 133.69L1038.73 134.45L1040.27 135.24L1041.81 136.06L1043.35 136.91L1044.88 137.80L1046.42 138.72L1047.96 139.67L1049.50 140.66L1051.04 141.68L1052.58 142.73L1054.11 143.82L1055.65 144.94L1057.19 146.10L1058.73 147.29L1060.27 148.52L1061.81 149.78L1063.35 151.07L1064.88 152.40L1066.42 153.76L1067.96 155.14L1069.50 156.56L1071.04 158.00L1072.58 159.47L1074.11 160.97L1075.65 162.49L1077.19 164.03L1078.73 165.59L1080.27 167.18L1081.81 168.78L1083.34 170.40L1084.88 172.04L1086.42 173.70L1087.96 175.36L1089.50 177.04L1091.04 178.72L1092.58 180.41L1094.11 182.10L1095.65 183.79L1097.19 185.48L1098.73 187.16L1100.27 188.84L1101.81 190.50L1103.34 192.16L1104.88 193.79L1106.42 195.41L1107.96 197.01L1109.50 198.58L1111.04 200.13L1112.57 201.66L1114.11 203.16L1115.65 204.64L1117.19 206.09L1118.73 207.52L1120.27 208.92L1121.81 210.29L1123.34 211.64L1124.88 212.96L1126.42 214.26L1127.96 215.53L1129.50 216.77L1131.04 217.98L1132.57 219.17L1134.11 220.33L1135.65 221.46L1137.19 222.57L1138.73 223.65L1140.27 224.71L1141.80 225.74L1143.34 226.76L1144.88 227.75L1146.42 228.73L1147.96 229.69L1149.50 230.64L1151.04 231.57L1152.57 232.49L1154.11 233.40L1155.65 234.30L1157.19 235.19L1158.73 236.08L1160.27 236.95L1161.80 237.83L1163.34 238.69L1164.88 239.55L1166.42 240.40L1167.96 241.24L1169.50 242.07L1171.04 242.89L1172.57 243.71L1174.11 244.51L1175.65 245.31L1177.19 246.10L1178.73 246.87L1180.27 247.64L1181.80 248.39L1183.34 249.13L1184.88 249.86L1186.42 250.58L1187.96 251.29L1189.50 251.99L1191.03 252.68L1192.57 253.36L1194.11 254.04L1195.65 254.71L1197.19 255.38L1198.73 256.04L1200.27 256.69L1201.80 257.35L1203.34 258.00L1204.88 258.65L1206.42 259.29L1207.96 259.94L1209.50 260.59L1211.03 261.24L1212.57 261.90L1214.11 262.55L1215.65 263.22L1217.19 263.89L1218.73 264.56L1220.26 265.24L1221.80 265.94L1223.34 266.64L1224.88 267.35L1226.42 268.08L1227.96 268.82L1229.50 269.57L1231.03 270.34L1232.57 271.12L1234.11 271.92L1235.65 272.73L1237.19 273.56L1238.73 274.41L1240.26 275.26L1241.80 276.13L1243.34 277.00L1244.88 277.88L1246.42 278.76L1247.96 279.65L1249.50 280.54L1251.03 281.44L1252.57 282.33L1254.11 283.22L1255.65 284.10L1257.19 284.98L1258.73 285.86L1260.26 286.73L1261.80 287.59L1263.34 288.45L1264.88 289.32L1266.42 290.18L1267.96 291.05L1269.49 291.93L1271.03 292.81L1272.57 293.70L1274.11 294.61L1275.65 295.52L1277.19 296.45L1278.73 297.40L1280.26 298.37L1281.80 299.35L1283.34 300.36L1284.88 301.39L1286.42 302.44L1287.96 303.51L1289.49 304.59L1291.03 305.68L1292.57 306.78L1294.11 307.88L1295.65 308.99L1297.19 310.10L1298.72 311.20L1300.26 312.30L1301.80 313.39L1303.34 314.47L1304.88 315.54L1306.42 316.59L1307.96 317.62L1309.49 318.64L1311.03 319.63L1312.57 320.61L1314.11 321.58L1315.65 322.53L1317.19 323.48L1318.72 324.41L1320.26 325.34L1321.80 326.27L1323.34 327.19L1324.88 328.11L1326.42 329.03L1327.95 329.95L1329.49 330.87L1331.03 331.81L1332.57 332.75L1334.11 333.70L1335.65 334.65L1337.19 335.62L1338.72 336.59L1340.26 337.56L1341.80 338.54L1343.34 339.52L1344.88 340.50L1346.42 341.48L1347.95 342.46L1349.49 343.44L1351.03 344.42L1352.57 345.40L1354.11 346.37L1355.65 347.33L1357.19 348.29L1358.72 349.24L1360.26 350.19L1361.80 351.13L1363.34 352.06L1364.88 352.99L1366.42 353.91L1367.95 354.83L1369.49 355.74L1371.03 356.65L1372.57 357.56L1374.11 358.47L1375.65 359.37L1377.18 360.27L1378.72 361.17L1380.26 362.07L1381.80 362.96"/><path stroke-width="2.1" d="M164.44 520.51L189.29 303.23L214.13 192.09"/><path d="M164.44 509.60L189.29 298.49L214.13 188.13L215.67 184.42L217.21 180.53L218.75 176.50L220.29 172.36L221.82 168.14L223.36 163.85L224.90 159.53L226.44 155.20L227.98 150.89L229.52 146.63L231.05 142.45L232.59 138.37L234.13 134.41L235.67 130.61L237.21 126.99L238.75 123.58L240.29 120.40L241.82 117.45L243.36 114.72L244.90 112.18L246.44 109.83L247.98 107.65L249.52 105.63L251.05 103.75L252.59 102.00L254.13 100.37L255.67 98.84L257.21 97.39L258.75 96.02L260.28 94.70L261.82 93.43L263.36 92.20L264.90 90.98L266.44 89.77L267.98 88.58L269.52 87.41L271.05 86.26L272.59 85.13L274.13 84.03L275.67 82.96L277.21 81.91L278.75 80.90L280.28 79.93L281.82 78.99L283.36 78.09L284.90 77.24L286.44 76.42L287.98 75.66L289.52 74.94L291.05 74.27L292.59 73.65L294.13 73.07L295.67 72.52L297.21 72.01L298.75 71.54L300.28 71.09L301.82 70.67L303.36 70.27L304.90 69.89L306.44 69.52L307.98 69.17L309.51 68.83L311.05 68.49L312.59 68.16L314.13 67.82L315.67 67.49L317.21 67.15L318.75 66.81L320.28 66.47L321.82 66.13L323.36 65.80L324.90 65.46L326.44 65.13L327.98 64.80L329.51 64.47L331.05 64.15L332.59 63.83L334.13 63.52L335.67 63.21L337.21 62.91L338.74 62.61L340.28 62.33L341.82 62.05L343.36 61.78L344.90 61.51L346.44 61.25L347.98 60.99L349.51 60.75L351.05 60.50L352.59 60.26L354.13 60.03L355.67 59.80L357.21 59.58L358.74 59.36L360.28 59.14L361.82 58.93L363.36 58.72L364.90 58.51L366.44 58.30L367.97 58.09L369.51 57.89L371.05 57.68L372.59 57.46L374.13 57.24L375.67 57.01L377.21 56.77L378.74 56.53L380.28 56.27L381.82 56.00L383.36 55.72L384.90 55.42L386.44 55.10L387.97 54.77L389.51 54.42L391.05 54.04L392.59 53.65L394.13 53.25L395.67 52.83L397.21 52.40L398.74 51.95L400.28 51.50L401.82 51.03L403.36 50.55L404.90 50.07L406.44 49.58L407.97 49.08L409.51 48.58L411.05 48.08L412.59 47.58L414.13 47.07L415.67 46.57L417.20 46.06L418.74 45.56L420.28 45.05L421.82 44.54L423.36 44.03L424.90 43.52L426.44 43.00L427.97 42.49L429.51 41.97L431.05 41.45L432.59 40.93L434.13 40.40L435.67 39.87L437.20 39.34L438.74 38.80L440.28 38.26L441.82 37.72L443.36 37.18L444.90 36.64L446.43 36.09L447.97 35.55L449.51 35.01L451.05 34.47L452.59 33.93L454.13 33.39L455.67 32.86L457.20 32.33L458.74 31.81L460.28 31.29L461.82 30.78L463.36 30.28L464.90 29.78L466.43 29.29L467.97 28.81L469.51 28.34L471.05 27.88L472.59 27.43L474.13 26.99L475.67 26.56L477.20 26.15L478.74 25.75L480.28 25.36L481.82 24.98L483.36 24.63L484.90 24.28L486.43 23.95L487.97 23.64L489.51 23.35L491.05 23.07L492.59 22.81L494.13 22.57L495.66 22.35L497.20 22.15L498.74 21.96L500.28 21.79L501.82 21.64L503.36 21.52L504.90 21.41L506.43 21.32L507.97 21.24L509.51 21.19L511.05 21.16L512.59 21.15L514.13 21.17L515.66 21.20L517.20 21.25L518.74 21.31L520.28 21.40L521.82 21.50L523.36 21.62L524.89 21.76L526.43 21.91L527.97 22.08L529.51 22.26L531.05 22.45L532.59 22.66L534.13 22.88L535.66 23.11L537.20 23.35L538.74 23.60L540.28 23.86L541.82 24.13L543.36 24.41L544.89 24.70L546.43 25.00L547.97 25.32L549.51 25.64L551.05 25.97L552.59 26.32L554.12 26.68L555.66 27.04L557.20 27.42L558.74 27.81L560.28 28.22L561.82 28.63L563.36 29.06L564.89 29.49L566.43 29.94L567.97 30.40L569.51 30.86L571.05 31.33L572.59 31.81L574.12 32.30L575.66 32.79L577.20 33.29L578.74 33.80L580.28 34.30L581.82 34.81L583.36 35.33L584.89 35.84L586.43 36.35L587.97 36.87L589.51 37.39L591.05 37.90L592.59 38.42L594.12 38.94L595.66 39.46L597.20 39.98L598.74 40.50L600.28 41.02L601.82 41.55L603.35 42.08L604.89 42.62L606.43 43.16L607.97 43.70L609.51 44.24L611.05 44.79L612.59 45.35L614.12 45.91L615.66 46.47L617.20 47.03L618.74 47.60L620.28 48.16L621.82 48.72L623.35 49.28L624.89 49.84L626.43 50.39L627.97 50.93L629.51 51.47L631.05 51.99L632.58 52.51L634.12 53.02L635.66 53.51L637.20 53.99L638.74 54.45L640.28 54.91L641.82 55.35L643.35 55.78L644.89 56.20L646.43 56.61L647.97 57.01L649.51 57.40L651.05 57.79L652.58 58.17L654.12 58.54L655.66 58.91L657.20 59.28L658.74 59.65L660.28 60.01L661.81 60.37L663.35 60.74L664.89 61.10L666.43 61.46L667.97 61.81L669.51 62.16L671.05 62.50L672.58 62.84L674.12 63.17L675.66 63.49L677.20 63.80L678.74 64.10L680.28 64.39L681.81 64.67L683.35 64.93L684.89 65.17L686.43 65.40L687.97 65.62L689.51 65.81L691.05 65.99L692.58 66.16L694.12 66.30L695.66 66.44L697.20 66.56L698.74 66.67L700.28 66.76L701.81 66.84L703.35 66.91L704.89 66.97L706.43 67.01L707.97 67.04L709.51 67.07L711.04 67.08L712.58 67.09L714.12 67.08L715.66 67.07L717.20 67.04L718.74 67.00L720.28 66.96L721.81 66.90L723.35 66.83L724.89 66.75L726.43 66.66L727.97 66.55L729.51 66.43L731.04 66.30L732.58 66.16L734.12 66.01L735.66 65.84L737.20 65.66L738.74 65.46L740.27 65.25L741.81 65.02L743.35 64.78L744.89 64.52L746.43 64.24L747.97 63.94L749.51 63.62L751.04 63.28L752.58 62.91L754.12 62.53L755.66 62.12L757.20 61.68L758.74 61.22L760.27 60.74L761.81 60.23L763.35 59.69L764.89 59.13L766.43 58.55L767.97 57.96L769.51 57.36L771.04 56.74L772.58 56.12L774.12 55.49L775.66 54.87L777.20 54.25L778.74 53.63L780.27 53.03L781.81 52.43L783.35 51.85L784.89 51.29L786.43 50.75L787.97 50.24L789.50 49.75L791.04 49.28L792.58 48.84L794.12 48.43L795.66 48.04L797.20 47.68L798.74 47.34L800.27 47.04L801.81 46.76L803.35 46.52L804.89 46.31L806.43 46.12L807.97 45.97L809.50 45.86L811.04 45.77L812.58 45.72L814.12 45.71L815.66 45.72L817.20 45.77L818.73 45.86L820.27 45.97L821.81 46.12L823.35 46.31L824.89 46.52L826.43 46.77L827.97 47.05L829.50 47.36L831.04 47.71L832.58 48.08L834.12 48.49L835.66 48.93L837.20 49.40L838.73 49.90L840.27 50.42L841.81 50.97L843.35 51.54L844.89 52.14L846.43 52.75L847.96 53.37L849.50 54.01L851.04 54.66L852.58 55.32L854.12 55.99L855.66 56.66L857.20 57.34L858.73 58.01L860.27 58.69L861.81 59.36L863.35 60.02L864.89 60.69L866.43 61.35L867.96 62.02L869.50 62.68L871.04 63.34L872.58 64.00L874.12 64.66L875.66 65.32L877.20 65.99L878.73 66.65L880.27 67.32L881.81 67.99L883.35 68.67L884.89 69.34L886.43 70.03L887.96 70.71L889.50 71.40L891.04 72.09L892.58 72.79L894.12 73.49L895.66 74.18L897.19 74.88L898.73 75.58L900.27 76.29L901.81 76.99L903.35 77.69L904.89 78.39L906.43 79.08L907.96 79.78L909.50 80.47L911.04 81.16L912.58 81.85L914.12 82.53L915.66 83.21L917.19 83.89L918.73 84.56L920.27 85.22L921.81 85.88L923.35 86.53L924.89 87.17L926.42 87.80L927.96 88.43L929.50 89.05L931.04 89.66L932.58 90.26L934.12 90.85L935.66 91.43L937.19 91.99L938.73 92.55L940.27 93.10L941.81 93.64L943.35 94.18L944.89 94.70L946.42 95.22L947.96 95.73L949.50 96.24L951.04 96.74L952.58 97.24L954.12 97.74L955.66 98.23L957.19 98.72L958.73 99.21L960.27 99.70L961.81 100.18L963.35 100.67L964.89 101.16L966.42 101.64L967.96 102.13L969.50 102.61L971.04 103.10L972.58 103.58L974.12 104.07L975.65 104.56L977.19 105.04L978.73 105.53L980.27 106.02L981.81 106.51L983.35 107.00L984.89 107.49L986.42 107.98L987.96 108.47L989.50 108.96L991.04 109.45L992.58 109.94L994.12 110.43L995.65 110.92L997.19 111.41L998.73 111.89L1000.27 112.38L1001.81 112.86L1003.35 113.33L1004.88 113.80L1006.42 114.27L1007.96 114.74L1009.50 115.20L1011.04 115.65L1012.58 116.11L1014.12 116.56L1015.65 117.01L1017.19 117.47L1018.73 117.94L1020.27 118.41L1021.81 118.90L1023.35 119.40L1024.88 119.91L1026.42 120.44L1027.96 121.00L1029.50 121.57L1031.04 122.17L1032.58 122.79L1034.11 123.45L1035.65 124.13L1037.19 124.85L1038.73 125.60L1040.27 126.37L1041.81 127.18L1043.35 128.02L1044.88 128.90L1046.42 129.80L1047.96 130.74L1049.50 131.71L1051.04 132.72L1052.58 133.75L1054.11 134.82L1055.65 135.93L1057.19 137.06L1058.73 138.24L1060.27 139.44L1061.81 140.68L1063.35 141.95L1064.88 143.25L1066.42 144.58L1067.96 145.94L1069.50 147.33L1071.04 148.75L1072.58 150.19L1074.11 151.66L1075.65 153.15L1077.19 154.66L1078.73 156.20L1080.27 157.75L1081.81 159.33L1083.34 160.93L1084.88 162.54L1086.42 164.17L1087.96 165.82L1089.50 167.47L1091.04 169.13L1092.58 170.80L1094.11 172.47L1095.65 174.15L1097.19 175.82L1098.73 177.48L1100.27 179.14L1101.81 180.79L1103.34 182.43L1104.88 184.05L1106.42 185.66L1107.96 187.24L1109.50 188.81L1111.04 190.35L1112.57 191.87L1114.11 193.36L1115.65 194.83L1117.19 196.27L1118.73 197.69L1120.27 199.08L1121.81 200.44L1123.34 201.78L1124.88 203.09L1126.42 204.37L1127.96 205.63L1129.50 206.86L1131.04 208.06L1132.57 209.22L1134.11 210.36L1135.65 211.47L1137.19 212.56L1138.73 213.61L1140.27 214.65L1141.80 215.66L1143.34 216.64L1144.88 217.61L1146.42 218.56L1147.96 219.49L1149.50 220.41L1151.04 221.32L1152.57 222.21L1154.11 223.09L1155.65 223.96L1157.19 224.83L1158.73 225.69L1160.27 226.54L1161.80 227.39L1163.34 228.23L1164.88 229.07L1166.42 229.89L1167.96 230.72L1169.50 231.53L1171.04 232.33L1172.57 233.13L1174.11 233.92L1175.65 234.69L1177.19 235.46L1178.73 236.22L1180.27 236.96L1181.80 237.69L1183.34 238.41L1184.88 239.12L1186.42 239.82L1187.96 240.50L1189.50 241.18L1191.03 241.85L1192.57 242.51L1194.11 243.16L1195.65 243.80L1197.19 244.44L1198.73 245.08L1200.27 245.71L1201.80 246.34L1203.34 246.97L1204.88 247.60L1206.42 248.22L1207.96 248.85L1209.50 249.48L1211.03 250.11L1212.57 250.74L1214.11 251.38L1215.65 252.02L1217.19 252.67L1218.73 253.33L1220.26 254.00L1221.80 254.67L1223.34 255.36L1224.88 256.06L1226.42 256.77L1227.96 257.49L1229.50 258.22L1231.03 258.98L1232.57 259.74L1234.11 260.53L1235.65 261.33L1237.19 262.14L1238.73 262.97L1240.26 263.80L1241.80 264.65L1243.34 265.51L1244.88 266.37L1246.42 267.23L1247.96 268.10L1249.50 268.97L1251.03 269.84L1252.57 270.71L1254.11 271.57L1255.65 272.43L1257.19 273.28L1258.73 274.12L1260.26 274.96L1261.80 275.79L1263.34 276.62L1264.88 277.45L1266.42 278.28L1267.96 279.12L1269.49 279.96L1271.03 280.81L1272.57 281.67L1274.11 282.54L1275.65 283.42L1277.19 284.32L1278.73 285.25L1280.26 286.19L1281.80 287.15L1283.34 288.15L1284.88 289.16L1286.42 290.20L1287.96 291.25L1289.49 292.32L1291.03 293.41L1292.57 294.50L1294.11 295.60L1295.65 296.70L1297.19 297.80L1298.72 298.89L1300.26 299.99L1301.80 301.07L1303.34 302.14L1304.88 303.19L1306.42 304.23L1307.96 305.24L1309.49 306.23L1311.03 307.21L1312.57 308.16L1314.11 309.10L1315.65 310.02L1317.19 310.93L1318.72 311.84L1320.26 312.73L1321.80 313.62L1323.34 314.51L1324.88 315.40L1326.42 316.29L1327.95 317.18L1329.49 318.07L1331.03 318.98L1332.57 319.89L1334.11 320.82L1335.65 321.75L1337.19 322.70L1338.72 323.65L1340.26 324.60L1341.80 325.56L1343.34 326.53L1344.88 327.50L1346.42 328.47L1347.95 329.44L1349.49 330.41L1351.03 331.38L1352.57 332.34L1354.11 333.30L1355.65 334.26L1357.19 335.21L1358.72 336.15L1360.26 337.08L1361.80 338.01L1363.34 338.93L1364.88 339.85L1366.42 340.76L1367.95 341.67L1369.49 342.57L1371.03 343.47L1372.57 344.36L1374.11 345.25L1375.65 346.14L1377.18 347.03L1378.72 347.92L1380.26 348.80L1381.80 349.69"/><path stroke-width="2.1" d="M164.44 509.60L189.29 298.49L214.13 188.13"/><path d="M164.44 501.70L189.29 295.33L214.13 185.50L215.67 181.77L217.21 177.87L218.75 173.83L220.29 169.67L221.82 165.43L223.36 161.13L224.90 156.79L226.44 152.45L227.98 148.12L229.52 143.85L231.05 139.65L232.59 135.54L234.13 131.57L235.67 127.75L237.21 124.11L238.75 120.68L240.29 117.47L241.82 114.50L243.36 111.74L244.90 109.17L246.44 106.79L247.98 104.59L249.52 102.54L251.05 100.64L252.59 98.86L254.13 97.21L255.67 95.65L257.21 94.19L258.75 92.80L260.28 91.47L261.82 90.19L263.36 88.95L264.90 87.72L266.44 86.51L267.98 85.33L269.52 84.16L271.05 83.02L272.59 81.90L274.13 80.81L275.67 79.76L277.21 78.73L278.75 77.73L280.28 76.77L281.82 75.85L283.36 74.97L284.90 74.12L286.44 73.33L287.98 72.57L289.52 71.86L291.05 71.20L292.59 70.58L294.13 70.01L295.67 69.47L297.21 68.96L298.75 68.48L300.28 68.03L301.82 67.61L303.36 67.21L304.90 66.82L306.44 66.45L307.98 66.10L309.51 65.75L311.05 65.41L312.59 65.08L314.13 64.74L315.67 64.40L317.21 64.06L318.75 63.72L320.28 63.38L321.82 63.05L323.36 62.71L324.90 62.37L326.44 62.04L327.98 61.71L329.51 61.39L331.05 61.06L332.59 60.75L334.13 60.43L335.67 60.13L337.21 59.83L338.74 59.53L340.28 59.25L341.82 58.97L343.36 58.69L344.90 58.43L346.44 58.17L347.98 57.91L349.51 57.66L351.05 57.42L352.59 57.18L354.13 56.95L355.67 56.72L357.21 56.49L358.74 56.27L360.28 56.06L361.82 55.84L363.36 55.63L364.90 55.43L366.44 55.23L367.97 55.02L369.51 54.82L371.05 54.61L372.59 54.40L374.13 54.18L375.67 53.95L377.21 53.72L378.74 53.48L380.28 53.22L381.82 52.95L383.36 52.67L384.90 52.37L386.44 52.06L387.97 51.72L389.51 51.37L391.05 50.99L392.59 50.60L394.13 50.19L395.67 49.76L397.21 49.33L398.74 48.87L400.28 48.41L401.82 47.94L403.36 47.45L404.90 46.96L406.44 46.46L407.97 45.96L409.51 45.45L411.05 44.94L412.59 44.43L414.13 43.92L415.67 43.40L417.20 42.89L418.74 42.38L420.28 41.86L421.82 41.35L423.36 40.83L424.90 40.31L426.44 39.79L427.97 39.27L429.51 38.74L431.05 38.22L432.59 37.69L434.13 37.16L435.67 36.62L437.20 36.09L438.74 35.55L440.28 35.00L441.82 34.46L443.36 33.91L444.90 33.36L446.43 32.82L447.97 32.27L449.51 31.72L451.05 31.18L452.59 30.63L454.13 30.09L455.67 29.56L457.20 29.03L458.74 28.50L460.28 27.98L461.82 27.46L463.36 26.95L464.90 26.45L466.43 25.96L467.97 25.47L469.51 25.00L471.05 24.53L472.59 24.08L474.13 23.63L475.67 23.20L477.20 22.78L478.74 22.38L480.28 21.99L481.82 21.61L483.36 21.24L484.90 20.90L486.43 20.57L487.97 20.25L489.51 19.96L491.05 19.68L492.59 19.42L494.13 19.17L495.66 18.95L497.20 18.74L498.74 18.56L500.28 18.39L501.82 18.24L503.36 18.11L504.90 17.99L506.43 17.90L507.97 17.83L509.51 17.78L511.05 17.74L512.59 17.73L514.13 17.74L515.66 17.76L517.20 17.81L518.74 17.87L520.28 17.96L521.82 18.06L523.36 18.17L524.89 18.30L526.43 18.45L527.97 18.61L529.51 18.79L531.05 18.98L532.59 19.18L534.13 19.39L535.66 19.62L537.20 19.85L538.74 20.10L540.28 20.36L541.82 20.63L543.36 20.90L544.89 21.19L546.43 21.49L547.97 21.80L549.51 22.12L551.05 22.45L552.59 22.79L554.12 23.15L555.66 23.51L557.20 23.88L558.74 24.27L560.28 24.66L561.82 25.07L563.36 25.49L564.89 25.92L566.43 26.35L567.97 26.80L569.51 27.25L571.05 27.72L572.59 28.19L574.12 28.66L575.66 29.14L577.20 29.63L578.74 30.12L580.28 30.62L581.82 31.12L583.36 31.62L584.89 32.12L586.43 32.63L587.97 33.13L589.51 33.64L591.05 34.14L592.59 34.65L594.12 35.16L595.66 35.67L597.20 36.19L598.74 36.70L600.28 37.22L601.82 37.75L603.35 38.27L604.89 38.80L606.43 39.33L607.97 39.87L609.51 40.41L611.05 40.96L612.59 41.51L614.12 42.07L615.66 42.63L617.20 43.19L618.74 43.75L620.28 44.31L621.82 44.87L623.35 45.43L624.89 45.98L626.43 46.52L627.97 47.06L629.51 47.59L631.05 48.11L632.58 48.63L634.12 49.12L635.66 49.61L637.20 50.08L638.74 50.54L640.28 50.98L641.82 51.41L643.35 51.83L644.89 52.24L646.43 52.64L647.97 53.03L649.51 53.41L651.05 53.78L652.58 54.15L654.12 54.52L655.66 54.88L657.20 55.23L658.74 55.59L660.28 55.94L661.81 56.30L663.35 56.65L664.89 57.00L666.43 57.36L667.97 57.70L669.51 58.05L671.05 58.39L672.58 58.72L674.12 59.04L675.66 59.36L677.20 59.66L678.74 59.96L680.28 60.24L681.81 60.51L683.35 60.76L684.89 61.00L686.43 61.22L687.97 61.43L689.51 61.62L691.05 61.79L692.58 61.94L694.12 62.08L695.66 62.21L697.20 62.32L698.74 62.42L700.28 62.50L701.81 62.57L703.35 62.63L704.89 62.68L706.43 62.72L707.97 62.74L709.51 62.76L711.04 62.77L712.58 62.77L714.12 62.75L715.66 62.73L717.20 62.70L718.74 62.66L720.28 62.61L721.81 62.55L723.35 62.48L724.89 62.40L726.43 62.30L727.97 62.19L729.51 62.07L731.04 61.94L732.58 61.80L734.12 61.64L735.66 61.47L737.20 61.29L738.74 61.09L740.27 60.88L741.81 60.65L743.35 60.41L744.89 60.14L746.43 59.86L747.97 59.56L749.51 59.23L751.04 58.89L752.58 58.52L754.12 58.13L755.66 57.72L757.20 57.28L758.74 56.82L760.27 56.32L761.81 55.81L763.35 55.26L764.89 54.69L766.43 54.11L767.97 53.50L769.51 52.88L771.04 52.26L772.58 51.62L774.12 50.99L775.66 50.35L777.20 49.71L778.74 49.08L780.27 48.46L781.81 47.85L783.35 47.26L784.89 46.68L786.43 46.12L787.97 45.59L789.50 45.08L791.04 44.60L792.58 44.14L794.12 43.70L795.66 43.30L797.20 42.92L798.74 42.57L800.27 42.24L801.81 41.95L803.35 41.69L804.89 41.46L806.43 41.26L807.97 41.10L809.50 40.97L811.04 40.87L812.58 40.81L814.12 40.78L815.66 40.79L817.20 40.83L818.73 40.91L820.27 41.02L821.81 41.16L823.35 41.33L824.89 41.54L826.43 41.79L827.97 42.06L829.50 42.37L831.04 42.71L832.58 43.09L834.12 43.49L835.66 43.93L837.20 44.40L838.73 44.90L840.27 45.42L841.81 45.97L843.35 46.54L844.89 47.13L846.43 47.74L847.96 48.36L849.50 49.00L851.04 49.65L852.58 50.30L854.12 50.97L855.66 51.63L857.20 52.30L858.73 52.97L860.27 53.63L861.81 54.30L863.35 54.95L864.89 55.61L866.43 56.26L867.96 56.91L869.50 57.55L871.04 58.20L872.58 58.85L874.12 59.49L875.66 60.14L877.20 60.79L878.73 61.44L880.27 62.09L881.81 62.75L883.35 63.41L884.89 64.07L886.43 64.74L887.96 65.41L889.50 66.09L891.04 66.77L892.58 67.45L894.12 68.14L895.66 68.83L897.19 69.52L898.73 70.21L900.27 70.90L901.81 71.59L903.35 72.28L904.89 72.97L906.43 73.66L907.96 74.35L909.50 75.03L911.04 75.71L912.58 76.39L914.12 77.06L915.66 77.73L917.19 78.40L918.73 79.06L920.27 79.71L921.81 80.36L923.35 81.00L924.89 81.63L926.42 82.25L927.96 82.87L929.50 83.48L931.04 84.07L932.58 84.66L934.12 85.24L935.66 85.80L937.19 86.36L938.73 86.90L940.27 87.44L941.81 87.96L943.35 88.48L944.89 88.99L946.42 89.50L947.96 89.99L949.50 90.49L951.04 90.97L952.58 91.46L954.12 91.94L955.66 92.41L957.19 92.89L958.73 93.36L960.27 93.83L961.81 94.31L963.35 94.78L964.89 95.25L966.42 95.72L967.96 96.19L969.50 96.66L971.04 97.13L972.58 97.60L974.12 98.08L975.65 98.55L977.19 99.02L978.73 99.50L980.27 99.97L981.81 100.45L983.35 100.93L984.89 101.40L986.42 101.88L987.96 102.37L989.50 102.85L991.04 103.33L992.58 103.81L994.12 104.29L995.65 104.77L997.19 105.25L998.73 105.72L1000.27 106.20L1001.81 106.67L1003.35 107.13L1004.88 107.60L1006.42 108.06L1007.96 108.51L1009.50 108.96L1011.04 109.41L1012.58 109.85L1014.12 110.30L1015.65 110.75L1017.19 111.20L1018.73 111.65L1020.27 112.12L1021.81 112.60L1023.35 113.09L1024.88 113.59L1026.42 114.12L1027.96 114.66L1029.50 115.23L1031.04 115.82L1032.58 116.43L1034.11 117.08L1035.65 117.76L1037.19 118.46L1038.73 119.20L1040.27 119.97L1041.81 120.77L1043.35 121.60L1044.88 122.47L1046.42 123.37L1047.96 124.29L1049.50 125.25L1051.04 126.25L1052.58 127.27L1054.11 128.33L1055.65 129.42L1057.19 130.54L1058.73 131.70L1060.27 132.89L1061.81 134.11L1063.35 135.36L1064.88 136.64L1066.42 137.95L1067.96 139.30L1069.50 140.66L1071.04 142.06L1072.58 143.48L1074.11 144.93L1075.65 146.40L1077.19 147.89L1078.73 149.41L1080.27 150.95L1081.81 152.51L1083.34 154.08L1084.88 155.68L1086.42 157.29L1087.96 158.92L1089.50 160.56L1091.04 162.21L1092.58 163.86L1094.11 165.52L1095.65 167.18L1097.19 168.84L1098.73 170.49L1100.27 172.14L1101.81 173.78L1103.34 175.41L1104.88 177.02L1106.42 178.62L1107.96 180.19L1109.50 181.75L1111.04 183.28L1112.57 184.79L1114.11 186.28L1115.65 187.74L1117.19 189.18L1118.73 190.59L1120.27 191.97L1121.81 193.33L1123.34 194.66L1124.88 195.96L1126.42 197.24L1127.96 198.48L1129.50 199.70L1131.04 200.89L1132.57 202.04L1134.11 203.17L1135.65 204.26L1137.19 205.33L1138.73 206.37L1140.27 207.38L1141.80 208.37L1143.34 209.34L1144.88 210.29L1146.42 211.22L1147.96 212.13L1149.50 213.03L1151.04 213.91L1152.57 214.78L1154.11 215.64L1155.65 216.49L1157.19 217.34L1158.73 218.18L1160.27 219.02L1161.80 219.85L1163.34 220.68L1164.88 221.50L1166.42 222.31L1167.96 223.12L1169.50 223.92L1171.04 224.71L1172.57 225.49L1174.11 226.26L1175.65 227.02L1177.19 227.78L1178.73 228.52L1180.27 229.25L1181.80 229.97L1183.34 230.67L1184.88 231.36L1186.42 232.04L1187.96 232.71L1189.50 233.37L1191.03 234.02L1192.57 234.67L1194.11 235.30L1195.65 235.93L1197.19 236.55L1198.73 237.17L1200.27 237.78L1201.80 238.40L1203.34 239.01L1204.88 239.61L1206.42 240.22L1207.96 240.84L1209.50 241.45L1211.03 242.06L1212.57 242.68L1214.11 243.31L1215.65 243.94L1217.19 244.58L1218.73 245.22L1220.26 245.88L1221.80 246.54L1223.34 247.21L1224.88 247.90L1226.42 248.59L1227.96 249.31L1229.50 250.03L1231.03 250.77L1232.57 251.53L1234.11 252.30L1235.65 253.09L1237.19 253.89L1238.73 254.70L1240.26 255.53L1241.80 256.36L1243.34 257.21L1244.88 258.05L1246.42 258.90L1247.96 259.76L1249.50 260.61L1251.03 261.46L1252.57 262.31L1254.11 263.16L1255.65 264.00L1257.19 264.83L1258.73 265.65L1260.26 266.47L1261.80 267.27L1263.34 268.08L1264.88 268.88L1266.42 269.69L1267.96 270.50L1269.49 271.31L1271.03 272.14L1272.57 272.97L1274.11 273.82L1275.65 274.68L1277.19 275.57L1278.73 276.47L1280.26 277.39L1281.80 278.34L1283.34 279.32L1284.88 280.33L1286.42 281.35L1287.96 282.40L1289.49 283.46L1291.03 284.54L1292.57 285.63L1294.11 286.72L1295.65 287.82L1297.19 288.91L1298.72 290.01L1300.26 291.09L1301.80 292.17L1303.34 293.23L1304.88 294.27L1306.42 295.30L1307.96 296.30L1309.49 297.28L1311.03 298.23L1312.57 299.17L1314.11 300.08L1315.65 300.99L1317.19 301.88L1318.72 302.76L1320.26 303.63L1321.80 304.49L1323.34 305.36L1324.88 306.22L1326.42 307.09L1327.95 307.95L1329.49 308.83L1331.03 309.71L1332.57 310.61L1334.11 311.52L1335.65 312.43L1337.19 313.36L1338.72 314.30L1340.26 315.24L1341.80 316.20L1343.34 317.15L1344.88 318.11L1346.42 319.07L1347.95 320.03L1349.49 321.00L1351.03 321.96L1352.57 322.91L1354.11 323.87L1355.65 324.81L1357.19 325.76L1358.72 326.69L1360.26 327.62L1361.80 328.54L1363.34 329.45L1364.88 330.36L1366.42 331.26L1367.95 332.16L1369.49 333.05L1371.03 333.94L1372.57 334.83L1374.11 335.71L1375.65 336.59L1377.18 337.47L1378.72 338.35L1380.26 339.23L1381.80 340.10"/><path stroke-width="2.1" d="M164.44 501.70L189.29 295.33L214.13 185.50"/></g>
<g><path d="M189.29 348.10L190.62 352.04L194.93 352.04L191.44 354.47L192.77 358.41L189.29 355.97L185.80 358.41L187.13 354.47L183.65 352.04L187.96 352.04Z" fill="none" stroke="#111" stroke-width="1.3" stroke-linejoin="miter"/><path d="M214.13 241.17L215.46 245.11L219.77 245.11L216.29 247.54L217.62 251.48L214.13 249.04L210.65 251.48L211.98 247.54L208.49 245.11L212.80 245.11Z" fill="none" stroke="#111" stroke-width="1.3" stroke-linejoin="miter"/><path d="M238.98 178.73L240.31 182.67L244.61 182.67L241.13 185.11L242.46 189.05L238.98 186.61L235.49 189.05L236.82 185.11L233.34 182.67L237.64 182.67Z" fill="none" stroke="#111" stroke-width="1.3" stroke-linejoin="miter"/><path d="M263.82 154.69L265.15 158.63L269.46 158.63L265.97 161.06L267.30 165.00L263.82 162.57L260.34 165.00L261.67 161.06L258.18 158.63L262.49 158.63Z" fill="none" stroke="#111" stroke-width="1.3" stroke-linejoin="miter"/><path d="M288.66 134.58L290.00 138.52L294.30 138.52L290.82 140.95L292.15 144.89L288.66 142.46L285.18 144.89L286.51 140.95L283.03 138.52L287.33 138.52Z" fill="none" stroke="#111" stroke-width="1.3" stroke-linejoin="miter"/><path d="M313.51 127.20L314.84 131.14L319.15 131.14L315.66 133.58L316.99 137.52L313.51 135.08L310.02 137.52L311.35 133.58L307.87 131.14L312.18 131.14Z" fill="none" stroke="#111" stroke-width="1.3" stroke-linejoin="miter"/><path d="M338.35 121.94L339.68 125.88L343.99 125.88L340.51 128.31L341.84 132.25L338.35 129.81L334.87 132.25L336.20 128.31L332.71 125.88L337.02 125.88Z" fill="none" stroke="#111" stroke-width="1.3" stroke-linejoin="miter"/><path d="M363.20 117.99L364.53 121.93L368.83 121.93L365.35 124.36L366.68 128.30L363.20 125.86L359.71 128.30L361.04 124.36L357.56 121.93L361.86 121.93Z" fill="none" stroke="#111" stroke-width="1.3" stroke-linejoin="miter"/><path d="M388.04 113.28L389.37 117.22L393.68 117.22L390.19 119.65L391.52 123.59L388.04 121.16L384.56 123.59L385.89 119.65L382.40 117.22L386.71 117.22Z" fill="none" stroke="#111" stroke-width="1.3" stroke-linejoin="miter"/><path d="M412.88 108.17L414.22 112.11L418.52 112.11L415.04 114.55L416.37 118.48L412.88 116.05L409.40 118.48L410.73 114.55L407.25 112.11L411.55 112.11Z" fill="none" stroke="#111" stroke-width="1.3" stroke-linejoin="miter"/><path d="M437.73 102.01L439.06 105.95L443.37 105.95L439.88 108.39L441.21 112.32L437.73 109.89L434.24 112.32L435.57 108.39L432.09 105.95L436.40 105.95Z" fill="none" stroke="#111" stroke-width="1.3" stroke-linejoin="miter"/><path d="M462.57 94.83L463.90 98.77L468.21 98.77L464.73 101.21L466.06 105.14L462.57 102.71L459.09 105.14L460.42 101.21L456.93 98.77L461.24 98.77Z" fill="none" stroke="#111" stroke-width="1.3" stroke-linejoin="miter"/><path d="M487.42 89.50L488.75 93.44L493.05 93.44L489.57 95.87L490.90 99.81L487.42 97.37L483.93 99.81L485.26 95.87L481.78 93.44L486.08 93.44Z" fill="none" stroke="#111" stroke-width="1.3" stroke-linejoin="miter"/><path d="M512.26 87.62L513.59 91.56L517.90 91.56L514.41 93.99L515.74 97.93L512.26 95.50L508.78 97.93L510.11 93.99L506.62 91.56L510.93 91.56Z" fill="none" stroke="#111" stroke-width="1.3" stroke-linejoin="miter"/><path d="M537.10 91.24L538.44 95.18L542.74 95.18L539.26 97.61L540.59 101.55L537.10 99.12L533.62 101.55L534.95 97.61L531.47 95.18L535.77 95.18Z" fill="none" stroke="#111" stroke-width="1.3" stroke-linejoin="miter"/><path d="M561.95 98.02L563.28 101.96L567.59 101.96L564.10 104.39L565.43 108.33L561.95 105.89L558.46 108.33L559.79 104.39L556.31 101.96L560.62 101.96Z" fill="none" stroke="#111" stroke-width="1.3" stroke-linejoin="miter"/><path d="M586.79 109.43L588.12 113.37L592.43 113.37L588.95 115.81L590.28 119.75L586.79 117.31L583.31 119.75L584.64 115.81L581.15 113.37L585.46 113.37Z" fill="none" stroke="#111" stroke-width="1.3" stroke-linejoin="miter"/><path d="M611.64 120.13L612.97 124.07L617.27 124.07L613.79 126.50L615.12 130.44L611.64 128.01L608.15 130.44L609.48 126.50L606.00 124.07L610.30 124.07Z" fill="none" stroke="#111" stroke-width="1.3" stroke-linejoin="miter"/><path d="M636.48 130.33L637.81 134.27L642.12 134.27L638.63 136.71L639.96 140.65L636.48 138.21L633.00 140.65L634.33 136.71L630.84 134.27L635.15 134.27Z" fill="none" stroke="#111" stroke-width="1.3" stroke-linejoin="miter"/><path d="M661.32 140.43L662.66 144.37L666.96 144.37L663.48 146.81L664.81 150.75L661.32 148.31L657.84 150.75L659.17 146.81L655.69 144.37L659.99 144.37Z" fill="none" stroke="#111" stroke-width="1.3" stroke-linejoin="miter"/><path d="M686.17 147.71L687.50 151.64L691.81 151.64L688.32 154.08L689.65 158.02L686.17 155.58L682.68 158.02L684.01 154.08L680.53 151.64L684.84 151.64Z" fill="none" stroke="#111" stroke-width="1.3" stroke-linejoin="miter"/><path d="M711.01 152.31L712.34 156.25L716.65 156.25L713.17 158.68L714.50 162.62L711.01 160.19L707.53 162.62L708.86 158.68L705.37 156.25L709.68 156.25Z" fill="none" stroke="#111" stroke-width="1.3" stroke-linejoin="miter"/><path d="M735.86 152.13L737.19 156.07L741.49 156.07L738.01 158.50L739.34 162.44L735.86 160.00L732.37 162.44L733.70 158.50L730.22 156.07L734.52 156.07Z" fill="none" stroke="#111" stroke-width="1.3" stroke-linejoin="miter"/><path d="M760.70 147.99L762.03 151.93L766.34 151.93L762.85 154.37L764.18 158.30L760.70 155.87L757.22 158.30L758.55 154.37L755.06 151.93L759.37 151.93Z" fill="none" stroke="#111" stroke-width="1.3" stroke-linejoin="miter"/><path d="M785.54 142.78L786.88 146.72L791.18 146.72L787.70 149.16L789.03 153.09L785.54 150.66L782.06 153.09L783.39 149.16L779.91 146.72L784.21 146.72Z" fill="none" stroke="#111" stroke-width="1.3" stroke-linejoin="miter"/><path d="M810.39 143.30L811.72 147.24L816.03 147.24L812.54 149.67L813.87 153.61L810.39 151.18L806.90 153.61L808.23 149.67L804.75 147.24L809.06 147.24Z" fill="none" stroke="#111" stroke-width="1.3" stroke-linejoin="miter"/><path d="M835.23 148.46L836.56 152.40L840.87 152.40L837.39 154.84L838.72 158.78L835.23 156.34L831.75 158.78L833.08 154.84L829.59 152.40L833.90 152.40Z" fill="none" stroke="#111" stroke-width="1.3" stroke-linejoin="miter"/><path d="M860.08 159.34L861.41 163.28L865.71 163.28L862.23 165.72L863.56 169.65L860.08 167.22L856.59 169.65L857.92 165.72L854.44 163.28L858.74 163.28Z" fill="none" stroke="#111" stroke-width="1.3" stroke-linejoin="miter"/><path d="M884.92 174.79L886.25 178.73L890.56 178.73L887.07 181.16L888.40 185.10L884.92 182.67L881.44 185.10L882.77 181.16L879.28 178.73L883.59 178.73Z" fill="none" stroke="#111" stroke-width="1.3" stroke-linejoin="miter"/><path d="M909.76 189.63L911.10 193.57L915.40 193.57L911.92 196.01L913.25 199.94L909.76 197.51L906.28 199.94L907.61 196.01L904.13 193.57L908.43 193.57Z" fill="none" stroke="#111" stroke-width="1.3" stroke-linejoin="miter"/><path d="M934.61 203.68L935.94 207.62L940.25 207.62L936.76 210.06L938.09 213.99L934.61 211.56L931.12 213.99L932.45 210.06L928.97 207.62L933.28 207.62Z" fill="none" stroke="#111" stroke-width="1.3" stroke-linejoin="miter"/><path d="M959.45 217.14L960.78 221.08L965.09 221.08L961.61 223.51L962.94 227.45L959.45 225.02L955.97 227.45L957.30 223.51L953.81 221.08L958.12 221.08Z" fill="none" stroke="#111" stroke-width="1.3" stroke-linejoin="miter"/><path d="M984.30 229.69L985.63 233.63L989.93 233.63L986.45 236.06L987.78 240.00L984.30 237.57L980.81 240.00L982.14 236.06L978.66 233.63L982.96 233.63Z" fill="none" stroke="#111" stroke-width="1.3" stroke-linejoin="miter"/><path d="M1009.14 240.73L1010.47 244.67L1014.78 244.67L1011.29 247.10L1012.62 251.04L1009.14 248.61L1005.66 251.04L1006.99 247.10L1003.50 244.67L1007.81 244.67Z" fill="none" stroke="#111" stroke-width="1.3" stroke-linejoin="miter"/><path d="M1033.98 251.92L1035.32 255.86L1039.62 255.86L1036.14 258.29L1037.47 262.23L1033.98 259.80L1030.50 262.23L1031.83 258.29L1028.35 255.86L1032.65 255.86Z" fill="none" stroke="#111" stroke-width="1.3" stroke-linejoin="miter"/><path d="M1058.83 270.45L1060.16 274.38L1064.47 274.39L1060.98 276.82L1062.31 280.76L1058.83 278.32L1055.34 280.76L1056.67 276.82L1053.19 274.39L1057.50 274.38Z" fill="none" stroke="#111" stroke-width="1.3" stroke-linejoin="miter"/><path d="M1083.67 299.90L1085.00 303.84L1089.31 303.84L1085.83 306.27L1087.16 310.21L1083.67 307.78L1080.19 310.21L1081.52 306.27L1078.03 303.84L1082.34 303.84Z" fill="none" stroke="#111" stroke-width="1.3" stroke-linejoin="miter"/><path d="M1108.52 330.77L1109.85 334.71L1114.15 334.71L1110.67 337.15L1112.00 341.08L1108.52 338.65L1105.03 341.08L1106.36 337.15L1102.88 334.71L1107.18 334.71Z" fill="none" stroke="#111" stroke-width="1.3" stroke-linejoin="miter"/><path d="M1133.36 355.66L1134.69 359.59L1139.00 359.59L1135.51 362.03L1136.84 365.97L1133.36 363.53L1129.88 365.97L1131.21 362.03L1127.72 359.59L1132.03 359.59Z" fill="none" stroke="#111" stroke-width="1.3" stroke-linejoin="miter"/><path d="M1158.20 377.73L1159.54 381.67L1163.84 381.67L1160.36 384.11L1161.69 388.05L1158.20 385.61L1154.72 388.05L1156.05 384.11L1152.57 381.67L1156.87 381.67Z" fill="none" stroke="#111" stroke-width="1.3" stroke-linejoin="miter"/><path d="M1183.05 395.67L1184.38 399.61L1188.69 399.61L1185.20 402.04L1186.53 405.98L1183.05 403.55L1179.56 405.98L1180.89 402.04L1177.41 399.61L1181.72 399.61Z" fill="none" stroke="#111" stroke-width="1.3" stroke-linejoin="miter"/><path d="M1207.89 411.99L1209.22 415.93L1213.53 415.93L1210.05 418.36L1211.38 422.30L1207.89 419.86L1204.41 422.30L1205.74 418.36L1202.25 415.93L1206.56 415.93Z" fill="none" stroke="#111" stroke-width="1.3" stroke-linejoin="miter"/><path d="M1232.74 427.32L1234.07 431.26L1238.37 431.26L1234.89 433.69L1236.22 437.63L1232.74 435.20L1229.25 437.63L1230.58 433.69L1227.10 431.26L1231.40 431.26Z" fill="none" stroke="#111" stroke-width="1.3" stroke-linejoin="miter"/><ellipse cx="189.29" cy="332.20" rx="5.6" ry="5.55" fill="none" stroke="#111" stroke-width="1.3" stroke-linejoin="miter"/><ellipse cx="214.13" cy="219.21" rx="5.6" ry="5.55" fill="none" stroke="#111" stroke-width="1.3" stroke-linejoin="miter"/><ellipse cx="238.98" cy="156.00" rx="5.6" ry="5.55" fill="none" stroke="#111" stroke-width="1.3" stroke-linejoin="miter"/><ellipse cx="263.82" cy="128.61" rx="5.6" ry="5.55" fill="none" stroke="#111" stroke-width="1.3" stroke-linejoin="miter"/><ellipse cx="288.66" cy="110.18" rx="5.6" ry="5.55" fill="none" stroke="#111" stroke-width="1.3" stroke-linejoin="miter"/><ellipse cx="313.51" cy="102.80" rx="5.6" ry="5.55" fill="none" stroke="#111" stroke-width="1.3" stroke-linejoin="miter"/><ellipse cx="338.35" cy="97.53" rx="5.6" ry="5.55" fill="none" stroke="#111" stroke-width="1.3" stroke-linejoin="miter"/><ellipse cx="363.20" cy="93.58" rx="5.6" ry="5.55" fill="none" stroke="#111" stroke-width="1.3" stroke-linejoin="miter"/><ellipse cx="388.04" cy="89.21" rx="5.6" ry="5.55" fill="none" stroke="#111" stroke-width="1.3" stroke-linejoin="miter"/><ellipse cx="412.88" cy="83.10" rx="5.6" ry="5.55" fill="none" stroke="#111" stroke-width="1.3" stroke-linejoin="miter"/><ellipse cx="437.73" cy="75.94" rx="5.6" ry="5.55" fill="none" stroke="#111" stroke-width="1.3" stroke-linejoin="miter"/><ellipse cx="462.57" cy="68.09" rx="5.6" ry="5.55" fill="none" stroke="#111" stroke-width="1.3" stroke-linejoin="miter"/><ellipse cx="487.42" cy="62.08" rx="5.6" ry="5.55" fill="none" stroke="#111" stroke-width="1.3" stroke-linejoin="miter"/><ellipse cx="512.26" cy="59.87" rx="5.6" ry="5.55" fill="none" stroke="#111" stroke-width="1.3" stroke-linejoin="miter"/><ellipse cx="537.10" cy="62.82" rx="5.6" ry="5.55" fill="none" stroke="#111" stroke-width="1.3" stroke-linejoin="miter"/><ellipse cx="561.95" cy="68.93" rx="5.6" ry="5.55" fill="none" stroke="#111" stroke-width="1.3" stroke-linejoin="miter"/><ellipse cx="586.79" cy="78.68" rx="5.6" ry="5.55" fill="none" stroke="#111" stroke-width="1.3" stroke-linejoin="miter"/><ellipse cx="611.64" cy="88.37" rx="5.6" ry="5.55" fill="none" stroke="#111" stroke-width="1.3" stroke-linejoin="miter"/><ellipse cx="636.48" cy="97.90" rx="5.6" ry="5.55" fill="none" stroke="#111" stroke-width="1.3" stroke-linejoin="miter"/><ellipse cx="661.32" cy="106.33" rx="5.6" ry="5.55" fill="none" stroke="#111" stroke-width="1.3" stroke-linejoin="miter"/><ellipse cx="686.17" cy="112.60" rx="5.6" ry="5.55" fill="none" stroke="#111" stroke-width="1.3" stroke-linejoin="miter"/><ellipse cx="711.01" cy="115.86" rx="5.6" ry="5.55" fill="none" stroke="#111" stroke-width="1.3" stroke-linejoin="miter"/><ellipse cx="735.86" cy="115.18" rx="5.6" ry="5.55" fill="none" stroke="#111" stroke-width="1.3" stroke-linejoin="miter"/><ellipse cx="760.70" cy="110.54" rx="5.6" ry="5.55" fill="none" stroke="#111" stroke-width="1.3" stroke-linejoin="miter"/><ellipse cx="785.54" cy="103.33" rx="5.6" ry="5.55" fill="none" stroke="#111" stroke-width="1.3" stroke-linejoin="miter"/><ellipse cx="810.39" cy="101.17" rx="5.6" ry="5.55" fill="none" stroke="#111" stroke-width="1.3" stroke-linejoin="miter"/><ellipse cx="835.23" cy="105.33" rx="5.6" ry="5.55" fill="none" stroke="#111" stroke-width="1.3" stroke-linejoin="miter"/><ellipse cx="860.08" cy="115.71" rx="5.6" ry="5.55" fill="none" stroke="#111" stroke-width="1.3" stroke-linejoin="miter"/><ellipse cx="884.92" cy="128.98" rx="5.6" ry="5.55" fill="none" stroke="#111" stroke-width="1.3" stroke-linejoin="miter"/><ellipse cx="909.76" cy="142.15" rx="5.6" ry="5.55" fill="none" stroke="#111" stroke-width="1.3" stroke-linejoin="miter"/><ellipse cx="934.61" cy="154.53" rx="5.6" ry="5.55" fill="none" stroke="#111" stroke-width="1.3" stroke-linejoin="miter"/><ellipse cx="959.45" cy="165.64" rx="5.6" ry="5.55" fill="none" stroke="#111" stroke-width="1.3" stroke-linejoin="miter"/><ellipse cx="984.30" cy="176.02" rx="5.6" ry="5.55" fill="none" stroke="#111" stroke-width="1.3" stroke-linejoin="miter"/><ellipse cx="1009.14" cy="185.55" rx="5.6" ry="5.55" fill="none" stroke="#111" stroke-width="1.3" stroke-linejoin="miter"/><ellipse cx="1033.98" cy="195.40" rx="5.6" ry="5.55" fill="none" stroke="#111" stroke-width="1.3" stroke-linejoin="miter"/><ellipse cx="1058.83" cy="212.26" rx="5.6" ry="5.55" fill="none" stroke="#111" stroke-width="1.3" stroke-linejoin="miter"/><ellipse cx="1083.67" cy="238.70" rx="5.6" ry="5.55" fill="none" stroke="#111" stroke-width="1.3" stroke-linejoin="miter"/><ellipse cx="1108.52" cy="267.57" rx="5.6" ry="5.55" fill="none" stroke="#111" stroke-width="1.3" stroke-linejoin="miter"/><ellipse cx="1133.36" cy="291.11" rx="5.6" ry="5.55" fill="none" stroke="#111" stroke-width="1.3" stroke-linejoin="miter"/><ellipse cx="1158.20" cy="310.18" rx="5.6" ry="5.55" fill="none" stroke="#111" stroke-width="1.3" stroke-linejoin="miter"/><ellipse cx="1183.05" cy="325.77" rx="5.6" ry="5.55" fill="none" stroke="#111" stroke-width="1.3" stroke-linejoin="miter"/><ellipse cx="1207.89" cy="339.42" rx="5.6" ry="5.55" fill="none" stroke="#111" stroke-width="1.3" stroke-linejoin="miter"/><ellipse cx="1232.74" cy="352.74" rx="5.6" ry="5.55" fill="none" stroke="#111" stroke-width="1.3" stroke-linejoin="miter"/><ellipse cx="1257.58" cy="369.13" rx="5.6" ry="5.55" fill="none" stroke="#111" stroke-width="1.3" stroke-linejoin="miter"/><ellipse cx="1282.42" cy="387.25" rx="5.6" ry="5.55" fill="none" stroke="#111" stroke-width="1.3" stroke-linejoin="miter"/><ellipse cx="1307.27" cy="405.84" rx="5.6" ry="5.55" fill="none" stroke="#111" stroke-width="1.3" stroke-linejoin="miter"/><ellipse cx="1332.11" cy="424.54" rx="5.6" ry="5.55" fill="none" stroke="#111" stroke-width="1.3" stroke-linejoin="miter"/><path d="M182.99 326.51L195.59 326.51L189.29 315.56Z" fill="none" stroke="#111" stroke-width="1.3" stroke-linejoin="miter"/><path d="M207.83 210.62L220.43 210.62L214.13 199.67Z" fill="none" stroke="#111" stroke-width="1.3" stroke-linejoin="miter"/><path d="M232.68 145.95L245.28 145.95L238.98 135.00Z" fill="none" stroke="#111" stroke-width="1.3" stroke-linejoin="miter"/><path d="M257.52 116.90L270.12 116.90L263.82 105.95Z" fill="none" stroke="#111" stroke-width="1.3" stroke-linejoin="miter"/><path d="M282.36 99.29L294.96 99.29L288.66 88.34Z" fill="none" stroke="#111" stroke-width="1.3" stroke-linejoin="miter"/><path d="M307.21 91.92L319.81 91.92L313.51 80.97Z" fill="none" stroke="#111" stroke-width="1.3" stroke-linejoin="miter"/><path d="M332.05 86.65L344.65 86.65L338.35 75.70Z" fill="none" stroke="#111" stroke-width="1.3" stroke-linejoin="miter"/><path d="M356.90 82.70L369.50 82.70L363.20 71.75Z" fill="none" stroke="#111" stroke-width="1.3" stroke-linejoin="miter"/><path d="M381.74 78.49L394.34 78.49L388.04 67.54Z" fill="none" stroke="#111" stroke-width="1.3" stroke-linejoin="miter"/><path d="M406.58 71.89L419.18 71.89L412.88 60.94Z" fill="none" stroke="#111" stroke-width="1.3" stroke-linejoin="miter"/><path d="M431.43 64.22L444.03 64.22L437.73 53.27Z" fill="none" stroke="#111" stroke-width="1.3" stroke-linejoin="miter"/><path d="M456.27 56.04L468.87 56.04L462.57 45.09Z" fill="none" stroke="#111" stroke-width="1.3" stroke-linejoin="miter"/><path d="M481.12 49.71L493.72 49.71L487.42 38.76Z" fill="none" stroke="#111" stroke-width="1.3" stroke-linejoin="miter"/><path d="M505.96 47.33L518.56 47.33L512.26 36.38Z" fill="none" stroke="#111" stroke-width="1.3" stroke-linejoin="miter"/><path d="M530.80 49.95L543.40 49.95L537.10 39.00Z" fill="none" stroke="#111" stroke-width="1.3" stroke-linejoin="miter"/><path d="M555.65 55.72L568.25 55.72L561.95 44.77Z" fill="none" stroke="#111" stroke-width="1.3" stroke-linejoin="miter"/><path d="M580.49 64.64L593.09 64.64L586.79 53.69Z" fill="none" stroke="#111" stroke-width="1.3" stroke-linejoin="miter"/><path d="M605.34 73.83L617.94 73.83L611.64 62.88Z" fill="none" stroke="#111" stroke-width="1.3" stroke-linejoin="miter"/><path d="M630.18 83.04L642.78 83.04L636.48 72.09Z" fill="none" stroke="#111" stroke-width="1.3" stroke-linejoin="miter"/><path d="M655.02 90.64L667.62 90.64L661.32 79.69Z" fill="none" stroke="#111" stroke-width="1.3" stroke-linejoin="miter"/><path d="M679.87 96.41L692.47 96.41L686.17 85.46Z" fill="none" stroke="#111" stroke-width="1.3" stroke-linejoin="miter"/><path d="M704.71 99.01L717.31 99.01L711.01 88.06Z" fill="none" stroke="#111" stroke-width="1.3" stroke-linejoin="miter"/><path d="M729.56 98.07L742.16 98.07L735.86 87.12Z" fill="none" stroke="#111" stroke-width="1.3" stroke-linejoin="miter"/><path d="M754.40 93.19L767.00 93.19L760.70 82.24Z" fill="none" stroke="#111" stroke-width="1.3" stroke-linejoin="miter"/><path d="M779.24 84.98L791.84 84.98L785.54 74.03Z" fill="none" stroke="#111" stroke-width="1.3" stroke-linejoin="miter"/><path d="M804.09 81.49L816.69 81.49L810.39 70.54Z" fill="none" stroke="#111" stroke-width="1.3" stroke-linejoin="miter"/><path d="M828.93 85.15L841.53 85.15L835.23 74.20Z" fill="none" stroke="#111" stroke-width="1.3" stroke-linejoin="miter"/><path d="M853.78 95.28L866.38 95.28L860.08 84.33Z" fill="none" stroke="#111" stroke-width="1.3" stroke-linejoin="miter"/><path d="M878.62 107.48L891.22 107.48L884.92 96.53Z" fill="none" stroke="#111" stroke-width="1.3" stroke-linejoin="miter"/><path d="M903.46 119.82L916.06 119.82L909.76 108.87Z" fill="none" stroke="#111" stroke-width="1.3" stroke-linejoin="miter"/><path d="M928.31 131.37L940.91 131.37L934.61 120.42Z" fill="none" stroke="#111" stroke-width="1.3" stroke-linejoin="miter"/><path d="M953.15 141.32L965.75 141.32L959.45 130.37Z" fill="none" stroke="#111" stroke-width="1.3" stroke-linejoin="miter"/><path d="M978.00 150.62L990.60 150.62L984.30 139.67Z" fill="none" stroke="#111" stroke-width="1.3" stroke-linejoin="miter"/><path d="M1002.84 159.40L1015.44 159.40L1009.14 148.45Z" fill="none" stroke="#111" stroke-width="1.3" stroke-linejoin="miter"/><path d="M1027.68 168.59L1040.28 168.59L1033.98 157.64Z" fill="none" stroke="#111" stroke-width="1.3" stroke-linejoin="miter"/><path d="M1052.53 184.62L1065.13 184.62L1058.83 173.67Z" fill="none" stroke="#111" stroke-width="1.3" stroke-linejoin="miter"/><path d="M1077.37 209.57L1089.97 209.57L1083.67 198.62Z" fill="none" stroke="#111" stroke-width="1.3" stroke-linejoin="miter"/><path d="M1102.22 237.44L1114.82 237.44L1108.52 226.49Z" fill="none" stroke="#111" stroke-width="1.3" stroke-linejoin="miter"/><path d="M1127.06 260.32L1139.66 260.32L1133.36 249.37Z" fill="none" stroke="#111" stroke-width="1.3" stroke-linejoin="miter"/><path d="M1151.90 277.89L1164.50 277.89L1158.20 266.94Z" fill="none" stroke="#111" stroke-width="1.3" stroke-linejoin="miter"/><path d="M1176.75 292.32L1189.35 292.32L1183.05 281.37Z" fill="none" stroke="#111" stroke-width="1.3" stroke-linejoin="miter"/><path d="M1201.59 304.64L1214.19 304.64L1207.89 293.69Z" fill="none" stroke="#111" stroke-width="1.3" stroke-linejoin="miter"/><path d="M1226.44 316.97L1239.04 316.97L1232.74 306.02Z" fill="none" stroke="#111" stroke-width="1.3" stroke-linejoin="miter"/><path d="M1251.28 332.19L1263.88 332.19L1257.58 321.24Z" fill="none" stroke="#111" stroke-width="1.3" stroke-linejoin="miter"/><path d="M1276.12 348.57L1288.72 348.57L1282.42 337.62Z" fill="none" stroke="#111" stroke-width="1.3" stroke-linejoin="miter"/><path d="M1300.97 366.58L1313.57 366.58L1307.27 355.63Z" fill="none" stroke="#111" stroke-width="1.3" stroke-linejoin="miter"/><path d="M1325.81 383.62L1338.41 383.62L1332.11 372.67Z" fill="none" stroke="#111" stroke-width="1.3" stroke-linejoin="miter"/><path d="M1350.66 400.18L1363.26 400.18L1356.96 389.23Z" fill="none" stroke="#111" stroke-width="1.3" stroke-linejoin="miter"/><path d="M1375.50 415.68L1388.10 415.68L1381.80 404.73Z" fill="none" stroke="#111" stroke-width="1.3" stroke-linejoin="miter"/><path d="M182.99 306.21L195.59 306.21L189.29 317.21Z" fill="none" stroke="#111" stroke-width="1.3" stroke-linejoin="miter"/><path d="M207.83 193.75L220.43 193.75L214.13 204.75Z" fill="none" stroke="#111" stroke-width="1.3" stroke-linejoin="miter"/><path d="M232.68 129.57L245.28 129.57L238.98 140.57Z" fill="none" stroke="#111" stroke-width="1.3" stroke-linejoin="miter"/><path d="M257.52 99.49L270.12 99.49L263.82 110.49Z" fill="none" stroke="#111" stroke-width="1.3" stroke-linejoin="miter"/><path d="M282.36 82.40L294.96 82.40L288.66 93.40Z" fill="none" stroke="#111" stroke-width="1.3" stroke-linejoin="miter"/><path d="M307.21 75.02L319.81 75.02L313.51 86.02Z" fill="none" stroke="#111" stroke-width="1.3" stroke-linejoin="miter"/><path d="M332.05 69.76L344.65 69.76L338.35 80.76Z" fill="none" stroke="#111" stroke-width="1.3" stroke-linejoin="miter"/><path d="M356.90 65.81L369.50 65.81L363.20 76.81Z" fill="none" stroke="#111" stroke-width="1.3" stroke-linejoin="miter"/><path d="M381.74 61.70L394.34 61.70L388.04 72.70Z" fill="none" stroke="#111" stroke-width="1.3" stroke-linejoin="miter"/><path d="M406.58 54.79L419.18 54.79L412.88 65.79Z" fill="none" stroke="#111" stroke-width="1.3" stroke-linejoin="miter"/><path d="M431.43 46.82L444.03 46.82L437.73 57.82Z" fill="none" stroke="#111" stroke-width="1.3" stroke-linejoin="miter"/><path d="M456.27 38.43L468.87 38.43L462.57 49.43Z" fill="none" stroke="#111" stroke-width="1.3" stroke-linejoin="miter"/><path d="M481.12 31.89L493.72 31.89L487.42 42.89Z" fill="none" stroke="#111" stroke-width="1.3" stroke-linejoin="miter"/><path d="M505.96 29.41L518.56 29.41L512.26 40.41Z" fill="none" stroke="#111" stroke-width="1.3" stroke-linejoin="miter"/><path d="M530.80 31.82L543.40 31.82L537.10 42.82Z" fill="none" stroke="#111" stroke-width="1.3" stroke-linejoin="miter"/><path d="M555.65 37.39L568.25 37.39L561.95 48.39Z" fill="none" stroke="#111" stroke-width="1.3" stroke-linejoin="miter"/><path d="M580.49 45.79L593.09 45.79L586.79 56.79Z" fill="none" stroke="#111" stroke-width="1.3" stroke-linejoin="miter"/><path d="M605.34 54.68L617.94 54.68L611.64 65.68Z" fill="none" stroke="#111" stroke-width="1.3" stroke-linejoin="miter"/><path d="M630.18 63.68L642.78 63.68L636.48 74.68Z" fill="none" stroke="#111" stroke-width="1.3" stroke-linejoin="miter"/><path d="M655.02 70.76L667.62 70.76L661.32 81.76Z" fill="none" stroke="#111" stroke-width="1.3" stroke-linejoin="miter"/><path d="M679.87 76.22L692.47 76.22L686.17 87.22Z" fill="none" stroke="#111" stroke-width="1.3" stroke-linejoin="miter"/><path d="M704.71 78.42L717.31 78.42L711.01 89.42Z" fill="none" stroke="#111" stroke-width="1.3" stroke-linejoin="miter"/><path d="M729.56 77.33L742.16 77.33L735.86 88.33Z" fill="none" stroke="#111" stroke-width="1.3" stroke-linejoin="miter"/><path d="M754.40 72.29L767.00 72.29L760.70 83.29Z" fill="none" stroke="#111" stroke-width="1.3" stroke-linejoin="miter"/><path d="M779.24 63.46L791.84 63.46L785.54 74.46Z" fill="none" stroke="#111" stroke-width="1.3" stroke-linejoin="miter"/><path d="M804.09 59.15L816.69 59.15L810.39 70.15Z" fill="none" stroke="#111" stroke-width="1.3" stroke-linejoin="miter"/><path d="M828.93 62.51L841.53 62.51L835.23 73.51Z" fill="none" stroke="#111" stroke-width="1.3" stroke-linejoin="miter"/><path d="M853.78 72.48L866.38 72.48L860.08 83.48Z" fill="none" stroke="#111" stroke-width="1.3" stroke-linejoin="miter"/><path d="M878.62 84.01L891.22 84.01L884.92 95.01Z" fill="none" stroke="#111" stroke-width="1.3" stroke-linejoin="miter"/><path d="M903.46 95.84L916.06 95.84L909.76 106.84Z" fill="none" stroke="#111" stroke-width="1.3" stroke-linejoin="miter"/><path d="M928.31 106.87L940.91 106.87L934.61 117.87Z" fill="none" stroke="#111" stroke-width="1.3" stroke-linejoin="miter"/><path d="M953.15 116.10L965.75 116.10L959.45 127.10Z" fill="none" stroke="#111" stroke-width="1.3" stroke-linejoin="miter"/><path d="M978.00 124.74L990.60 124.74L984.30 135.74Z" fill="none" stroke="#111" stroke-width="1.3" stroke-linejoin="miter"/><path d="M1002.84 133.06L1015.44 133.06L1009.14 144.06Z" fill="none" stroke="#111" stroke-width="1.3" stroke-linejoin="miter"/><path d="M1027.68 141.84L1040.28 141.84L1033.98 152.84Z" fill="none" stroke="#111" stroke-width="1.3" stroke-linejoin="miter"/><path d="M1052.53 157.35L1065.13 157.35L1058.83 168.35Z" fill="none" stroke="#111" stroke-width="1.3" stroke-linejoin="miter"/><path d="M1077.37 181.37L1089.97 181.37L1083.67 192.37Z" fill="none" stroke="#111" stroke-width="1.3" stroke-linejoin="miter"/><path d="M1102.22 208.63L1114.82 208.63L1108.52 219.63Z" fill="none" stroke="#111" stroke-width="1.3" stroke-linejoin="miter"/><path d="M1127.06 231.10L1139.66 231.10L1133.36 242.10Z" fill="none" stroke="#111" stroke-width="1.3" stroke-linejoin="miter"/><path d="M1151.90 247.75L1164.50 247.75L1158.20 258.75Z" fill="none" stroke="#111" stroke-width="1.3" stroke-linejoin="miter"/><path d="M1176.75 261.46L1189.35 261.46L1183.05 272.46Z" fill="none" stroke="#111" stroke-width="1.3" stroke-linejoin="miter"/><path d="M1201.59 272.95L1214.19 272.95L1207.89 283.95Z" fill="none" stroke="#111" stroke-width="1.3" stroke-linejoin="miter"/><path d="M1226.44 284.67L1239.04 284.67L1232.74 295.67Z" fill="none" stroke="#111" stroke-width="1.3" stroke-linejoin="miter"/><path d="M1251.28 299.17L1263.88 299.17L1257.58 310.17Z" fill="none" stroke="#111" stroke-width="1.3" stroke-linejoin="miter"/><path d="M1276.12 314.47L1288.72 314.47L1282.42 325.47Z" fill="none" stroke="#111" stroke-width="1.3" stroke-linejoin="miter"/><path d="M1300.97 332.12L1313.57 332.12L1307.27 343.12Z" fill="none" stroke="#111" stroke-width="1.3" stroke-linejoin="miter"/><path d="M1325.81 348.14L1338.41 348.14L1332.11 359.14Z" fill="none" stroke="#111" stroke-width="1.3" stroke-linejoin="miter"/><path d="M1350.66 364.18L1363.26 364.18L1356.96 375.18Z" fill="none" stroke="#111" stroke-width="1.3" stroke-linejoin="miter"/><path d="M1375.50 379.27L1388.10 379.27L1381.80 390.27Z" fill="none" stroke="#111" stroke-width="1.3" stroke-linejoin="miter"/><path d="M189.29 297.43L190.99 300.33L194.41 300.33L192.70 303.23L194.41 306.13L190.99 306.13L189.29 309.03L187.58 306.13L184.16 306.13L185.87 303.23L184.16 300.33L187.58 300.33Z" fill="none" stroke="#111" stroke-width="1.3" stroke-linejoin="miter"/><path d="M214.13 186.29L215.84 189.19L219.26 189.19L217.55 192.09L219.26 194.99L215.84 194.98L214.13 197.89L212.43 194.98L209.01 194.99L210.72 192.09L209.01 189.19L212.43 189.19Z" fill="none" stroke="#111" stroke-width="1.3" stroke-linejoin="miter"/><path d="M238.98 121.32L240.68 124.23L244.10 124.22L242.39 127.12L244.10 130.02L240.68 130.02L238.98 132.92L237.27 130.02L233.85 130.02L235.56 127.12L233.85 124.22L237.27 124.23Z" fill="none" stroke="#111" stroke-width="1.3" stroke-linejoin="miter"/><path d="M263.82 90.54L265.53 93.44L268.94 93.44L267.23 96.34L268.94 99.24L265.53 99.23L263.82 102.14L262.11 99.23L258.70 99.24L260.41 96.34L258.70 93.44L262.11 93.44Z" fill="none" stroke="#111" stroke-width="1.3" stroke-linejoin="miter"/><path d="M288.66 73.80L290.37 76.70L293.79 76.70L292.08 79.60L293.79 82.50L290.37 82.50L288.66 85.40L286.96 82.50L283.54 82.50L285.25 79.60L283.54 76.70L286.96 76.70Z" fill="none" stroke="#111" stroke-width="1.3" stroke-linejoin="miter"/><path d="M313.51 66.42L315.21 69.32L318.63 69.32L316.92 72.22L318.63 75.12L315.21 75.12L313.51 78.02L311.80 75.12L308.38 75.12L310.09 72.22L308.38 69.32L311.80 69.32Z" fill="none" stroke="#111" stroke-width="1.3" stroke-linejoin="miter"/><path d="M338.35 61.16L340.06 64.06L343.48 64.06L341.77 66.96L343.48 69.86L340.06 69.85L338.35 72.76L336.65 69.85L333.23 69.86L334.94 66.96L333.23 64.06L336.65 64.06Z" fill="none" stroke="#111" stroke-width="1.3" stroke-linejoin="miter"/><path d="M363.20 57.21L364.90 60.11L368.32 60.11L366.61 63.01L368.32 65.91L364.90 65.90L363.20 68.81L361.49 65.90L358.07 65.91L359.78 63.01L358.07 60.11L361.49 60.11Z" fill="none" stroke="#111" stroke-width="1.3" stroke-linejoin="miter"/><path d="M388.04 53.17L389.75 56.07L393.16 56.07L391.45 58.97L393.16 61.87L389.75 61.87L388.04 64.77L386.33 61.87L382.92 61.87L384.63 58.97L382.92 56.07L386.33 56.07Z" fill="none" stroke="#111" stroke-width="1.3" stroke-linejoin="miter"/><path d="M412.88 46.04L414.59 48.94L418.01 48.94L416.30 51.84L418.01 54.74L414.59 54.74L412.88 57.64L411.18 54.74L407.76 54.74L409.47 51.84L407.76 48.94L411.18 48.94Z" fill="none" stroke="#111" stroke-width="1.3" stroke-linejoin="miter"/><path d="M437.73 37.86L439.43 40.76L442.85 40.76L441.14 43.66L442.85 46.56L439.43 46.56L437.73 49.46L436.02 46.56L432.60 46.56L434.31 43.66L432.60 40.76L436.02 40.76Z" fill="none" stroke="#111" stroke-width="1.3" stroke-linejoin="miter"/><path d="M462.57 29.33L464.28 32.23L467.70 32.23L465.99 35.13L467.70 38.03L464.28 38.03L462.57 40.93L460.87 38.03L457.45 38.03L459.16 35.13L457.45 32.23L460.87 32.23Z" fill="none" stroke="#111" stroke-width="1.3" stroke-linejoin="miter"/><path d="M487.42 22.65L489.12 25.55L492.54 25.55L490.83 28.45L492.54 31.35L489.12 31.35L487.42 34.25L485.71 31.35L482.29 31.35L484.00 28.45L482.29 25.55L485.71 25.55Z" fill="none" stroke="#111" stroke-width="1.3" stroke-linejoin="miter"/><path d="M512.26 20.10L513.97 23.00L517.38 23.00L515.67 25.90L517.38 28.80L513.97 28.79L512.26 31.70L510.55 28.79L507.14 28.80L508.85 25.90L507.14 23.00L510.55 23.00Z" fill="none" stroke="#111" stroke-width="1.3" stroke-linejoin="miter"/><path d="M537.10 22.37L538.81 25.27L542.23 25.27L540.52 28.17L542.23 31.07L538.81 31.06L537.10 33.97L535.40 31.06L531.98 31.07L533.69 28.17L531.98 25.27L535.40 25.27Z" fill="none" stroke="#111" stroke-width="1.3" stroke-linejoin="miter"/><path d="M561.95 27.80L563.65 30.70L567.07 30.70L565.36 33.60L567.07 36.50L563.65 36.49L561.95 39.40L560.24 36.49L556.82 36.50L558.53 33.60L556.82 30.70L560.24 30.70Z" fill="none" stroke="#111" stroke-width="1.3" stroke-linejoin="miter"/><path d="M586.79 35.84L588.50 38.74L591.92 38.74L590.21 41.64L591.92 44.54L588.50 44.54L586.79 47.44L585.09 44.54L581.67 44.54L583.38 41.64L581.67 38.74L585.09 38.74Z" fill="none" stroke="#111" stroke-width="1.3" stroke-linejoin="miter"/><path d="M611.64 44.52L613.34 47.42L616.76 47.42L615.05 50.32L616.76 53.22L613.34 53.21L611.64 56.12L609.93 53.21L606.51 53.22L608.22 50.32L606.51 47.42L609.93 47.42Z" fill="none" stroke="#111" stroke-width="1.3" stroke-linejoin="miter"/><path d="M636.48 53.37L638.19 56.27L641.60 56.27L639.89 59.17L641.60 62.07L638.19 62.07L636.48 64.97L634.77 62.07L631.36 62.07L633.07 59.17L631.36 56.27L634.77 56.27Z" fill="none" stroke="#111" stroke-width="1.3" stroke-linejoin="miter"/><path d="M661.32 60.10L663.03 63.00L666.45 63.00L664.74 65.90L666.45 68.80L663.03 68.80L661.32 71.70L659.62 68.80L656.20 68.80L657.91 65.90L656.20 63.00L659.62 63.00Z" fill="none" stroke="#111" stroke-width="1.3" stroke-linejoin="miter"/><path d="M686.17 65.35L687.87 68.25L691.29 68.25L689.58 71.15L691.29 74.05L687.87 74.05L686.17 76.95L684.46 74.05L681.04 74.05L682.75 71.15L681.04 68.25L684.46 68.25Z" fill="none" stroke="#111" stroke-width="1.3" stroke-linejoin="miter"/><path d="M711.01 67.26L712.72 70.16L716.14 70.16L714.43 73.06L716.14 75.96L712.72 75.95L711.01 78.86L709.31 75.95L705.89 75.96L707.60 73.06L705.89 70.16L709.31 70.16Z" fill="none" stroke="#111" stroke-width="1.3" stroke-linejoin="miter"/><path d="M735.86 66.06L737.56 68.96L740.98 68.96L739.27 71.86L740.98 74.76L737.56 74.76L735.86 77.66L734.15 74.76L730.73 74.76L732.44 71.86L730.73 68.96L734.15 68.96Z" fill="none" stroke="#111" stroke-width="1.3" stroke-linejoin="miter"/><path d="M760.70 60.92L762.41 63.82L765.82 63.82L764.11 66.72L765.82 69.62L762.41 69.61L760.70 72.52L758.99 69.61L755.58 69.62L757.29 66.72L755.58 63.82L758.99 63.82Z" fill="none" stroke="#111" stroke-width="1.3" stroke-linejoin="miter"/><path d="M785.54 51.66L787.25 54.56L790.67 54.56L788.96 57.46L790.67 60.36L787.25 60.36L785.54 63.26L783.84 60.36L780.42 60.36L782.13 57.46L780.42 54.56L783.84 54.56Z" fill="none" stroke="#111" stroke-width="1.3" stroke-linejoin="miter"/><path d="M810.39 46.78L812.09 49.69L815.51 49.68L813.80 52.58L815.51 55.48L812.09 55.48L810.39 58.38L808.68 55.48L805.26 55.48L806.97 52.58L805.26 49.68L808.68 49.69Z" fill="none" stroke="#111" stroke-width="1.3" stroke-linejoin="miter"/><path d="M835.23 49.93L836.94 52.83L840.36 52.83L838.65 55.73L840.36 58.63L836.94 58.62L835.23 61.53L833.53 58.62L830.11 58.63L831.82 55.73L830.11 52.83L833.53 52.83Z" fill="none" stroke="#111" stroke-width="1.3" stroke-linejoin="miter"/><path d="M860.08 59.79L861.78 62.69L865.20 62.69L863.49 65.59L865.20 68.49L861.78 68.49L860.08 71.39L858.37 68.49L854.95 68.49L856.66 65.59L854.95 62.69L858.37 62.69Z" fill="none" stroke="#111" stroke-width="1.3" stroke-linejoin="miter"/><path d="M884.92 70.86L886.63 73.76L890.04 73.76L888.33 76.66L890.04 79.56L886.63 79.56L884.92 82.46L883.21 79.56L879.80 79.56L881.51 76.66L879.80 73.76L883.21 73.76Z" fill="none" stroke="#111" stroke-width="1.3" stroke-linejoin="miter"/><path d="M909.76 82.33L911.47 85.23L914.89 85.23L913.18 88.13L914.89 91.03L911.47 91.03L909.76 93.93L908.06 91.03L904.64 91.03L906.35 88.13L904.64 85.23L908.06 85.23Z" fill="none" stroke="#111" stroke-width="1.3" stroke-linejoin="miter"/><path d="M934.61 93.01L936.31 95.91L939.73 95.91L938.02 98.81L939.73 101.71L936.31 101.71L934.61 104.61L932.90 101.71L929.48 101.71L931.19 98.81L929.48 95.91L932.90 95.91Z" fill="none" stroke="#111" stroke-width="1.3" stroke-linejoin="miter"/><path d="M959.45 101.74L961.16 104.65L964.58 104.64L962.87 107.54L964.58 110.44L961.16 110.44L959.45 113.34L957.75 110.44L954.33 110.44L956.04 107.54L954.33 104.64L957.75 104.65Z" fill="none" stroke="#111" stroke-width="1.3" stroke-linejoin="miter"/><path d="M984.30 109.91L986.00 112.81L989.42 112.81L987.71 115.71L989.42 118.61L986.00 118.61L984.30 121.51L982.59 118.61L979.17 118.61L980.88 115.71L979.17 112.81L982.59 112.81Z" fill="none" stroke="#111" stroke-width="1.3" stroke-linejoin="miter"/><path d="M1009.14 117.92L1010.85 120.82L1014.26 120.82L1012.55 123.72L1014.26 126.62L1010.85 126.62L1009.14 129.52L1007.43 126.62L1004.02 126.62L1005.73 123.72L1004.02 120.82L1007.43 120.82Z" fill="none" stroke="#111" stroke-width="1.3" stroke-linejoin="miter"/><path d="M1033.98 126.41L1035.69 129.31L1039.11 129.31L1037.40 132.21L1039.11 135.11L1035.69 135.11L1033.98 138.01L1032.28 135.11L1028.86 135.11L1030.57 132.21L1028.86 129.31L1032.28 129.31Z" fill="none" stroke="#111" stroke-width="1.3" stroke-linejoin="miter"/><path d="M1058.83 141.57L1060.53 144.47L1063.95 144.47L1062.24 147.37L1063.95 150.27L1060.53 150.26L1058.83 153.17L1057.12 150.26L1053.70 150.27L1055.41 147.37L1053.70 144.47L1057.12 144.47Z" fill="none" stroke="#111" stroke-width="1.3" stroke-linejoin="miter"/><path d="M1083.67 164.95L1085.38 167.85L1088.80 167.85L1087.09 170.75L1088.80 173.65L1085.38 173.65L1083.67 176.55L1081.97 173.65L1078.55 173.65L1080.26 170.75L1078.55 167.85L1081.97 167.85Z" fill="none" stroke="#111" stroke-width="1.3" stroke-linejoin="miter"/><path d="M1108.52 191.78L1110.22 194.68L1113.64 194.68L1111.93 197.58L1113.64 200.48L1110.22 200.48L1108.52 203.38L1106.81 200.48L1103.39 200.48L1105.10 197.58L1103.39 194.68L1106.81 194.68Z" fill="none" stroke="#111" stroke-width="1.3" stroke-linejoin="miter"/><path d="M1133.36 213.97L1135.07 216.87L1138.48 216.87L1136.77 219.77L1138.48 222.67L1135.07 222.66L1133.36 225.57L1131.65 222.66L1128.24 222.67L1129.95 219.77L1128.24 216.87L1131.65 216.87Z" fill="none" stroke="#111" stroke-width="1.3" stroke-linejoin="miter"/><path d="M1158.20 229.98L1159.91 232.88L1163.33 232.88L1161.62 235.78L1163.33 238.68L1159.91 238.67L1158.20 241.58L1156.50 238.67L1153.08 238.68L1154.79 235.78L1153.08 232.88L1156.50 232.88Z" fill="none" stroke="#111" stroke-width="1.3" stroke-linejoin="miter"/><path d="M1183.05 243.19L1184.75 246.09L1188.17 246.09L1186.46 248.99L1188.17 251.89L1184.75 251.89L1183.05 254.79L1181.34 251.89L1177.92 251.89L1179.63 248.99L1177.92 246.09L1181.34 246.09Z" fill="none" stroke="#111" stroke-width="1.3" stroke-linejoin="miter"/><path d="M1207.89 254.11L1209.60 257.02L1213.02 257.01L1211.31 259.91L1213.02 262.81L1209.60 262.81L1207.89 265.71L1206.19 262.81L1202.77 262.81L1204.48 259.91L1202.77 257.01L1206.19 257.02Z" fill="none" stroke="#111" stroke-width="1.3" stroke-linejoin="miter"/><path d="M1232.74 265.40L1234.44 268.30L1237.86 268.30L1236.15 271.20L1237.86 274.10L1234.44 274.10L1232.74 277.00L1231.03 274.10L1227.61 274.10L1229.32 271.20L1227.61 268.30L1231.03 268.30Z" fill="none" stroke="#111" stroke-width="1.3" stroke-linejoin="miter"/><path d="M1257.58 279.41L1259.29 282.31L1262.70 282.31L1260.99 285.21L1262.70 288.11L1259.29 288.10L1257.58 291.01L1255.87 288.10L1252.46 288.11L1254.17 285.21L1252.46 282.31L1255.87 282.31Z" fill="none" stroke="#111" stroke-width="1.3" stroke-linejoin="miter"/><path d="M1282.42 293.96L1284.13 296.86L1287.55 296.86L1285.84 299.76L1287.55 302.66L1284.13 302.66L1282.42 305.56L1280.72 302.66L1277.30 302.66L1279.01 299.76L1277.30 296.86L1280.72 296.86Z" fill="none" stroke="#111" stroke-width="1.3" stroke-linejoin="miter"/><path d="M1307.27 311.36L1308.97 314.27L1312.39 314.26L1310.68 317.16L1312.39 320.06L1308.97 320.06L1307.27 322.96L1305.56 320.06L1302.14 320.06L1303.85 317.16L1302.14 314.26L1305.56 314.27Z" fill="none" stroke="#111" stroke-width="1.3" stroke-linejoin="miter"/><path d="M1332.11 326.67L1333.82 329.57L1337.24 329.57L1335.53 332.47L1337.24 335.37L1333.82 335.36L1332.11 338.27L1330.41 335.36L1326.99 335.37L1328.70 332.47L1326.99 329.57L1330.41 329.57Z" fill="none" stroke="#111" stroke-width="1.3" stroke-linejoin="miter"/><path d="M1356.96 342.35L1358.66 345.25L1362.08 345.25L1360.37 348.15L1362.08 351.05L1358.66 351.05L1356.96 353.95L1355.25 351.05L1351.83 351.05L1353.54 348.15L1351.83 345.25L1355.25 345.25Z" fill="none" stroke="#111" stroke-width="1.3" stroke-linejoin="miter"/><path d="M1381.80 357.16L1383.51 360.06L1386.92 360.06L1385.21 362.96L1386.92 365.86L1383.51 365.86L1381.80 368.76L1380.09 365.86L1376.68 365.86L1378.39 362.96L1376.68 360.06L1380.09 360.06Z" fill="none" stroke="#111" stroke-width="1.3" stroke-linejoin="miter"/><path d="M183.89 298.49L189.29 291.09L194.69 298.49L189.29 305.89Z" fill="none" stroke="#111" stroke-width="1.3" stroke-linejoin="miter"/><path d="M208.73 188.13L214.13 180.73L219.53 188.13L214.13 195.53Z" fill="none" stroke="#111" stroke-width="1.3" stroke-linejoin="miter"/><path d="M233.58 123.09L238.98 115.69L244.38 123.09L238.98 130.49Z" fill="none" stroke="#111" stroke-width="1.3" stroke-linejoin="miter"/><path d="M258.42 91.83L263.82 84.43L269.22 91.83L263.82 99.23Z" fill="none" stroke="#111" stroke-width="1.3" stroke-linejoin="miter"/><path d="M283.26 75.33L288.66 67.93L294.06 75.33L288.66 82.73Z" fill="none" stroke="#111" stroke-width="1.3" stroke-linejoin="miter"/><path d="M308.11 67.96L313.51 60.56L318.91 67.96L313.51 75.36Z" fill="none" stroke="#111" stroke-width="1.3" stroke-linejoin="miter"/><path d="M332.95 62.69L338.35 55.29L343.75 62.69L338.35 70.09Z" fill="none" stroke="#111" stroke-width="1.3" stroke-linejoin="miter"/><path d="M357.80 58.74L363.20 51.34L368.60 58.74L363.20 66.14Z" fill="none" stroke="#111" stroke-width="1.3" stroke-linejoin="miter"/><path d="M382.64 54.75L388.04 47.35L393.44 54.75L388.04 62.15Z" fill="none" stroke="#111" stroke-width="1.3" stroke-linejoin="miter"/><path d="M407.48 47.48L412.88 40.08L418.28 47.48L412.88 54.88Z" fill="none" stroke="#111" stroke-width="1.3" stroke-linejoin="miter"/><path d="M432.33 39.16L437.73 31.76L443.13 39.16L437.73 46.56Z" fill="none" stroke="#111" stroke-width="1.3" stroke-linejoin="miter"/><path d="M457.17 30.53L462.57 23.13L467.97 30.53L462.57 37.93Z" fill="none" stroke="#111" stroke-width="1.3" stroke-linejoin="miter"/><path d="M482.02 23.75L487.42 16.35L492.82 23.75L487.42 31.15Z" fill="none" stroke="#111" stroke-width="1.3" stroke-linejoin="miter"/><path d="M506.86 21.15L512.26 13.75L517.66 21.15L512.26 28.55Z" fill="none" stroke="#111" stroke-width="1.3" stroke-linejoin="miter"/><path d="M531.70 23.33L537.10 15.93L542.50 23.33L537.10 30.73Z" fill="none" stroke="#111" stroke-width="1.3" stroke-linejoin="miter"/><path d="M556.55 28.67L561.95 21.27L567.35 28.67L561.95 36.07Z" fill="none" stroke="#111" stroke-width="1.3" stroke-linejoin="miter"/><path d="M581.39 36.48L586.79 29.08L592.19 36.48L586.79 43.88Z" fill="none" stroke="#111" stroke-width="1.3" stroke-linejoin="miter"/><path d="M606.24 45.01L611.64 37.61L617.04 45.01L611.64 52.41Z" fill="none" stroke="#111" stroke-width="1.3" stroke-linejoin="miter"/><path d="M631.08 53.77L636.48 46.37L641.88 53.77L636.48 61.17Z" fill="none" stroke="#111" stroke-width="1.3" stroke-linejoin="miter"/><path d="M655.92 60.26L661.32 52.86L666.72 60.26L661.32 67.66Z" fill="none" stroke="#111" stroke-width="1.3" stroke-linejoin="miter"/><path d="M680.77 65.36L686.17 57.96L691.57 65.36L686.17 72.76Z" fill="none" stroke="#111" stroke-width="1.3" stroke-linejoin="miter"/><path d="M705.61 67.08L711.01 59.68L716.41 67.08L711.01 74.48Z" fill="none" stroke="#111" stroke-width="1.3" stroke-linejoin="miter"/><path d="M730.46 65.82L735.86 58.42L741.26 65.82L735.86 73.22Z" fill="none" stroke="#111" stroke-width="1.3" stroke-linejoin="miter"/><path d="M755.30 60.60L760.70 53.20L766.10 60.60L760.70 68.00Z" fill="none" stroke="#111" stroke-width="1.3" stroke-linejoin="miter"/><path d="M780.14 51.06L785.54 43.66L790.94 51.06L785.54 58.46Z" fill="none" stroke="#111" stroke-width="1.3" stroke-linejoin="miter"/><path d="M804.99 45.80L810.39 38.40L815.79 45.80L810.39 53.20Z" fill="none" stroke="#111" stroke-width="1.3" stroke-linejoin="miter"/><path d="M829.83 48.80L835.23 41.40L840.63 48.80L835.23 56.20Z" fill="none" stroke="#111" stroke-width="1.3" stroke-linejoin="miter"/><path d="M854.68 58.60L860.08 51.20L865.48 58.60L860.08 66.00Z" fill="none" stroke="#111" stroke-width="1.3" stroke-linejoin="miter"/><path d="M879.52 69.36L884.92 61.96L890.32 69.36L884.92 76.76Z" fill="none" stroke="#111" stroke-width="1.3" stroke-linejoin="miter"/><path d="M904.36 80.59L909.76 73.19L915.16 80.59L909.76 87.99Z" fill="none" stroke="#111" stroke-width="1.3" stroke-linejoin="miter"/><path d="M929.21 91.03L934.61 83.63L940.01 91.03L934.61 98.43Z" fill="none" stroke="#111" stroke-width="1.3" stroke-linejoin="miter"/><path d="M954.05 99.44L959.45 92.04L964.85 99.44L959.45 106.84Z" fill="none" stroke="#111" stroke-width="1.3" stroke-linejoin="miter"/><path d="M978.90 107.30L984.30 99.90L989.70 107.30L984.30 114.70Z" fill="none" stroke="#111" stroke-width="1.3" stroke-linejoin="miter"/><path d="M1003.74 115.09L1009.14 107.69L1014.54 115.09L1009.14 122.49Z" fill="none" stroke="#111" stroke-width="1.3" stroke-linejoin="miter"/><path d="M1028.58 123.39L1033.98 115.99L1039.38 123.39L1033.98 130.79Z" fill="none" stroke="#111" stroke-width="1.3" stroke-linejoin="miter"/><path d="M1053.43 138.31L1058.83 130.91L1064.23 138.31L1058.83 145.71Z" fill="none" stroke="#111" stroke-width="1.3" stroke-linejoin="miter"/><path d="M1078.27 161.27L1083.67 153.87L1089.07 161.27L1083.67 168.67Z" fill="none" stroke="#111" stroke-width="1.3" stroke-linejoin="miter"/><path d="M1103.12 187.81L1108.52 180.41L1113.92 187.81L1108.52 195.21Z" fill="none" stroke="#111" stroke-width="1.3" stroke-linejoin="miter"/><path d="M1127.96 209.81L1133.36 202.41L1138.76 209.81L1133.36 217.21Z" fill="none" stroke="#111" stroke-width="1.3" stroke-linejoin="miter"/><path d="M1152.80 225.39L1158.20 217.99L1163.60 225.39L1158.20 232.79Z" fill="none" stroke="#111" stroke-width="1.3" stroke-linejoin="miter"/><path d="M1177.65 238.28L1183.05 230.88L1188.45 238.28L1183.05 245.68Z" fill="none" stroke="#111" stroke-width="1.3" stroke-linejoin="miter"/><path d="M1202.49 248.82L1207.89 241.42L1213.29 248.82L1207.89 256.22Z" fill="none" stroke="#111" stroke-width="1.3" stroke-linejoin="miter"/><path d="M1227.34 259.83L1232.74 252.43L1238.14 259.83L1232.74 267.23Z" fill="none" stroke="#111" stroke-width="1.3" stroke-linejoin="miter"/><path d="M1252.18 273.50L1257.58 266.10L1262.98 273.50L1257.58 280.90Z" fill="none" stroke="#111" stroke-width="1.3" stroke-linejoin="miter"/><path d="M1277.02 287.55L1282.42 280.15L1287.82 287.55L1282.42 294.95Z" fill="none" stroke="#111" stroke-width="1.3" stroke-linejoin="miter"/><path d="M1301.87 304.79L1307.27 297.39L1312.67 304.79L1307.27 312.19Z" fill="none" stroke="#111" stroke-width="1.3" stroke-linejoin="miter"/><path d="M1326.71 319.62L1332.11 312.22L1337.51 319.62L1332.11 327.02Z" fill="none" stroke="#111" stroke-width="1.3" stroke-linejoin="miter"/><path d="M1351.56 335.07L1356.96 327.67L1362.36 335.07L1356.96 342.47Z" fill="none" stroke="#111" stroke-width="1.3" stroke-linejoin="miter"/><path d="M1376.40 349.69L1381.80 342.29L1387.20 349.69L1381.80 357.09Z" fill="none" stroke="#111" stroke-width="1.3" stroke-linejoin="miter"/><path d="M184.97 291.33L193.61 299.33M184.97 299.33L193.61 291.33" fill="none" stroke="#111" stroke-width="1.3" stroke-linejoin="miter"/><path d="M209.81 181.50L218.45 189.50M209.81 189.50L218.45 181.50" fill="none" stroke="#111" stroke-width="1.3" stroke-linejoin="miter"/><path d="M234.66 116.18L243.30 124.18M234.66 124.18L243.30 116.18" fill="none" stroke="#111" stroke-width="1.3" stroke-linejoin="miter"/><path d="M259.50 84.58L268.14 92.58M259.50 92.58L268.14 84.58" fill="none" stroke="#111" stroke-width="1.3" stroke-linejoin="miter"/><path d="M284.34 68.25L292.98 76.25M284.34 76.25L292.98 68.25" fill="none" stroke="#111" stroke-width="1.3" stroke-linejoin="miter"/><path d="M309.19 60.88L317.83 68.88M309.19 68.88L317.83 60.88" fill="none" stroke="#111" stroke-width="1.3" stroke-linejoin="miter"/><path d="M334.03 55.61L342.67 63.61M334.03 63.61L342.67 55.61" fill="none" stroke="#111" stroke-width="1.3" stroke-linejoin="miter"/><path d="M358.88 51.66L367.52 59.66M358.88 59.66L367.52 51.66" fill="none" stroke="#111" stroke-width="1.3" stroke-linejoin="miter"/><path d="M383.72 47.71L392.36 55.71M383.72 55.71L392.36 47.71" fill="none" stroke="#111" stroke-width="1.3" stroke-linejoin="miter"/><path d="M408.56 40.33L417.20 48.33M408.56 48.33L417.20 40.33" fill="none" stroke="#111" stroke-width="1.3" stroke-linejoin="miter"/><path d="M433.41 31.90L442.05 39.90M433.41 39.90L442.05 31.90" fill="none" stroke="#111" stroke-width="1.3" stroke-linejoin="miter"/><path d="M458.25 23.21L466.89 31.21M458.25 31.21L466.89 23.21" fill="none" stroke="#111" stroke-width="1.3" stroke-linejoin="miter"/><path d="M483.10 16.36L491.74 24.36M483.10 24.36L491.74 16.36" fill="none" stroke="#111" stroke-width="1.3" stroke-linejoin="miter"/><path d="M507.94 13.73L516.58 21.73M507.94 21.73L516.58 13.73" fill="none" stroke="#111" stroke-width="1.3" stroke-linejoin="miter"/><path d="M532.78 15.84L541.42 23.84M532.78 23.84L541.42 15.84" fill="none" stroke="#111" stroke-width="1.3" stroke-linejoin="miter"/><path d="M557.63 21.11L566.27 29.11M557.63 29.11L566.27 21.11" fill="none" stroke="#111" stroke-width="1.3" stroke-linejoin="miter"/><path d="M582.47 28.74L591.11 36.74M582.47 36.74L591.11 28.74" fill="none" stroke="#111" stroke-width="1.3" stroke-linejoin="miter"/><path d="M607.32 37.17L615.96 45.17M607.32 45.17L615.96 37.17" fill="none" stroke="#111" stroke-width="1.3" stroke-linejoin="miter"/><path d="M632.16 45.86L640.80 53.86M632.16 53.86L640.80 45.86" fill="none" stroke="#111" stroke-width="1.3" stroke-linejoin="miter"/><path d="M657.00 52.18L665.64 60.18M657.00 60.18L665.64 52.18" fill="none" stroke="#111" stroke-width="1.3" stroke-linejoin="miter"/><path d="M681.85 57.19L690.49 65.19M681.85 65.19L690.49 57.19" fill="none" stroke="#111" stroke-width="1.3" stroke-linejoin="miter"/><path d="M706.69 58.77L715.33 66.77M706.69 66.77L715.33 58.77" fill="none" stroke="#111" stroke-width="1.3" stroke-linejoin="miter"/><path d="M731.54 57.45L740.18 65.45M731.54 65.45L740.18 57.45" fill="none" stroke="#111" stroke-width="1.3" stroke-linejoin="miter"/><path d="M756.38 52.18L765.02 60.18M756.38 60.18L765.02 52.18" fill="none" stroke="#111" stroke-width="1.3" stroke-linejoin="miter"/><path d="M781.22 42.44L789.86 50.44M781.22 50.44L789.86 42.44" fill="none" stroke="#111" stroke-width="1.3" stroke-linejoin="miter"/><path d="M806.07 36.91L814.71 44.91M806.07 44.91L814.71 36.91" fill="none" stroke="#111" stroke-width="1.3" stroke-linejoin="miter"/><path d="M830.91 39.80L839.55 47.80M830.91 47.80L839.55 39.80" fill="none" stroke="#111" stroke-width="1.3" stroke-linejoin="miter"/><path d="M855.76 49.55L864.40 57.55M855.76 57.55L864.40 49.55" fill="none" stroke="#111" stroke-width="1.3" stroke-linejoin="miter"/><path d="M880.60 60.08L889.24 68.08M880.60 68.08L889.24 60.08" fill="none" stroke="#111" stroke-width="1.3" stroke-linejoin="miter"/><path d="M905.44 71.15L914.08 79.15M905.44 79.15L914.08 71.15" fill="none" stroke="#111" stroke-width="1.3" stroke-linejoin="miter"/><path d="M930.29 81.42L938.93 89.42M930.29 89.42L938.93 81.42" fill="none" stroke="#111" stroke-width="1.3" stroke-linejoin="miter"/><path d="M955.13 89.58L963.77 97.58M955.13 97.58L963.77 89.58" fill="none" stroke="#111" stroke-width="1.3" stroke-linejoin="miter"/><path d="M979.98 97.22L988.62 105.22M979.98 105.22L988.62 97.22" fill="none" stroke="#111" stroke-width="1.3" stroke-linejoin="miter"/><path d="M1004.82 104.86L1013.46 112.86M1004.82 112.86L1013.46 104.86" fill="none" stroke="#111" stroke-width="1.3" stroke-linejoin="miter"/><path d="M1029.66 113.02L1038.30 121.02M1029.66 121.02L1038.30 113.02" fill="none" stroke="#111" stroke-width="1.3" stroke-linejoin="miter"/><path d="M1054.51 127.77L1063.15 135.77M1054.51 135.77L1063.15 127.77" fill="none" stroke="#111" stroke-width="1.3" stroke-linejoin="miter"/><path d="M1079.35 150.42L1087.99 158.42M1079.35 158.42L1087.99 150.42" fill="none" stroke="#111" stroke-width="1.3" stroke-linejoin="miter"/><path d="M1104.20 176.76L1112.84 184.76M1104.20 184.76L1112.84 176.76" fill="none" stroke="#111" stroke-width="1.3" stroke-linejoin="miter"/><path d="M1129.04 198.62L1137.68 206.62M1129.04 206.62L1137.68 198.62" fill="none" stroke="#111" stroke-width="1.3" stroke-linejoin="miter"/><path d="M1153.88 213.90L1162.52 221.90M1153.88 221.90L1162.52 213.90" fill="none" stroke="#111" stroke-width="1.3" stroke-linejoin="miter"/><path d="M1178.73 226.54L1187.37 234.54M1178.73 234.54L1187.37 226.54" fill="none" stroke="#111" stroke-width="1.3" stroke-linejoin="miter"/><path d="M1203.57 236.81L1212.21 244.81M1203.57 244.81L1212.21 236.81" fill="none" stroke="#111" stroke-width="1.3" stroke-linejoin="miter"/><path d="M1228.42 247.61L1237.06 255.61M1228.42 255.61L1237.06 247.61" fill="none" stroke="#111" stroke-width="1.3" stroke-linejoin="miter"/><path d="M1253.26 261.04L1261.90 269.04M1253.26 269.04L1261.90 261.04" fill="none" stroke="#111" stroke-width="1.3" stroke-linejoin="miter"/><path d="M1278.10 274.74L1286.74 282.74M1278.10 282.74L1286.74 274.74" fill="none" stroke="#111" stroke-width="1.3" stroke-linejoin="miter"/><path d="M1302.95 291.85L1311.59 299.85M1302.95 299.85L1311.59 291.85" fill="none" stroke="#111" stroke-width="1.3" stroke-linejoin="miter"/><path d="M1327.79 306.34L1336.43 314.34M1327.79 314.34L1336.43 306.34" fill="none" stroke="#111" stroke-width="1.3" stroke-linejoin="miter"/><path d="M1352.64 321.62L1361.28 329.62M1352.64 329.62L1361.28 321.62" fill="none" stroke="#111" stroke-width="1.3" stroke-linejoin="miter"/><path d="M1377.48 336.10L1386.12 344.10M1377.48 344.10L1386.12 336.10" fill="none" stroke="#111" stroke-width="1.3" stroke-linejoin="miter"/></g>
<text transform="translate(133.40 445.80) scale(1.08 1)" font-size="32.5" text-anchor="end" letter-spacing="-0.95">0</text>
<text transform="translate(133.40 393.12) scale(1.08 1)" font-size="32.5" text-anchor="end" letter-spacing="-0.95">2</text>
<text transform="translate(133.40 340.45) scale(1.08 1)" font-size="32.5" text-anchor="end" letter-spacing="-0.95">4</text>
<text transform="translate(133.40 287.78) scale(1.08 1)" font-size="32.5" text-anchor="end" letter-spacing="-0.95">6</text>
<text transform="translate(133.40 235.10) scale(1.08 1)" font-size="32.5" text-anchor="end" letter-spacing="-0.95">8</text>
<text transform="translate(133.40 182.43) scale(1.08 1)" font-size="32.5" text-anchor="end" letter-spacing="-0.95">10</text>
<text transform="translate(133.40 129.75) scale(1.08 1)" font-size="32.5" text-anchor="end" letter-spacing="-0.95">12</text>
<text transform="translate(133.40 77.08) scale(1.08 1)" font-size="32.5" text-anchor="end" letter-spacing="-0.95">14</text>
<text transform="translate(133.40 24.40) scale(1.08 1)" font-size="32.5" text-anchor="end" letter-spacing="-0.95">16</text>
<text transform="translate(139.60 471.20) scale(1.08 1)" font-size="32.5" text-anchor="middle" >0</text>
<text transform="translate(258.82 471.20) scale(1.08 1)" font-size="32.5" text-anchor="middle" >1</text>
<text transform="translate(383.04 471.20) scale(1.08 1)" font-size="32.5" text-anchor="middle" >2</text>
<text transform="translate(507.26 471.20) scale(1.08 1)" font-size="32.5" text-anchor="middle" >3</text>
<text transform="translate(631.48 471.20) scale(1.08 1)" font-size="32.5" text-anchor="middle" >4</text>
<text transform="translate(755.70 471.20) scale(1.08 1)" font-size="32.5" text-anchor="middle" >5</text>
<text transform="translate(879.92 471.20) scale(1.08 1)" font-size="32.5" text-anchor="middle" >6</text>
<text transform="translate(1004.14 471.20) scale(1.08 1)" font-size="32.5" text-anchor="middle" >7</text>
<text transform="translate(1128.36 471.20) scale(1.08 1)" font-size="32.5" text-anchor="middle" >8</text>
<text transform="translate(1252.58 471.20) scale(1.08 1)" font-size="32.5" text-anchor="middle" >9</text>
<text transform="translate(1383.00 471.20) scale(1.08 1)" font-size="32.5" text-anchor="middle" >10</text>
<text transform="translate(757.60 499.80) scale(1.06 1)" font-size="32.5" text-anchor="middle" >Frequency/GHz</text>
<text transform="translate(63.2 279.2) rotate(-90) scale(1 1.03)" font-size="34.5">S<tspan font-size="23.80" dy="16.80">21</tspan><tspan dy="-16.8">/dB</tspan></text>
<rect x="217.6" y="80.6" width="278.70000000000005" height="353.29999999999995" fill="#fdfdfd" stroke="#111" stroke-width="1.35"/>
<line x1="229.7" y1="109.0" x2="286.9" y2="109.0" stroke="#111" stroke-width="1.35"/>
<path d="M258.10 103.30L259.43 107.24L263.74 107.24L260.25 109.67L261.58 113.61L258.10 111.18L254.62 113.61L255.95 109.67L252.46 107.24L256.77 107.24Z" fill="none" stroke="#111" stroke-width="1.3" stroke-linejoin="miter"/>
<text transform="translate(292.60 113.20) scale(1.0 1)" font-size="29.9" text-anchor="start" >S<tspan font-size="20.63" dy="13.70">21</tspan><tspan dy="-13.70">,1.0 R</tspan><tspan font-size="20.63" dy="13.70">po</tspan><tspan dy="-13.70">,R</tspan><tspan font-size="20.63" dy="13.70">pi</tspan></text>
<line x1="229.7" y1="158.4" x2="286.9" y2="158.4" stroke="#111" stroke-width="1.35"/>
<ellipse cx="258.10" cy="158.40" rx="5.6" ry="5.55" fill="none" stroke="#111" stroke-width="1.3" stroke-linejoin="miter"/>
<text transform="translate(292.60 162.60) scale(1.0 1)" font-size="29.9" text-anchor="start" >S<tspan font-size="20.63" dy="13.70">21</tspan><tspan dy="-13.70">,1.5 R</tspan><tspan font-size="20.63" dy="13.70">po</tspan><tspan dy="-13.70">,R</tspan><tspan font-size="20.63" dy="13.70">pi</tspan></text>
<line x1="229.7" y1="208.0" x2="286.9" y2="208.0" stroke="#111" stroke-width="1.35"/>
<path d="M251.80 212.05L264.40 212.05L258.10 201.10Z" fill="none" stroke="#111" stroke-width="1.3" stroke-linejoin="miter"/>
<text transform="translate(292.60 212.20) scale(1.0 1)" font-size="29.9" text-anchor="start" >S<tspan font-size="20.63" dy="13.70">21</tspan><tspan dy="-13.70">,2.0 R</tspan><tspan font-size="20.63" dy="13.70">po</tspan><tspan dy="-13.70">,R</tspan><tspan font-size="20.63" dy="13.70">pi</tspan></text>
<line x1="229.7" y1="257.2" x2="286.9" y2="257.2" stroke="#111" stroke-width="1.35"/>
<path d="M251.80 253.60L264.40 253.60L258.10 264.60Z" fill="none" stroke="#111" stroke-width="1.3" stroke-linejoin="miter"/>
<text transform="translate(292.60 261.40) scale(1.0 1)" font-size="29.9" text-anchor="start" >S<tspan font-size="20.63" dy="13.70">21</tspan><tspan dy="-13.70">,2.5 R</tspan><tspan font-size="20.63" dy="13.70">po</tspan><tspan dy="-13.70">,R</tspan><tspan font-size="20.63" dy="13.70">pi</tspan></text>
<line x1="229.7" y1="306.9" x2="286.9" y2="306.9" stroke="#111" stroke-width="1.35"/>
<path d="M258.10 301.10L259.81 304.00L263.22 304.00L261.51 306.90L263.22 309.80L259.81 309.80L258.10 312.70L256.39 309.80L252.98 309.80L254.69 306.90L252.98 304.00L256.39 304.00Z" fill="none" stroke="#111" stroke-width="1.3" stroke-linejoin="miter"/>
<text transform="translate(292.60 311.10) scale(1.0 1)" font-size="29.9" text-anchor="start" >S<tspan font-size="20.63" dy="13.70">21</tspan><tspan dy="-13.70">,3.0 R</tspan><tspan font-size="20.63" dy="13.70">po</tspan><tspan dy="-13.70">,R</tspan><tspan font-size="20.63" dy="13.70">pi</tspan></text>
<line x1="229.7" y1="356.5" x2="286.9" y2="356.5" stroke="#111" stroke-width="1.35"/>
<path d="M252.70 356.50L258.10 349.10L263.50 356.50L258.10 363.90Z" fill="none" stroke="#111" stroke-width="1.3" stroke-linejoin="miter"/>
<text transform="translate(292.60 360.70) scale(1.0 1)" font-size="29.9" text-anchor="start" >S<tspan font-size="20.63" dy="13.70">21</tspan><tspan dy="-13.70">,3.5 R</tspan><tspan font-size="20.63" dy="13.70">po</tspan><tspan dy="-13.70">,R</tspan><tspan font-size="20.63" dy="13.70">pi</tspan></text>
<line x1="229.7" y1="406.1" x2="286.9" y2="406.1" stroke="#111" stroke-width="1.35"/>
<path d="M253.78 402.10L262.42 410.10M253.78 410.10L262.42 402.10" fill="none" stroke="#111" stroke-width="1.3" stroke-linejoin="miter"/>
<text transform="translate(292.60 410.30) scale(1.0 1)" font-size="29.9" text-anchor="start" >S<tspan font-size="20.63" dy="13.70">21</tspan><tspan dy="-13.70">,4.0 R</tspan><tspan font-size="20.63" dy="13.70">po</tspan><tspan dy="-13.70">,R</tspan><tspan font-size="20.63" dy="13.70">pi</tspan></text>
<line x1="263.82" y1="511.20" x2="263.82" y2="864.00" stroke="#3a3a3a" stroke-width="1.15" stroke-dasharray="1.2 7.39"/>
<line x1="388.04" y1="511.20" x2="388.04" y2="864.00" stroke="#3a3a3a" stroke-width="1.15" stroke-dasharray="1.2 7.39"/>
<line x1="512.26" y1="511.20" x2="512.26" y2="864.00" stroke="#3a3a3a" stroke-width="1.15" stroke-dasharray="1.2 7.39"/>
<line x1="636.48" y1="511.20" x2="636.48" y2="864.00" stroke="#3a3a3a" stroke-width="1.15" stroke-dasharray="1.2 7.39"/>
<line x1="760.70" y1="511.20" x2="760.70" y2="864.00" stroke="#3a3a3a" stroke-width="1.15" stroke-dasharray="1.2 7.39"/>
<line x1="884.92" y1="511.20" x2="884.92" y2="864.00" stroke="#3a3a3a" stroke-width="1.15" stroke-dasharray="1.2 7.39"/>
<line x1="1009.14" y1="511.20" x2="1009.14" y2="864.00" stroke="#3a3a3a" stroke-width="1.15" stroke-dasharray="1.2 7.39"/>
<line x1="1133.36" y1="511.20" x2="1133.36" y2="864.00" stroke="#3a3a3a" stroke-width="1.15" stroke-dasharray="1.2 7.39"/>
<line x1="1257.58" y1="511.20" x2="1257.58" y2="864.00" stroke="#3a3a3a" stroke-width="1.15" stroke-dasharray="1.2 7.39"/>
<line x1="139.60" y1="805.20" x2="1381.80" y2="805.20" stroke="#3a3a3a" stroke-width="1.15" stroke-dasharray="1.2 7.39"/>
<line x1="139.60" y1="746.40" x2="1381.80" y2="746.40" stroke="#3a3a3a" stroke-width="1.15" stroke-dasharray="1.2 7.39"/>
<line x1="139.60" y1="687.60" x2="1381.80" y2="687.60" stroke="#3a3a3a" stroke-width="1.15" stroke-dasharray="1.2 7.39"/>
<line x1="139.60" y1="628.80" x2="1381.80" y2="628.80" stroke="#3a3a3a" stroke-width="1.15" stroke-dasharray="1.2 7.39"/>
<line x1="139.60" y1="570.00" x2="1381.80" y2="570.00" stroke="#3a3a3a" stroke-width="1.15" stroke-dasharray="1.2 7.39"/>
<path d="M263.82 864.00V852.40M263.82 511.20V522.80M388.04 864.00V852.40M388.04 511.20V522.80M512.26 864.00V852.40M512.26 511.20V522.80M636.48 864.00V852.40M636.48 511.20V522.80M760.70 864.00V852.40M760.70 511.20V522.80M884.92 864.00V852.40M884.92 511.20V522.80M1009.14 864.00V852.40M1009.14 511.20V522.80M1133.36 864.00V852.40M1133.36 511.20V522.80M1257.58 864.00V852.40M1257.58 511.20V522.80M139.60 805.20H152.10M1381.80 805.20H1369.30M139.60 746.40H152.10M1381.80 746.40H1369.30M139.60 687.60H152.10M1381.80 687.60H1369.30M139.60 628.80H152.10M1381.80 628.80H1369.30M139.60 570.00H152.10M1381.80 570.00H1369.30" stroke="#111" stroke-width="1.35" fill="none"/>
<rect x="139.60" y="511.20" width="1242.20" height="352.80" fill="none" stroke="#111" stroke-width="1.35"/>
<g clip-path="url(#cb)" fill="none" stroke="#111" stroke-width="1.35"><path d="M139.60 781.68L142.71 781.68L145.83 781.68L148.94 781.69L152.05 781.70L155.17 781.71L158.28 781.72L161.39 781.74L164.51 781.76L167.62 781.78L170.73 781.80L173.85 781.83L176.96 781.86L180.07 781.89L183.19 781.92L186.30 781.96L189.41 781.99L192.53 782.03L195.64 782.08L198.75 782.12L201.87 782.17L204.98 782.22L208.09 782.27L211.21 782.33L214.32 782.38L217.43 782.44L220.55 782.50L223.66 782.57L226.77 782.63L229.89 782.70L233.00 782.77L236.11 782.85L239.23 782.92L242.34 783.00L245.45 783.08L248.56 783.16L251.68 783.25L254.79 783.33L257.90 783.42L261.02 783.51L264.13 783.60L267.24 783.70L270.36 783.80L273.47 783.90L276.58 784.00L279.70 784.10L282.81 784.21L285.92 784.31L289.04 784.42L292.15 784.53L295.26 784.65L298.38 784.76L301.49 784.88L304.60 785.00L307.72 785.12L310.83 785.24L313.94 785.37L317.06 785.50L320.17 785.62L323.28 785.75L326.40 785.89L329.51 786.02L332.62 786.16L335.74 786.29L338.85 786.43L341.96 786.57L345.08 786.72L348.19 786.86L351.30 787.01L354.42 787.15L357.53 787.30L360.64 787.45L363.76 787.60L366.87 787.76L369.98 787.91L373.10 788.07L376.21 788.23L379.32 788.39L382.44 788.55L385.55 788.71L388.66 788.87L391.78 789.04L394.89 789.20L398.00 789.37L401.12 789.54L404.23 789.71L407.34 789.88L410.46 790.05L413.57 790.23L416.68 790.40L419.80 790.58L422.91 790.75L426.02 790.93L429.14 791.11L432.25 791.29L435.36 791.47L438.48 791.65L441.59 791.84L444.70 792.02L447.82 792.21L450.93 792.39L454.04 792.58L457.15 792.77L460.27 792.95L463.38 793.14L466.49 793.33L469.61 793.53L472.72 793.72L475.83 793.91L478.95 794.10L482.06 794.30L485.17 794.49L488.29 794.69L491.40 794.88L494.51 795.08L497.63 795.28L500.74 795.47L503.85 795.67L506.97 795.87L510.08 796.07L513.19 796.27L516.31 796.47L519.42 796.67L522.53 796.87L525.65 797.07L528.76 797.28L531.87 797.48L534.99 797.68L538.10 797.88L541.21 798.09L544.33 798.29L547.44 798.50L550.55 798.70L553.67 798.90L556.78 799.11L559.89 799.31L563.01 799.52L566.12 799.73L569.23 799.93L572.35 800.14L575.46 800.34L578.57 800.55L581.69 800.76L584.80 800.96L587.91 801.17L591.03 801.38L594.14 801.58L597.25 801.79L600.37 802.00L603.48 802.20L606.59 802.41L609.71 802.62L612.82 802.82L615.93 803.03L619.05 803.24L622.16 803.44L625.27 803.65L628.39 803.86L631.50 804.06L634.61 804.27L637.73 804.48L640.84 804.68L643.95 804.89L647.07 805.09L650.18 805.30L653.29 805.50L656.41 805.71L659.52 805.91L662.63 806.12L665.74 806.32L668.86 806.53L671.97 806.73L675.08 806.93L678.20 807.14L681.31 807.34L684.42 807.54L687.54 807.75L690.65 807.95L693.76 808.15L696.88 808.35L699.99 808.55L703.10 808.75L706.22 808.96L709.33 809.16L712.44 809.36L715.56 809.55L718.67 809.75L721.78 809.95L724.90 810.15L728.01 810.35L731.12 810.55L734.24 810.74L737.35 810.94L740.46 811.14L743.58 811.33L746.69 811.53L749.80 811.72L752.92 811.92L756.03 812.11L759.14 812.30L762.26 812.50L765.37 812.69L768.48 812.88L771.60 813.07L774.71 813.26L777.82 813.46L780.94 813.65L784.05 813.83L787.16 814.02L790.28 814.21L793.39 814.40L796.50 814.59L799.62 814.77L802.73 814.96L805.84 815.15L808.96 815.33L812.07 815.52L815.18 815.70L818.30 815.89L821.41 816.07L824.52 816.25L827.64 816.43L830.75 816.61L833.86 816.80L836.98 816.98L840.09 817.16L843.20 817.33L846.32 817.51L849.43 817.69L852.54 817.87L855.66 818.05L858.77 818.22L861.88 818.40L864.99 818.57L868.11 818.75L871.22 818.92L874.33 819.09L877.45 819.27L880.56 819.44L883.67 819.61L886.79 819.78L889.90 819.95L893.01 820.12L896.13 820.29L899.24 820.46L902.35 820.63L905.47 820.79L908.58 820.96L911.69 821.13L914.81 821.29L917.92 821.46L921.03 821.62L924.15 821.78L927.26 821.95L930.37 822.11L933.49 822.27L936.60 822.43L939.71 822.59L942.83 822.75L945.94 822.91L949.05 823.07L952.17 823.23L955.28 823.39L958.39 823.54L961.51 823.70L964.62 823.85L967.73 824.01L970.85 824.16L973.96 824.32L977.07 824.47L980.19 824.62L983.30 824.77L986.41 824.93L989.53 825.08L992.64 825.23L995.75 825.38L998.87 825.52L1001.98 825.67L1005.09 825.82L1008.21 825.97L1011.32 826.11L1014.43 826.26L1017.55 826.40L1020.66 826.55L1023.77 826.69L1026.89 826.84L1030.00 826.98L1033.11 827.12L1036.23 827.26L1039.34 827.40L1042.45 827.54L1045.57 827.68L1048.68 827.82L1051.79 827.96L1054.91 828.10L1058.02 828.24L1061.13 828.37L1064.25 828.51L1067.36 828.65L1070.47 828.78L1073.58 828.92L1076.70 829.05L1079.81 829.18L1082.92 829.32L1086.04 829.45L1089.15 829.58L1092.26 829.71L1095.38 829.84L1098.49 829.97L1101.60 830.10L1104.72 830.23L1107.83 830.36L1110.94 830.48L1114.06 830.61L1117.17 830.74L1120.28 830.86L1123.40 830.99L1126.51 831.11L1129.62 831.24L1132.74 831.36L1135.85 831.49L1138.96 831.61L1142.08 831.73L1145.19 831.85L1148.30 831.97L1151.42 832.09L1154.53 832.21L1157.64 832.33L1160.76 832.45L1163.87 832.57L1166.98 832.69L1170.10 832.81L1173.21 832.92L1176.32 833.04L1179.44 833.15L1182.55 833.27L1185.66 833.38L1188.78 833.50L1191.89 833.61L1195.00 833.73L1198.12 833.84L1201.23 833.95L1204.34 834.06L1207.46 834.17L1210.57 834.28L1213.68 834.39L1216.80 834.50L1219.91 834.61L1223.02 834.72L1226.14 834.83L1229.25 834.94L1232.36 835.04L1235.48 835.15L1238.59 835.26L1241.70 835.36L1244.82 835.47L1247.93 835.57L1251.04 835.68L1254.16 835.78L1257.27 835.88L1260.38 835.99L1263.50 836.09L1266.61 836.19L1269.72 836.29L1272.84 836.39L1275.95 836.50L1279.06 836.60L1282.17 836.69L1285.29 836.79L1288.40 836.89L1291.51 836.99L1294.63 837.09L1297.74 837.19L1300.85 837.28L1303.97 837.38L1307.08 837.48L1310.19 837.57L1313.31 837.67L1316.42 837.76L1319.53 837.86L1322.65 837.95L1325.76 838.04L1328.87 838.14L1331.99 838.23L1335.10 838.32L1338.21 838.41L1341.33 838.50L1344.44 838.60L1347.55 838.69L1350.67 838.78L1353.78 838.87L1356.89 838.96L1360.01 839.04L1363.12 839.13L1366.23 839.22L1369.35 839.31L1372.46 839.40L1375.57 839.48L1378.69 839.57L1381.80 839.66"/><path d="M139.60 740.52L142.71 740.52L145.83 740.53L148.94 740.54L152.05 740.55L155.17 740.57L158.28 740.59L161.39 740.61L164.51 740.64L167.62 740.67L170.73 740.70L173.85 740.74L176.96 740.79L180.07 740.83L183.19 740.88L186.30 740.93L189.41 740.99L192.53 741.05L195.64 741.12L198.75 741.18L201.87 741.25L204.98 741.33L208.09 741.41L211.21 741.49L214.32 741.57L217.43 741.66L220.55 741.76L223.66 741.85L226.77 741.95L229.89 742.05L233.00 742.16L236.11 742.27L239.23 742.38L242.34 742.50L245.45 742.62L248.56 742.74L251.68 742.87L254.79 743.00L257.90 743.13L261.02 743.27L264.13 743.41L267.24 743.55L270.36 743.69L273.47 743.84L276.58 744.00L279.70 744.15L282.81 744.31L285.92 744.47L289.04 744.63L292.15 744.80L295.26 744.97L298.38 745.14L301.49 745.32L304.60 745.50L307.72 745.68L310.83 745.87L313.94 746.05L317.06 746.24L320.17 746.44L323.28 746.63L326.40 746.83L329.51 747.03L332.62 747.23L335.74 747.44L338.85 747.65L341.96 747.86L345.08 748.07L348.19 748.29L351.30 748.51L354.42 748.73L357.53 748.95L360.64 749.18L363.76 749.41L366.87 749.64L369.98 749.87L373.10 750.10L376.21 750.34L379.32 750.58L382.44 750.82L385.55 751.06L388.66 751.31L391.78 751.56L394.89 751.81L398.00 752.06L401.12 752.31L404.23 752.56L407.34 752.82L410.46 753.08L413.57 753.34L416.68 753.60L419.80 753.86L422.91 754.13L426.02 754.40L429.14 754.67L432.25 754.94L435.36 755.21L438.48 755.48L441.59 755.76L444.70 756.03L447.82 756.31L450.93 756.59L454.04 756.87L457.15 757.15L460.27 757.43L463.38 757.72L466.49 758.00L469.61 758.29L472.72 758.58L475.83 758.86L478.95 759.15L482.06 759.44L485.17 759.74L488.29 760.03L491.40 760.32L494.51 760.62L497.63 760.91L500.74 761.21L503.85 761.51L506.97 761.81L510.08 762.10L513.19 762.40L516.31 762.71L519.42 763.01L522.53 763.31L525.65 763.61L528.76 763.91L531.87 764.22L534.99 764.52L538.10 764.83L541.21 765.13L544.33 765.44L547.44 765.74L550.55 766.05L553.67 766.36L556.78 766.66L559.89 766.97L563.01 767.28L566.12 767.59L569.23 767.90L572.35 768.21L575.46 768.52L578.57 768.83L581.69 769.13L584.80 769.44L587.91 769.75L591.03 770.06L594.14 770.37L597.25 770.68L600.37 770.99L603.48 771.30L606.59 771.61L609.71 771.93L612.82 772.24L615.93 772.55L619.05 772.86L622.16 773.17L625.27 773.48L628.39 773.78L631.50 774.09L634.61 774.40L637.73 774.71L640.84 775.02L643.95 775.33L647.07 775.64L650.18 775.95L653.29 776.26L656.41 776.56L659.52 776.87L662.63 777.18L665.74 777.48L668.86 777.79L671.97 778.10L675.08 778.40L678.20 778.71L681.31 779.01L684.42 779.32L687.54 779.62L690.65 779.92L693.76 780.23L696.88 780.53L699.99 780.83L703.10 781.13L706.22 781.43L709.33 781.73L712.44 782.03L715.56 782.33L718.67 782.63L721.78 782.93L724.90 783.23L728.01 783.52L731.12 783.82L734.24 784.11L737.35 784.41L740.46 784.70L743.58 785.00L746.69 785.29L749.80 785.58L752.92 785.88L756.03 786.17L759.14 786.46L762.26 786.75L765.37 787.03L768.48 787.32L771.60 787.61L774.71 787.90L777.82 788.18L780.94 788.47L784.05 788.75L787.16 789.04L790.28 789.32L793.39 789.60L796.50 789.88L799.62 790.16L802.73 790.44L805.84 790.72L808.96 791.00L812.07 791.28L815.18 791.55L818.30 791.83L821.41 792.10L824.52 792.38L827.64 792.65L830.75 792.92L833.86 793.19L836.98 793.46L840.09 793.73L843.20 794.00L846.32 794.27L849.43 794.54L852.54 794.80L855.66 795.07L858.77 795.33L861.88 795.60L864.99 795.86L868.11 796.12L871.22 796.38L874.33 796.64L877.45 796.90L880.56 797.16L883.67 797.42L886.79 797.67L889.90 797.93L893.01 798.18L896.13 798.43L899.24 798.69L902.35 798.94L905.47 799.19L908.58 799.44L911.69 799.69L914.81 799.94L917.92 800.18L921.03 800.43L924.15 800.68L927.26 800.92L930.37 801.16L933.49 801.41L936.60 801.65L939.71 801.89L942.83 802.13L945.94 802.37L949.05 802.60L952.17 802.84L955.28 803.08L958.39 803.31L961.51 803.55L964.62 803.78L967.73 804.01L970.85 804.24L973.96 804.47L977.07 804.70L980.19 804.93L983.30 805.16L986.41 805.39L989.53 805.61L992.64 805.84L995.75 806.06L998.87 806.29L1001.98 806.51L1005.09 806.73L1008.21 806.95L1011.32 807.17L1014.43 807.39L1017.55 807.61L1020.66 807.82L1023.77 808.04L1026.89 808.25L1030.00 808.47L1033.11 808.68L1036.23 808.89L1039.34 809.11L1042.45 809.32L1045.57 809.53L1048.68 809.73L1051.79 809.94L1054.91 810.15L1058.02 810.36L1061.13 810.56L1064.25 810.76L1067.36 810.97L1070.47 811.17L1073.58 811.37L1076.70 811.57L1079.81 811.77L1082.92 811.97L1086.04 812.17L1089.15 812.37L1092.26 812.57L1095.38 812.76L1098.49 812.96L1101.60 813.15L1104.72 813.34L1107.83 813.54L1110.94 813.73L1114.06 813.92L1117.17 814.11L1120.28 814.30L1123.40 814.48L1126.51 814.67L1129.62 814.86L1132.74 815.04L1135.85 815.23L1138.96 815.41L1142.08 815.60L1145.19 815.78L1148.30 815.96L1151.42 816.14L1154.53 816.32L1157.64 816.50L1160.76 816.68L1163.87 816.86L1166.98 817.03L1170.10 817.21L1173.21 817.38L1176.32 817.56L1179.44 817.73L1182.55 817.90L1185.66 818.08L1188.78 818.25L1191.89 818.42L1195.00 818.59L1198.12 818.76L1201.23 818.93L1204.34 819.09L1207.46 819.26L1210.57 819.43L1213.68 819.59L1216.80 819.76L1219.91 819.92L1223.02 820.08L1226.14 820.24L1229.25 820.41L1232.36 820.57L1235.48 820.73L1238.59 820.89L1241.70 821.04L1244.82 821.20L1247.93 821.36L1251.04 821.52L1254.16 821.67L1257.27 821.83L1260.38 821.98L1263.50 822.13L1266.61 822.29L1269.72 822.44L1272.84 822.59L1275.95 822.74L1279.06 822.89L1282.17 823.04L1285.29 823.19L1288.40 823.34L1291.51 823.49L1294.63 823.63L1297.74 823.78L1300.85 823.93L1303.97 824.07L1307.08 824.21L1310.19 824.36L1313.31 824.50L1316.42 824.64L1319.53 824.78L1322.65 824.93L1325.76 825.07L1328.87 825.21L1331.99 825.34L1335.10 825.48L1338.21 825.62L1341.33 825.76L1344.44 825.89L1347.55 826.03L1350.67 826.16L1353.78 826.30L1356.89 826.43L1360.01 826.57L1363.12 826.70L1366.23 826.83L1369.35 826.96L1372.46 827.09L1375.57 827.22L1378.69 827.35L1381.80 827.48"/><path d="M139.60 699.36L142.71 699.36L145.83 699.37L148.94 699.38L152.05 699.40L155.17 699.42L158.28 699.45L161.39 699.48L164.51 699.52L167.62 699.56L170.73 699.61L173.85 699.66L176.96 699.71L180.07 699.78L183.19 699.84L186.30 699.91L189.41 699.99L192.53 700.07L195.64 700.15L198.75 700.24L201.87 700.34L204.98 700.44L208.09 700.54L211.21 700.65L214.32 700.77L217.43 700.89L220.55 701.01L223.66 701.14L226.77 701.27L229.89 701.41L233.00 701.55L236.11 701.69L239.23 701.84L242.34 702.00L245.45 702.16L248.56 702.32L251.68 702.49L254.79 702.66L257.90 702.84L261.02 703.02L264.13 703.21L267.24 703.40L270.36 703.59L273.47 703.79L276.58 703.99L279.70 704.20L282.81 704.41L285.92 704.63L289.04 704.85L292.15 705.07L295.26 705.30L298.38 705.53L301.49 705.76L304.60 706.00L307.72 706.24L310.83 706.49L313.94 706.74L317.06 706.99L320.17 707.25L323.28 707.51L326.40 707.77L329.51 708.04L332.62 708.31L335.74 708.59L338.85 708.87L341.96 709.15L345.08 709.43L348.19 709.72L351.30 710.01L354.42 710.31L357.53 710.60L360.64 710.90L363.76 711.21L366.87 711.52L369.98 711.83L373.10 712.14L376.21 712.45L379.32 712.77L382.44 713.09L385.55 713.42L388.66 713.75L391.78 714.07L394.89 714.41L398.00 714.74L401.12 715.08L404.23 715.42L407.34 715.76L410.46 716.11L413.57 716.45L416.68 716.80L419.80 717.15L422.91 717.51L426.02 717.86L429.14 718.22L432.25 718.58L435.36 718.94L438.48 719.31L441.59 719.67L444.70 720.04L447.82 720.41L450.93 720.78L454.04 721.16L457.15 721.53L460.27 721.91L463.38 722.29L466.49 722.67L469.61 723.05L472.72 723.43L475.83 723.82L478.95 724.21L482.06 724.59L485.17 724.98L488.29 725.37L491.40 725.76L494.51 726.16L497.63 726.55L500.74 726.95L503.85 727.34L506.97 727.74L510.08 728.14L513.19 728.54L516.31 728.94L519.42 729.34L522.53 729.74L525.65 730.15L528.76 730.55L531.87 730.96L534.99 731.36L538.10 731.77L541.21 732.18L544.33 732.58L547.44 732.99L550.55 733.40L553.67 733.81L556.78 734.22L559.89 734.63L563.01 735.04L566.12 735.45L569.23 735.86L572.35 736.28L575.46 736.69L578.57 737.10L581.69 737.51L584.80 737.93L587.91 738.34L591.03 738.75L594.14 739.17L597.25 739.58L600.37 739.99L603.48 740.41L606.59 740.82L609.71 741.23L612.82 741.65L615.93 742.06L619.05 742.47L622.16 742.89L625.27 743.30L628.39 743.71L631.50 744.13L634.61 744.54L637.73 744.95L640.84 745.36L643.95 745.77L647.07 746.19L650.18 746.60L653.29 747.01L656.41 747.42L659.52 747.83L662.63 748.24L665.74 748.64L668.86 749.05L671.97 749.46L675.08 749.87L678.20 750.28L681.31 750.68L684.42 751.09L687.54 751.49L690.65 751.90L693.76 752.30L696.88 752.70L699.99 753.11L703.10 753.51L706.22 753.91L709.33 754.31L712.44 754.71L715.56 755.11L718.67 755.51L721.78 755.90L724.90 756.30L728.01 756.70L731.12 757.09L734.24 757.49L737.35 757.88L740.46 758.27L743.58 758.66L746.69 759.05L749.80 759.44L752.92 759.83L756.03 760.22L759.14 760.61L762.26 760.99L765.37 761.38L768.48 761.76L771.60 762.15L774.71 762.53L777.82 762.91L780.94 763.29L784.05 763.67L787.16 764.05L790.28 764.42L793.39 764.80L796.50 765.18L799.62 765.55L802.73 765.92L805.84 766.29L808.96 766.67L812.07 767.03L815.18 767.40L818.30 767.77L821.41 768.14L824.52 768.50L827.64 768.87L830.75 769.23L833.86 769.59L836.98 769.95L840.09 770.31L843.20 770.67L846.32 771.03L849.43 771.38L852.54 771.74L855.66 772.09L858.77 772.44L861.88 772.79L864.99 773.14L868.11 773.49L871.22 773.84L874.33 774.19L877.45 774.53L880.56 774.88L883.67 775.22L886.79 775.56L889.90 775.90L893.01 776.24L896.13 776.58L899.24 776.92L902.35 777.25L905.47 777.59L908.58 777.92L911.69 778.25L914.81 778.58L917.92 778.91L921.03 779.24L924.15 779.57L927.26 779.89L930.37 780.22L933.49 780.54L936.60 780.86L939.71 781.18L942.83 781.50L945.94 781.82L949.05 782.14L952.17 782.46L955.28 782.77L958.39 783.08L961.51 783.40L964.62 783.71L967.73 784.02L970.85 784.33L973.96 784.63L977.07 784.94L980.19 785.24L983.30 785.55L986.41 785.85L989.53 786.15L992.64 786.45L995.75 786.75L998.87 787.05L1001.98 787.34L1005.09 787.64L1008.21 787.93L1011.32 788.23L1014.43 788.52L1017.55 788.81L1020.66 789.10L1023.77 789.39L1026.89 789.67L1030.00 789.96L1033.11 790.24L1036.23 790.53L1039.34 790.81L1042.45 791.09L1045.57 791.37L1048.68 791.65L1051.79 791.92L1054.91 792.20L1058.02 792.47L1061.13 792.75L1064.25 793.02L1067.36 793.29L1070.47 793.56L1073.58 793.83L1076.70 794.10L1079.81 794.36L1082.92 794.63L1086.04 794.89L1089.15 795.16L1092.26 795.42L1095.38 795.68L1098.49 795.94L1101.60 796.20L1104.72 796.46L1107.83 796.71L1110.94 796.97L1114.06 797.22L1117.17 797.48L1120.28 797.73L1123.40 797.98L1126.51 798.23L1129.62 798.48L1132.74 798.72L1135.85 798.97L1138.96 799.22L1142.08 799.46L1145.19 799.70L1148.30 799.95L1151.42 800.19L1154.53 800.43L1157.64 800.67L1160.76 800.90L1163.87 801.14L1166.98 801.38L1170.10 801.61L1173.21 801.84L1176.32 802.08L1179.44 802.31L1182.55 802.54L1185.66 802.77L1188.78 803.00L1191.89 803.22L1195.00 803.45L1198.12 803.68L1201.23 803.90L1204.34 804.12L1207.46 804.35L1210.57 804.57L1213.68 804.79L1216.80 805.01L1219.91 805.23L1223.02 805.44L1226.14 805.66L1229.25 805.87L1232.36 806.09L1235.48 806.30L1238.59 806.51L1241.70 806.73L1244.82 806.94L1247.93 807.15L1251.04 807.35L1254.16 807.56L1257.27 807.77L1260.38 807.98L1263.50 808.18L1266.61 808.38L1269.72 808.59L1272.84 808.79L1275.95 808.99L1279.06 809.19L1282.17 809.39L1285.29 809.59L1288.40 809.79L1291.51 809.98L1294.63 810.18L1297.74 810.37L1300.85 810.57L1303.97 810.76L1307.08 810.95L1310.19 811.14L1313.31 811.33L1316.42 811.52L1319.53 811.71L1322.65 811.90L1325.76 812.09L1328.87 812.27L1331.99 812.46L1335.10 812.64L1338.21 812.83L1341.33 813.01L1344.44 813.19L1347.55 813.37L1350.67 813.55L1353.78 813.73L1356.89 813.91L1360.01 814.09L1363.12 814.27L1366.23 814.44L1369.35 814.62L1372.46 814.79L1375.57 814.97L1378.69 815.14L1381.80 815.31"/><path d="M139.60 658.20L142.71 658.20L145.83 658.21L148.94 658.23L152.05 658.25L155.17 658.28L158.28 658.31L161.39 658.35L164.51 658.40L167.62 658.45L170.73 658.51L173.85 658.57L176.96 658.64L180.07 658.72L183.19 658.80L186.30 658.89L189.41 658.99L192.53 659.09L195.64 659.19L198.75 659.31L201.87 659.42L204.98 659.55L208.09 659.68L211.21 659.82L214.32 659.96L217.43 660.11L220.55 660.26L223.66 660.42L226.77 660.59L229.89 660.76L233.00 660.93L236.11 661.12L239.23 661.30L242.34 661.50L245.45 661.70L248.56 661.90L251.68 662.11L254.79 662.33L257.90 662.55L261.02 662.78L264.13 663.01L267.24 663.25L270.36 663.49L273.47 663.74L276.58 663.99L279.70 664.25L282.81 664.51L285.92 664.78L289.04 665.06L292.15 665.34L295.26 665.62L298.38 665.91L301.49 666.20L304.60 666.50L307.72 666.80L310.83 667.11L313.94 667.42L317.06 667.74L320.17 668.06L323.28 668.39L326.40 668.72L329.51 669.05L332.62 669.39L335.74 669.73L338.85 670.08L341.96 670.43L345.08 670.79L348.19 671.15L351.30 671.51L354.42 671.88L357.53 672.25L360.64 672.63L363.76 673.01L366.87 673.39L369.98 673.78L373.10 674.17L376.21 674.57L379.32 674.97L382.44 675.37L385.55 675.77L388.66 676.18L391.78 676.59L394.89 677.01L398.00 677.43L401.12 677.85L404.23 678.27L407.34 678.70L410.46 679.13L413.57 679.57L416.68 680.00L419.80 680.44L422.91 680.88L426.02 681.33L429.14 681.78L432.25 682.23L435.36 682.68L438.48 683.13L441.59 683.59L444.70 684.05L447.82 684.51L450.93 684.98L454.04 685.45L457.15 685.92L460.27 686.39L463.38 686.86L466.49 687.34L469.61 687.81L472.72 688.29L475.83 688.77L478.95 689.26L482.06 689.74L485.17 690.23L488.29 690.72L491.40 691.21L494.51 691.70L497.63 692.19L500.74 692.68L503.85 693.18L506.97 693.68L510.08 694.17L513.19 694.67L516.31 695.18L519.42 695.68L522.53 696.18L525.65 696.68L528.76 697.19L531.87 697.70L534.99 698.20L538.10 698.71L541.21 699.22L544.33 699.73L547.44 700.24L550.55 700.75L553.67 701.26L556.78 701.77L559.89 702.29L563.01 702.80L566.12 703.31L569.23 703.83L572.35 704.34L575.46 704.86L578.57 705.38L581.69 705.89L584.80 706.41L587.91 706.92L591.03 707.44L594.14 707.96L597.25 708.47L600.37 708.99L603.48 709.51L606.59 710.02L609.71 710.54L612.82 711.06L615.93 711.58L619.05 712.09L622.16 712.61L625.27 713.13L628.39 713.64L631.50 714.16L634.61 714.67L637.73 715.19L640.84 715.70L643.95 716.22L647.07 716.73L650.18 717.25L653.29 717.76L656.41 718.27L659.52 718.78L662.63 719.30L665.74 719.81L668.86 720.32L671.97 720.83L675.08 721.34L678.20 721.84L681.31 722.35L684.42 722.86L687.54 723.37L690.65 723.87L693.76 724.38L696.88 724.88L699.99 725.38L703.10 725.89L706.22 726.39L709.33 726.89L712.44 727.39L715.56 727.89L718.67 728.38L721.78 728.88L724.90 729.38L728.01 729.87L731.12 730.37L734.24 730.86L737.35 731.35L740.46 731.84L743.58 732.33L746.69 732.82L749.80 733.31L752.92 733.79L756.03 734.28L759.14 734.76L762.26 735.24L765.37 735.72L768.48 736.20L771.60 736.68L774.71 737.16L777.82 737.64L780.94 738.11L784.05 738.59L787.16 739.06L790.28 739.53L793.39 740.00L796.50 740.47L799.62 740.94L802.73 741.40L805.84 741.87L808.96 742.33L812.07 742.79L815.18 743.25L818.30 743.71L821.41 744.17L824.52 744.63L827.64 745.08L830.75 745.54L833.86 745.99L836.98 746.44L840.09 746.89L843.20 747.34L846.32 747.78L849.43 748.23L852.54 748.67L855.66 749.11L858.77 749.55L861.88 749.99L864.99 750.43L868.11 750.87L871.22 751.30L874.33 751.73L877.45 752.17L880.56 752.60L883.67 753.03L886.79 753.45L889.90 753.88L893.01 754.30L896.13 754.72L899.24 755.15L902.35 755.57L905.47 755.98L908.58 756.40L911.69 756.81L914.81 757.23L917.92 757.64L921.03 758.05L924.15 758.46L927.26 758.87L930.37 759.27L933.49 759.68L936.60 760.08L939.71 760.48L942.83 760.88L945.94 761.28L949.05 761.67L952.17 762.07L955.28 762.46L958.39 762.86L961.51 763.25L964.62 763.63L967.73 764.02L970.85 764.41L973.96 764.79L977.07 765.17L980.19 765.56L983.30 765.93L986.41 766.31L989.53 766.69L992.64 767.06L995.75 767.44L998.87 767.81L1001.98 768.18L1005.09 768.55L1008.21 768.92L1011.32 769.28L1014.43 769.65L1017.55 770.01L1020.66 770.37L1023.77 770.73L1026.89 771.09L1030.00 771.45L1033.11 771.80L1036.23 772.16L1039.34 772.51L1042.45 772.86L1045.57 773.21L1048.68 773.56L1051.79 773.90L1054.91 774.25L1058.02 774.59L1061.13 774.93L1064.25 775.27L1067.36 775.61L1070.47 775.95L1073.58 776.29L1076.70 776.62L1079.81 776.96L1082.92 777.29L1086.04 777.62L1089.15 777.95L1092.26 778.28L1095.38 778.60L1098.49 778.93L1101.60 779.25L1104.72 779.57L1107.83 779.89L1110.94 780.21L1114.06 780.53L1117.17 780.85L1120.28 781.16L1123.40 781.47L1126.51 781.79L1129.62 782.10L1132.74 782.41L1135.85 782.71L1138.96 783.02L1142.08 783.33L1145.19 783.63L1148.30 783.93L1151.42 784.23L1154.53 784.53L1157.64 784.83L1160.76 785.13L1163.87 785.43L1166.98 785.72L1170.10 786.01L1173.21 786.31L1176.32 786.60L1179.44 786.89L1182.55 787.17L1185.66 787.46L1188.78 787.75L1191.89 788.03L1195.00 788.31L1198.12 788.60L1201.23 788.88L1204.34 789.15L1207.46 789.43L1210.57 789.71L1213.68 789.98L1216.80 790.26L1219.91 790.53L1223.02 790.80L1226.14 791.07L1229.25 791.34L1232.36 791.61L1235.48 791.88L1238.59 792.14L1241.70 792.41L1244.82 792.67L1247.93 792.93L1251.04 793.19L1254.16 793.45L1257.27 793.71L1260.38 793.97L1263.50 794.22L1266.61 794.48L1269.72 794.73L1272.84 794.99L1275.95 795.24L1279.06 795.49L1282.17 795.74L1285.29 795.99L1288.40 796.23L1291.51 796.48L1294.63 796.72L1297.74 796.97L1300.85 797.21L1303.97 797.45L1307.08 797.69L1310.19 797.93L1313.31 798.17L1316.42 798.40L1319.53 798.64L1322.65 798.88L1325.76 799.11L1328.87 799.34L1331.99 799.57L1335.10 799.80L1338.21 800.03L1341.33 800.26L1344.44 800.49L1347.55 800.72L1350.67 800.94L1353.78 801.17L1356.89 801.39L1360.01 801.61L1363.12 801.83L1366.23 802.05L1369.35 802.27L1372.46 802.49L1375.57 802.71L1378.69 802.92L1381.80 803.14"/><path d="M139.60 617.04L142.71 617.04L145.83 617.05L148.94 617.07L152.05 617.10L155.17 617.13L158.28 617.17L161.39 617.22L164.51 617.28L167.62 617.34L170.73 617.41L173.85 617.49L176.96 617.57L180.07 617.66L183.19 617.76L186.30 617.87L189.41 617.98L192.53 618.10L195.64 618.23L198.75 618.37L201.87 618.51L204.98 618.66L208.09 618.82L211.21 618.98L214.32 619.15L217.43 619.33L220.55 619.51L223.66 619.70L226.77 619.90L229.89 620.11L233.00 620.32L236.11 620.54L239.23 620.77L242.34 621.00L245.45 621.24L248.56 621.48L251.68 621.74L254.79 622.00L257.90 622.26L261.02 622.53L264.13 622.81L267.24 623.10L270.36 623.39L273.47 623.69L276.58 623.99L279.70 624.30L282.81 624.62L285.92 624.94L289.04 625.27L292.15 625.60L295.26 625.94L298.38 626.29L301.49 626.64L304.60 627.00L307.72 627.36L310.83 627.73L313.94 628.11L317.06 628.49L320.17 628.87L323.28 629.26L326.40 629.66L329.51 630.06L332.62 630.47L335.74 630.88L338.85 631.30L341.96 631.72L345.08 632.15L348.19 632.58L351.30 633.02L354.42 633.46L357.53 633.91L360.64 634.36L363.76 634.81L366.87 635.27L369.98 635.74L373.10 636.21L376.21 636.68L379.32 637.16L382.44 637.64L385.55 638.13L388.66 638.62L391.78 639.11L394.89 639.61L398.00 640.11L401.12 640.62L404.23 641.13L407.34 641.64L410.46 642.16L413.57 642.68L416.68 643.20L419.80 643.73L422.91 644.26L426.02 644.79L429.14 645.33L432.25 645.87L435.36 646.42L438.48 646.96L441.59 647.51L444.70 648.06L447.82 648.62L450.93 649.18L454.04 649.74L457.15 650.30L460.27 650.86L463.38 651.43L466.49 652.00L469.61 652.58L472.72 653.15L475.83 653.73L478.95 654.31L482.06 654.89L485.17 655.47L488.29 656.06L491.40 656.65L494.51 657.24L497.63 657.83L500.74 658.42L503.85 659.02L506.97 659.61L510.08 660.21L513.19 660.81L516.31 661.41L519.42 662.01L522.53 662.62L525.65 663.22L528.76 663.83L531.87 664.43L534.99 665.04L538.10 665.65L541.21 666.26L544.33 666.87L547.44 667.49L550.55 668.10L553.67 668.71L556.78 669.33L559.89 669.94L563.01 670.56L566.12 671.18L569.23 671.80L572.35 672.41L575.46 673.03L578.57 673.65L581.69 674.27L584.80 674.89L587.91 675.51L591.03 676.13L594.14 676.75L597.25 677.37L600.37 677.99L603.48 678.61L606.59 679.23L609.71 679.85L612.82 680.47L615.93 681.09L619.05 681.71L622.16 682.33L625.27 682.95L628.39 683.57L631.50 684.19L634.61 684.81L637.73 685.43L640.84 686.04L643.95 686.66L647.07 687.28L650.18 687.89L653.29 688.51L656.41 689.13L659.52 689.74L662.63 690.35L665.74 690.97L668.86 691.58L671.97 692.19L675.08 692.80L678.20 693.41L681.31 694.02L684.42 694.63L687.54 695.24L690.65 695.85L693.76 696.45L696.88 697.06L699.99 697.66L703.10 698.26L706.22 698.87L709.33 699.47L712.44 700.07L715.56 700.66L718.67 701.26L721.78 701.86L724.90 702.45L728.01 703.05L731.12 703.64L734.24 704.23L737.35 704.82L740.46 705.41L743.58 706.00L746.69 706.58L749.80 707.17L752.92 707.75L756.03 708.33L759.14 708.91L762.26 709.49L765.37 710.07L768.48 710.65L771.60 711.22L774.71 711.79L777.82 712.37L780.94 712.94L784.05 713.50L787.16 714.07L790.28 714.64L793.39 715.20L796.50 715.76L799.62 716.32L802.73 716.88L805.84 717.44L808.96 718.00L812.07 718.55L815.18 719.11L818.30 719.66L821.41 720.21L824.52 720.75L827.64 721.30L830.75 721.84L833.86 722.39L836.98 722.93L840.09 723.47L843.20 724.00L846.32 724.54L849.43 725.07L852.54 725.61L855.66 726.14L858.77 726.66L861.88 727.19L864.99 727.72L868.11 728.24L871.22 728.76L874.33 729.28L877.45 729.80L880.56 730.32L883.67 730.83L886.79 731.34L889.90 731.85L893.01 732.36L896.13 732.87L899.24 733.37L902.35 733.88L905.47 734.38L908.58 734.88L911.69 735.38L914.81 735.87L917.92 736.37L921.03 736.86L924.15 737.35L927.26 737.84L930.37 738.33L933.49 738.81L936.60 739.30L939.71 739.78L942.83 740.26L945.94 740.73L949.05 741.21L952.17 741.68L955.28 742.16L958.39 742.63L961.51 743.09L964.62 743.56L967.73 744.03L970.85 744.49L973.96 744.95L977.07 745.41L980.19 745.87L983.30 746.32L986.41 746.78L989.53 747.23L992.64 747.68L995.75 748.13L998.87 748.57L1001.98 749.02L1005.09 749.46L1008.21 749.90L1011.32 750.34L1014.43 750.78L1017.55 751.21L1020.66 751.65L1023.77 752.08L1026.89 752.51L1030.00 752.94L1033.11 753.36L1036.23 753.79L1039.34 754.21L1042.45 754.63L1045.57 755.05L1048.68 755.47L1051.79 755.88L1054.91 756.30L1058.02 756.71L1061.13 757.12L1064.25 757.53L1067.36 757.94L1070.47 758.34L1073.58 758.75L1076.70 759.15L1079.81 759.55L1082.92 759.95L1086.04 760.34L1089.15 760.74L1092.26 761.13L1095.38 761.52L1098.49 761.91L1101.60 762.30L1104.72 762.69L1107.83 763.07L1110.94 763.45L1114.06 763.83L1117.17 764.21L1120.28 764.59L1123.40 764.97L1126.51 765.34L1129.62 765.72L1132.74 766.09L1135.85 766.46L1138.96 766.83L1142.08 767.19L1145.19 767.56L1148.30 767.92L1151.42 768.28L1154.53 768.64L1157.64 769.00L1160.76 769.36L1163.87 769.71L1166.98 770.06L1170.10 770.42L1173.21 770.77L1176.32 771.12L1179.44 771.46L1182.55 771.81L1185.66 772.15L1188.78 772.50L1191.89 772.84L1195.00 773.18L1198.12 773.51L1201.23 773.85L1204.34 774.19L1207.46 774.52L1210.57 774.85L1213.68 775.18L1216.80 775.51L1219.91 775.84L1223.02 776.16L1226.14 776.49L1229.25 776.81L1232.36 777.13L1235.48 777.45L1238.59 777.77L1241.70 778.09L1244.82 778.40L1247.93 778.72L1251.04 779.03L1254.16 779.34L1257.27 779.65L1260.38 779.96L1263.50 780.27L1266.61 780.58L1269.72 780.88L1272.84 781.18L1275.95 781.49L1279.06 781.79L1282.17 782.08L1285.29 782.38L1288.40 782.68L1291.51 782.97L1294.63 783.27L1297.74 783.56L1300.85 783.85L1303.97 784.14L1307.08 784.43L1310.19 784.72L1313.31 785.00L1316.42 785.29L1319.53 785.57L1322.65 785.85L1325.76 786.13L1328.87 786.41L1331.99 786.69L1335.10 786.96L1338.21 787.24L1341.33 787.51L1344.44 787.79L1347.55 788.06L1350.67 788.33L1353.78 788.60L1356.89 788.87L1360.01 789.13L1363.12 789.40L1366.23 789.66L1369.35 789.93L1372.46 790.19L1375.57 790.45L1378.69 790.71L1381.80 790.97"/><path d="M139.60 575.88L142.71 575.88L145.83 575.90L148.94 575.92L152.05 575.95L155.17 575.99L158.28 576.04L161.39 576.09L164.51 576.16L167.62 576.23L170.73 576.31L173.85 576.40L176.96 576.50L180.07 576.61L183.19 576.72L186.30 576.85L189.41 576.98L192.53 577.12L195.64 577.27L198.75 577.43L201.87 577.59L204.98 577.77L208.09 577.95L211.21 578.14L214.32 578.34L217.43 578.55L220.55 578.76L223.66 578.99L226.77 579.22L229.89 579.46L233.00 579.71L236.11 579.96L239.23 580.23L242.34 580.50L245.45 580.78L248.56 581.06L251.68 581.36L254.79 581.66L257.90 581.97L261.02 582.29L264.13 582.61L267.24 582.95L270.36 583.29L273.47 583.63L276.58 583.99L279.70 584.35L282.81 584.72L285.92 585.10L289.04 585.48L292.15 585.87L295.26 586.27L298.38 586.67L301.49 587.08L304.60 587.50L307.72 587.92L310.83 588.35L313.94 588.79L317.06 589.23L320.17 589.68L323.28 590.14L326.40 590.60L329.51 591.07L332.62 591.55L335.74 592.03L338.85 592.51L341.96 593.01L345.08 593.51L348.19 594.01L351.30 594.52L354.42 595.04L357.53 595.56L360.64 596.08L363.76 596.62L366.87 597.15L369.98 597.69L373.10 598.24L376.21 598.79L379.32 599.35L382.44 599.91L385.55 600.48L388.66 601.05L391.78 601.63L394.89 602.21L398.00 602.80L401.12 603.39L404.23 603.98L407.34 604.58L410.46 605.18L413.57 605.79L416.68 606.40L419.80 607.02L422.91 607.64L426.02 608.26L429.14 608.89L432.25 609.52L435.36 610.15L438.48 610.79L441.59 611.43L444.70 612.07L447.82 612.72L450.93 613.37L454.04 614.03L457.15 614.68L460.27 615.34L463.38 616.00L466.49 616.67L469.61 617.34L472.72 618.01L475.83 618.68L478.95 619.36L482.06 620.04L485.17 620.72L488.29 621.40L491.40 622.09L494.51 622.78L497.63 623.47L500.74 624.16L503.85 624.85L506.97 625.55L510.08 626.24L513.19 626.94L516.31 627.65L519.42 628.35L522.53 629.05L525.65 629.76L528.76 630.47L531.87 631.17L534.99 631.88L538.10 632.59L541.21 633.31L544.33 634.02L547.44 634.74L550.55 635.45L553.67 636.17L556.78 636.88L559.89 637.60L563.01 638.32L566.12 639.04L569.23 639.76L572.35 640.48L575.46 641.20L578.57 641.93L581.69 642.65L584.80 643.37L587.91 644.09L591.03 644.82L594.14 645.54L597.25 646.26L600.37 646.99L603.48 647.71L606.59 648.43L609.71 649.16L612.82 649.88L615.93 650.61L619.05 651.33L622.16 652.05L625.27 652.78L628.39 653.50L631.50 654.22L634.61 654.94L637.73 655.66L640.84 656.38L643.95 657.10L647.07 657.82L650.18 658.54L653.29 659.26L656.41 659.98L659.52 660.70L662.63 661.41L665.74 662.13L668.86 662.84L671.97 663.56L675.08 664.27L678.20 664.98L681.31 665.69L684.42 666.40L687.54 667.11L690.65 667.82L693.76 668.53L696.88 669.23L699.99 669.94L703.10 670.64L706.22 671.34L709.33 672.04L712.44 672.74L715.56 673.44L718.67 674.14L721.78 674.83L724.90 675.53L728.01 676.22L731.12 676.91L734.24 677.60L737.35 678.29L740.46 678.98L743.58 679.66L746.69 680.35L749.80 681.03L752.92 681.71L756.03 682.39L759.14 683.06L762.26 683.74L765.37 684.41L768.48 685.09L771.60 685.76L774.71 686.43L777.82 687.09L780.94 687.76L784.05 688.42L787.16 689.08L790.28 689.74L793.39 690.40L796.50 691.06L799.62 691.71L802.73 692.36L805.84 693.02L808.96 693.66L812.07 694.31L815.18 694.96L818.30 695.60L821.41 696.24L824.52 696.88L827.64 697.52L830.75 698.15L833.86 698.78L836.98 699.42L840.09 700.04L843.20 700.67L846.32 701.30L849.43 701.92L852.54 702.54L855.66 703.16L858.77 703.78L861.88 704.39L864.99 705.00L868.11 705.61L871.22 706.22L874.33 706.83L877.45 707.43L880.56 708.04L883.67 708.64L886.79 709.23L889.90 709.83L893.01 710.42L896.13 711.01L899.24 711.60L902.35 712.19L905.47 712.78L908.58 713.36L911.69 713.94L914.81 714.52L917.92 715.10L921.03 715.67L924.15 716.24L927.26 716.81L930.37 717.38L933.49 717.95L936.60 718.51L939.71 719.07L942.83 719.63L945.94 720.19L949.05 720.74L952.17 721.30L955.28 721.85L958.39 722.40L961.51 722.94L964.62 723.49L967.73 724.03L970.85 724.57L973.96 725.11L977.07 725.64L980.19 726.18L983.30 726.71L986.41 727.24L989.53 727.77L992.64 728.29L995.75 728.81L998.87 729.33L1001.98 729.85L1005.09 730.37L1008.21 730.88L1011.32 731.40L1014.43 731.91L1017.55 732.41L1020.66 732.92L1023.77 733.42L1026.89 733.93L1030.00 734.43L1033.11 734.92L1036.23 735.42L1039.34 735.91L1042.45 736.40L1045.57 736.89L1048.68 737.38L1051.79 737.87L1054.91 738.35L1058.02 738.83L1061.13 739.31L1064.25 739.78L1067.36 740.26L1070.47 740.73L1073.58 741.20L1076.70 741.67L1079.81 742.14L1082.92 742.60L1086.04 743.07L1089.15 743.53L1092.26 743.99L1095.38 744.44L1098.49 744.90L1101.60 745.35L1104.72 745.80L1107.83 746.25L1110.94 746.70L1114.06 747.14L1117.17 747.58L1120.28 748.02L1123.40 748.46L1126.51 748.90L1129.62 749.34L1132.74 749.77L1135.85 750.20L1138.96 750.63L1142.08 751.06L1145.19 751.48L1148.30 751.91L1151.42 752.33L1154.53 752.75L1157.64 753.17L1160.76 753.58L1163.87 754.00L1166.98 754.41L1170.10 754.82L1173.21 755.23L1176.32 755.64L1179.44 756.04L1182.55 756.44L1185.66 756.85L1188.78 757.24L1191.89 757.64L1195.00 758.04L1198.12 758.43L1201.23 758.83L1204.34 759.22L1207.46 759.61L1210.57 759.99L1213.68 760.38L1216.80 760.76L1219.91 761.14L1223.02 761.52L1226.14 761.90L1229.25 762.28L1232.36 762.66L1235.48 763.03L1238.59 763.40L1241.70 763.77L1244.82 764.14L1247.93 764.51L1251.04 764.87L1254.16 765.23L1257.27 765.60L1260.38 765.96L1263.50 766.31L1266.61 766.67L1269.72 767.03L1272.84 767.38L1275.95 767.73L1279.06 768.08L1282.17 768.43L1285.29 768.78L1288.40 769.13L1291.51 769.47L1294.63 769.81L1297.74 770.15L1300.85 770.49L1303.97 770.83L1307.08 771.17L1310.19 771.50L1313.31 771.83L1316.42 772.17L1319.53 772.50L1322.65 772.83L1325.76 773.15L1328.87 773.48L1331.99 773.80L1335.10 774.13L1338.21 774.45L1341.33 774.77L1344.44 775.09L1347.55 775.40L1350.67 775.72L1353.78 776.03L1356.89 776.34L1360.01 776.66L1363.12 776.97L1366.23 777.27L1369.35 777.58L1372.46 777.89L1375.57 778.19L1378.69 778.49L1381.80 778.80"/><path d="M139.60 534.72L142.71 534.72L145.83 534.74L148.94 534.76L152.05 534.80L155.17 534.84L158.28 534.90L161.39 534.96L164.51 535.03L167.62 535.12L170.73 535.21L173.85 535.31L176.96 535.43L180.07 535.55L183.19 535.68L186.30 535.82L189.41 535.98L192.53 536.14L195.64 536.31L198.75 536.49L201.87 536.68L204.98 536.88L208.09 537.09L211.21 537.31L214.32 537.53L217.43 537.77L220.55 538.02L223.66 538.27L226.77 538.54L229.89 538.81L233.00 539.09L236.11 539.39L239.23 539.69L242.34 540.00L245.45 540.32L248.56 540.65L251.68 540.98L254.79 541.33L257.90 541.68L261.02 542.05L264.13 542.42L267.24 542.80L270.36 543.19L273.47 543.58L276.58 543.99L279.70 544.40L282.81 544.82L285.92 545.25L289.04 545.69L292.15 546.14L295.26 546.59L298.38 547.05L301.49 547.52L304.60 548.00L307.72 548.48L310.83 548.98L313.94 549.47L317.06 549.98L320.17 550.50L323.28 551.02L326.40 551.55L329.51 552.08L332.62 552.62L335.74 553.17L338.85 553.73L341.96 554.29L345.08 554.86L348.19 555.44L351.30 556.02L354.42 556.61L357.53 557.21L360.64 557.81L363.76 558.42L366.87 559.03L369.98 559.65L373.10 560.28L376.21 560.91L379.32 561.55L382.44 562.19L385.55 562.84L388.66 563.49L391.78 564.15L394.89 564.81L398.00 565.48L401.12 566.16L404.23 566.84L407.34 567.52L410.46 568.21L413.57 568.90L416.68 569.60L419.80 570.31L422.91 571.01L426.02 571.73L429.14 572.44L432.25 573.16L435.36 573.89L438.48 574.62L441.59 575.35L444.70 576.08L447.82 576.82L450.93 577.57L454.04 578.31L457.15 579.07L460.27 579.82L463.38 580.58L466.49 581.34L469.61 582.10L472.72 582.87L475.83 583.64L478.95 584.41L482.06 585.19L485.17 585.96L488.29 586.75L491.40 587.53L494.51 588.32L497.63 589.10L500.74 589.89L503.85 590.69L506.97 591.48L510.08 592.28L513.19 593.08L516.31 593.88L519.42 594.68L522.53 595.49L525.65 596.29L528.76 597.10L531.87 597.91L534.99 598.72L538.10 599.54L541.21 600.35L544.33 601.17L547.44 601.98L550.55 602.80L553.67 603.62L556.78 604.44L559.89 605.26L563.01 606.08L566.12 606.90L569.23 607.73L572.35 608.55L575.46 609.38L578.57 610.20L581.69 611.03L584.80 611.85L587.91 612.68L591.03 613.50L594.14 614.33L597.25 615.16L600.37 615.99L603.48 616.81L606.59 617.64L609.71 618.47L612.82 619.29L615.93 620.12L619.05 620.95L622.16 621.77L625.27 622.60L628.39 623.43L631.50 624.25L634.61 625.08L637.73 625.90L640.84 626.72L643.95 627.55L647.07 628.37L650.18 629.19L653.29 630.01L656.41 630.83L659.52 631.65L662.63 632.47L665.74 633.29L668.86 634.11L671.97 634.92L675.08 635.74L678.20 636.55L681.31 637.36L684.42 638.18L687.54 638.99L690.65 639.79L693.76 640.60L696.88 641.41L699.99 642.21L703.10 643.02L706.22 643.82L709.33 644.62L712.44 645.42L715.56 646.22L718.67 647.01L721.78 647.81L724.90 648.60L728.01 649.39L731.12 650.18L734.24 650.97L737.35 651.76L740.46 652.54L743.58 653.33L746.69 654.11L749.80 654.89L752.92 655.67L756.03 656.44L759.14 657.22L762.26 657.99L765.37 658.76L768.48 659.53L771.60 660.29L774.71 661.06L777.82 661.82L780.94 662.58L784.05 663.34L787.16 664.10L790.28 664.85L793.39 665.60L796.50 666.35L799.62 667.10L802.73 667.85L805.84 668.59L808.96 669.33L812.07 670.07L815.18 670.81L818.30 671.54L821.41 672.27L824.52 673.00L827.64 673.73L830.75 674.46L833.86 675.18L836.98 675.90L840.09 676.62L843.20 677.34L846.32 678.05L849.43 678.76L852.54 679.47L855.66 680.18L858.77 680.89L861.88 681.59L864.99 682.29L868.11 682.99L871.22 683.68L874.33 684.38L877.45 685.07L880.56 685.75L883.67 686.44L886.79 687.12L889.90 687.80L893.01 688.48L896.13 689.16L899.24 689.83L902.35 690.50L905.47 691.17L908.58 691.84L911.69 692.50L914.81 693.17L917.92 693.82L921.03 694.48L924.15 695.13L927.26 695.79L930.37 696.44L933.49 697.08L936.60 697.73L939.71 698.37L942.83 699.01L945.94 699.65L949.05 700.28L952.17 700.91L955.28 701.54L958.39 702.17L961.51 702.79L964.62 703.41L967.73 704.03L970.85 704.65L973.96 705.27L977.07 705.88L980.19 706.49L983.30 707.10L986.41 707.70L989.53 708.30L992.64 708.90L995.75 709.50L998.87 710.10L1001.98 710.69L1005.09 711.28L1008.21 711.87L1011.32 712.45L1014.43 713.04L1017.55 713.62L1020.66 714.19L1023.77 714.77L1026.89 715.34L1030.00 715.92L1033.11 716.48L1036.23 717.05L1039.34 717.61L1042.45 718.18L1045.57 718.73L1048.68 719.29L1051.79 719.85L1054.91 720.40L1058.02 720.95L1061.13 721.49L1064.25 722.04L1067.36 722.58L1070.47 723.12L1073.58 723.66L1076.70 724.20L1079.81 724.73L1082.92 725.26L1086.04 725.79L1089.15 726.32L1092.26 726.84L1095.38 727.36L1098.49 727.88L1101.60 728.40L1104.72 728.91L1107.83 729.43L1110.94 729.94L1114.06 730.45L1117.17 730.95L1120.28 731.46L1123.40 731.96L1126.51 732.46L1129.62 732.95L1132.74 733.45L1135.85 733.94L1138.96 734.43L1142.08 734.92L1145.19 735.41L1148.30 735.89L1151.42 736.37L1154.53 736.85L1157.64 737.33L1160.76 737.81L1163.87 738.28L1166.98 738.75L1170.10 739.22L1173.21 739.69L1176.32 740.15L1179.44 740.62L1182.55 741.08L1185.66 741.54L1188.78 741.99L1191.89 742.45L1195.00 742.90L1198.12 743.35L1201.23 743.80L1204.34 744.25L1207.46 744.69L1210.57 745.13L1213.68 745.58L1216.80 746.01L1219.91 746.45L1223.02 746.89L1226.14 747.32L1229.25 747.75L1232.36 748.18L1235.48 748.60L1238.59 749.03L1241.70 749.45L1244.82 749.87L1247.93 750.29L1251.04 750.71L1254.16 751.13L1257.27 751.54L1260.38 751.95L1263.50 752.36L1266.61 752.77L1269.72 753.17L1272.84 753.58L1275.95 753.98L1279.06 754.38L1282.17 754.78L1285.29 755.18L1288.40 755.57L1291.51 755.96L1294.63 756.36L1297.74 756.75L1300.85 757.13L1303.97 757.52L1307.08 757.90L1310.19 758.29L1313.31 758.67L1316.42 759.05L1319.53 759.42L1322.65 759.80L1325.76 760.17L1328.87 760.55L1331.99 760.92L1335.10 761.29L1338.21 761.65L1341.33 762.02L1344.44 762.38L1347.55 762.75L1350.67 763.11L1353.78 763.46L1356.89 763.82L1360.01 764.18L1363.12 764.53L1366.23 764.88L1369.35 765.24L1372.46 765.58L1375.57 765.93L1378.69 766.28L1381.80 766.62"/></g>
<g><path d="M139.60 775.98L140.93 779.92L145.24 779.92L141.75 782.35L143.08 786.29L139.60 783.86L136.12 786.29L137.45 782.35L133.96 779.92L138.27 779.92Z" fill="none" stroke="#111" stroke-width="1.3" stroke-linejoin="miter"/><path d="M164.44 776.06L165.78 780.00L170.08 780.00L166.60 782.43L167.93 786.37L164.44 783.94L160.96 786.37L162.29 782.43L158.81 780.00L163.11 780.00Z" fill="none" stroke="#111" stroke-width="1.3" stroke-linejoin="miter"/><path d="M189.29 776.29L190.62 780.23L194.93 780.23L191.44 782.67L192.77 786.60L189.29 784.17L185.80 786.60L187.13 782.67L183.65 780.23L187.96 780.23Z" fill="none" stroke="#111" stroke-width="1.3" stroke-linejoin="miter"/><path d="M214.13 776.68L215.46 780.62L219.77 780.62L216.29 783.05L217.62 786.99L214.13 784.56L210.65 786.99L211.98 783.05L208.49 780.62L212.80 780.62Z" fill="none" stroke="#111" stroke-width="1.3" stroke-linejoin="miter"/><path d="M238.98 777.22L240.31 781.15L244.61 781.15L241.13 783.59L242.46 787.53L238.98 785.09L235.49 787.53L236.82 783.59L233.34 781.15L237.64 781.15Z" fill="none" stroke="#111" stroke-width="1.3" stroke-linejoin="miter"/><path d="M263.82 777.89L265.15 781.83L269.46 781.83L265.97 784.27L267.30 788.21L263.82 785.77L260.34 788.21L261.67 784.27L258.18 781.83L262.49 781.83Z" fill="none" stroke="#111" stroke-width="1.3" stroke-linejoin="miter"/><path d="M288.66 778.71L290.00 782.65L294.30 782.65L290.82 785.08L292.15 789.02L288.66 786.59L285.18 789.02L286.51 785.08L283.03 782.65L287.33 782.65Z" fill="none" stroke="#111" stroke-width="1.3" stroke-linejoin="miter"/><path d="M313.51 779.65L314.84 783.59L319.15 783.59L315.66 786.02L316.99 789.96L313.51 787.53L310.02 789.96L311.35 786.02L307.87 783.59L312.18 783.59Z" fill="none" stroke="#111" stroke-width="1.3" stroke-linejoin="miter"/><path d="M338.35 780.71L339.68 784.65L343.99 784.65L340.51 787.08L341.84 791.02L338.35 788.59L334.87 791.02L336.20 787.08L332.71 784.65L337.02 784.65Z" fill="none" stroke="#111" stroke-width="1.3" stroke-linejoin="miter"/><path d="M363.20 781.88L364.53 785.82L368.83 785.82L365.35 788.25L366.68 792.19L363.20 789.75L359.71 792.19L361.04 788.25L357.56 785.82L361.86 785.82Z" fill="none" stroke="#111" stroke-width="1.3" stroke-linejoin="miter"/><path d="M388.04 783.14L389.37 787.08L393.68 787.08L390.19 789.51L391.52 793.45L388.04 791.02L384.56 793.45L385.89 789.51L382.40 787.08L386.71 787.08Z" fill="none" stroke="#111" stroke-width="1.3" stroke-linejoin="miter"/><path d="M412.88 784.49L414.22 788.43L418.52 788.43L415.04 790.86L416.37 794.80L412.88 792.37L409.40 794.80L410.73 790.86L407.25 788.43L411.55 788.43Z" fill="none" stroke="#111" stroke-width="1.3" stroke-linejoin="miter"/><path d="M437.73 785.91L439.06 789.85L443.37 789.85L439.88 792.28L441.21 796.22L437.73 793.79L434.24 796.22L435.57 792.28L432.09 789.85L436.40 789.85Z" fill="none" stroke="#111" stroke-width="1.3" stroke-linejoin="miter"/><path d="M462.57 787.39L463.90 791.33L468.21 791.33L464.73 793.77L466.06 797.71L462.57 795.27L459.09 797.71L460.42 793.77L456.93 791.33L461.24 791.33Z" fill="none" stroke="#111" stroke-width="1.3" stroke-linejoin="miter"/><path d="M487.42 788.93L488.75 792.87L493.05 792.87L489.57 795.30L490.90 799.24L487.42 796.81L483.93 799.24L485.26 795.30L481.78 792.87L486.08 792.87Z" fill="none" stroke="#111" stroke-width="1.3" stroke-linejoin="miter"/><path d="M512.26 790.51L513.59 794.45L517.90 794.45L514.41 796.88L515.74 800.82L512.26 798.39L508.78 800.82L510.11 796.88L506.62 794.45L510.93 794.45Z" fill="none" stroke="#111" stroke-width="1.3" stroke-linejoin="miter"/><path d="M537.10 792.12L538.44 796.06L542.74 796.06L539.26 798.49L540.59 802.43L537.10 800.00L533.62 802.43L534.95 798.49L531.47 796.06L535.77 796.06Z" fill="none" stroke="#111" stroke-width="1.3" stroke-linejoin="miter"/><path d="M561.95 793.75L563.28 797.69L567.59 797.69L564.10 800.12L565.43 804.06L561.95 801.63L558.46 804.06L559.79 800.12L556.31 797.69L560.62 797.69Z" fill="none" stroke="#111" stroke-width="1.3" stroke-linejoin="miter"/><path d="M586.79 795.40L588.12 799.33L592.43 799.33L588.95 801.77L590.28 805.71L586.79 803.27L583.31 805.71L584.64 801.77L581.15 799.33L585.46 799.33Z" fill="none" stroke="#111" stroke-width="1.3" stroke-linejoin="miter"/><path d="M611.64 797.04L612.97 800.98L617.27 800.98L613.79 803.42L615.12 807.36L611.64 804.92L608.15 807.36L609.48 803.42L606.00 800.98L610.30 800.98Z" fill="none" stroke="#111" stroke-width="1.3" stroke-linejoin="miter"/><path d="M636.48 798.69L637.81 802.63L642.12 802.63L638.63 805.07L639.96 809.00L636.48 806.57L633.00 809.00L634.33 805.07L630.84 802.63L635.15 802.63Z" fill="none" stroke="#111" stroke-width="1.3" stroke-linejoin="miter"/><path d="M661.32 800.33L662.66 804.27L666.96 804.27L663.48 806.70L664.81 810.64L661.32 808.21L657.84 810.64L659.17 806.70L655.69 804.27L659.99 804.27Z" fill="none" stroke="#111" stroke-width="1.3" stroke-linejoin="miter"/><path d="M686.17 801.96L687.50 805.90L691.81 805.90L688.32 808.33L689.65 812.27L686.17 809.83L682.68 812.27L684.01 808.33L680.53 805.90L684.84 805.90Z" fill="none" stroke="#111" stroke-width="1.3" stroke-linejoin="miter"/><path d="M711.01 803.56L712.34 807.50L716.65 807.50L713.17 809.94L714.50 813.87L711.01 811.44L707.53 813.87L708.86 809.94L705.37 807.50L709.68 807.50Z" fill="none" stroke="#111" stroke-width="1.3" stroke-linejoin="miter"/><path d="M735.86 805.15L737.19 809.08L741.49 809.08L738.01 811.52L739.34 815.46L735.86 813.02L732.37 815.46L733.70 811.52L730.22 809.08L734.52 809.08Z" fill="none" stroke="#111" stroke-width="1.3" stroke-linejoin="miter"/><path d="M760.70 806.70L762.03 810.64L766.34 810.64L762.85 813.07L764.18 817.01L760.70 814.58L757.22 817.01L758.55 813.07L755.06 810.64L759.37 810.64Z" fill="none" stroke="#111" stroke-width="1.3" stroke-linejoin="miter"/><path d="M785.54 808.23L786.88 812.16L791.18 812.16L787.70 814.60L789.03 818.54L785.54 816.10L782.06 818.54L783.39 814.60L779.91 812.16L784.21 812.16Z" fill="none" stroke="#111" stroke-width="1.3" stroke-linejoin="miter"/><path d="M810.39 809.72L811.72 813.66L816.03 813.66L812.54 816.09L813.87 820.03L810.39 817.60L806.90 820.03L808.23 816.09L804.75 813.66L809.06 813.66Z" fill="none" stroke="#111" stroke-width="1.3" stroke-linejoin="miter"/><path d="M835.23 811.17L836.56 815.11L840.87 815.11L837.39 817.55L838.72 821.49L835.23 819.05L831.75 821.49L833.08 817.55L829.59 815.11L833.90 815.11Z" fill="none" stroke="#111" stroke-width="1.3" stroke-linejoin="miter"/><path d="M860.08 812.60L861.41 816.53L865.71 816.53L862.23 818.97L863.56 822.91L860.08 820.47L856.59 822.91L857.92 818.97L854.44 816.53L858.74 816.53Z" fill="none" stroke="#111" stroke-width="1.3" stroke-linejoin="miter"/><path d="M884.92 813.98L886.25 817.92L890.56 817.92L887.07 820.35L888.40 824.29L884.92 821.86L881.44 824.29L882.77 820.35L879.28 817.92L883.59 817.92Z" fill="none" stroke="#111" stroke-width="1.3" stroke-linejoin="miter"/><path d="M909.76 815.32L911.10 819.26L915.40 819.26L911.92 821.70L913.25 825.63L909.76 823.20L906.28 825.63L907.61 821.70L904.13 819.26L908.43 819.26Z" fill="none" stroke="#111" stroke-width="1.3" stroke-linejoin="miter"/><path d="M934.61 816.63L935.94 820.57L940.25 820.57L936.76 823.00L938.09 826.94L934.61 824.51L931.12 826.94L932.45 823.00L928.97 820.57L933.28 820.57Z" fill="none" stroke="#111" stroke-width="1.3" stroke-linejoin="miter"/><path d="M959.45 817.90L960.78 821.83L965.09 821.83L961.61 824.27L962.94 828.21L959.45 825.77L955.97 828.21L957.30 824.27L953.81 821.83L958.12 821.83Z" fill="none" stroke="#111" stroke-width="1.3" stroke-linejoin="miter"/><path d="M984.30 819.12L985.63 823.06L989.93 823.06L986.45 825.50L987.78 829.43L984.30 827.00L980.81 829.43L982.14 825.50L978.66 823.06L982.96 823.06Z" fill="none" stroke="#111" stroke-width="1.3" stroke-linejoin="miter"/><path d="M1009.14 820.31L1010.47 824.25L1014.78 824.25L1011.29 826.68L1012.62 830.62L1009.14 828.19L1005.66 830.62L1006.99 826.68L1003.50 824.25L1007.81 824.25Z" fill="none" stroke="#111" stroke-width="1.3" stroke-linejoin="miter"/><path d="M1033.98 821.46L1035.32 825.40L1039.62 825.40L1036.14 827.83L1037.47 831.77L1033.98 829.34L1030.50 831.77L1031.83 827.83L1028.35 825.40L1032.65 825.40Z" fill="none" stroke="#111" stroke-width="1.3" stroke-linejoin="miter"/><path d="M1058.83 822.57L1060.16 826.51L1064.47 826.51L1060.98 828.95L1062.31 832.88L1058.83 830.45L1055.34 832.88L1056.67 828.95L1053.19 826.51L1057.50 826.51Z" fill="none" stroke="#111" stroke-width="1.3" stroke-linejoin="miter"/><path d="M1083.67 823.65L1085.00 827.59L1089.31 827.59L1085.83 830.02L1087.16 833.96L1083.67 831.52L1080.19 833.96L1081.52 830.02L1078.03 827.59L1082.34 827.59Z" fill="none" stroke="#111" stroke-width="1.3" stroke-linejoin="miter"/><path d="M1108.52 824.68L1109.85 828.62L1114.15 828.62L1110.67 831.06L1112.00 835.00L1108.52 832.56L1105.03 835.00L1106.36 831.06L1102.88 828.62L1107.18 828.62Z" fill="none" stroke="#111" stroke-width="1.3" stroke-linejoin="miter"/><path d="M1133.36 825.69L1134.69 829.63L1139.00 829.63L1135.51 832.06L1136.84 836.00L1133.36 833.56L1129.88 836.00L1131.21 832.06L1127.72 829.63L1132.03 829.63Z" fill="none" stroke="#111" stroke-width="1.3" stroke-linejoin="miter"/><path d="M1158.20 826.65L1159.54 830.59L1163.84 830.59L1160.36 833.03L1161.69 836.97L1158.20 834.53L1154.72 836.97L1156.05 833.03L1152.57 830.59L1156.87 830.59Z" fill="none" stroke="#111" stroke-width="1.3" stroke-linejoin="miter"/><path d="M1183.05 827.59L1184.38 831.53L1188.69 831.53L1185.20 833.96L1186.53 837.90L1183.05 835.47L1179.56 837.90L1180.89 833.96L1177.41 831.53L1181.72 831.53Z" fill="none" stroke="#111" stroke-width="1.3" stroke-linejoin="miter"/><path d="M1207.89 828.49L1209.22 832.43L1213.53 832.43L1210.05 834.86L1211.38 838.80L1207.89 836.37L1204.41 838.80L1205.74 834.86L1202.25 832.43L1206.56 832.43Z" fill="none" stroke="#111" stroke-width="1.3" stroke-linejoin="miter"/><path d="M1232.74 829.36L1234.07 833.30L1238.37 833.30L1234.89 835.73L1236.22 839.67L1232.74 837.23L1229.25 839.67L1230.58 835.73L1227.10 833.30L1231.40 833.30Z" fill="none" stroke="#111" stroke-width="1.3" stroke-linejoin="miter"/><path d="M1257.58 830.19L1258.91 834.13L1263.22 834.13L1259.73 836.57L1261.06 840.51L1257.58 838.07L1254.10 840.51L1255.43 836.57L1251.94 834.13L1256.25 834.13Z" fill="none" stroke="#111" stroke-width="1.3" stroke-linejoin="miter"/><path d="M1282.42 831.00L1283.76 834.94L1288.06 834.94L1284.58 837.38L1285.91 841.31L1282.42 838.88L1278.94 841.31L1280.27 837.38L1276.79 834.94L1281.09 834.94Z" fill="none" stroke="#111" stroke-width="1.3" stroke-linejoin="miter"/><path d="M1307.27 831.78L1308.60 835.72L1312.91 835.72L1309.42 838.15L1310.75 842.09L1307.27 839.66L1303.78 842.09L1305.11 838.15L1301.63 835.72L1305.94 835.72Z" fill="none" stroke="#111" stroke-width="1.3" stroke-linejoin="miter"/><path d="M1332.11 832.53L1333.44 836.47L1337.75 836.47L1334.27 838.91L1335.60 842.84L1332.11 840.41L1328.63 842.84L1329.96 838.91L1326.47 836.47L1330.78 836.47Z" fill="none" stroke="#111" stroke-width="1.3" stroke-linejoin="miter"/><path d="M1356.96 833.26L1358.29 837.20L1362.59 837.20L1359.11 839.63L1360.44 843.57L1356.96 841.13L1353.47 843.57L1354.80 839.63L1351.32 837.20L1355.62 837.20Z" fill="none" stroke="#111" stroke-width="1.3" stroke-linejoin="miter"/><path d="M1381.80 833.96L1383.13 837.89L1387.44 837.89L1383.95 840.33L1385.28 844.27L1381.80 841.83L1378.32 844.27L1379.65 840.33L1376.16 837.89L1380.47 837.89Z" fill="none" stroke="#111" stroke-width="1.3" stroke-linejoin="miter"/><ellipse cx="139.60" cy="740.52" rx="5.6" ry="5.55" fill="none" stroke="#111" stroke-width="1.3" stroke-linejoin="miter"/><ellipse cx="164.44" cy="740.64" rx="5.6" ry="5.55" fill="none" stroke="#111" stroke-width="1.3" stroke-linejoin="miter"/><ellipse cx="189.29" cy="740.99" rx="5.6" ry="5.55" fill="none" stroke="#111" stroke-width="1.3" stroke-linejoin="miter"/><ellipse cx="214.13" cy="741.57" rx="5.6" ry="5.55" fill="none" stroke="#111" stroke-width="1.3" stroke-linejoin="miter"/><ellipse cx="238.98" cy="742.37" rx="5.6" ry="5.55" fill="none" stroke="#111" stroke-width="1.3" stroke-linejoin="miter"/><ellipse cx="263.82" cy="743.39" rx="5.6" ry="5.55" fill="none" stroke="#111" stroke-width="1.3" stroke-linejoin="miter"/><ellipse cx="288.66" cy="744.61" rx="5.6" ry="5.55" fill="none" stroke="#111" stroke-width="1.3" stroke-linejoin="miter"/><ellipse cx="313.51" cy="746.03" rx="5.6" ry="5.55" fill="none" stroke="#111" stroke-width="1.3" stroke-linejoin="miter"/><ellipse cx="338.35" cy="747.62" rx="5.6" ry="5.55" fill="none" stroke="#111" stroke-width="1.3" stroke-linejoin="miter"/><ellipse cx="363.20" cy="749.37" rx="5.6" ry="5.55" fill="none" stroke="#111" stroke-width="1.3" stroke-linejoin="miter"/><ellipse cx="388.04" cy="751.26" rx="5.6" ry="5.55" fill="none" stroke="#111" stroke-width="1.3" stroke-linejoin="miter"/><ellipse cx="412.88" cy="753.28" rx="5.6" ry="5.55" fill="none" stroke="#111" stroke-width="1.3" stroke-linejoin="miter"/><ellipse cx="437.73" cy="755.42" rx="5.6" ry="5.55" fill="none" stroke="#111" stroke-width="1.3" stroke-linejoin="miter"/><ellipse cx="462.57" cy="757.64" rx="5.6" ry="5.55" fill="none" stroke="#111" stroke-width="1.3" stroke-linejoin="miter"/><ellipse cx="487.42" cy="759.95" rx="5.6" ry="5.55" fill="none" stroke="#111" stroke-width="1.3" stroke-linejoin="miter"/><ellipse cx="512.26" cy="762.31" rx="5.6" ry="5.55" fill="none" stroke="#111" stroke-width="1.3" stroke-linejoin="miter"/><ellipse cx="537.10" cy="764.73" rx="5.6" ry="5.55" fill="none" stroke="#111" stroke-width="1.3" stroke-linejoin="miter"/><ellipse cx="561.95" cy="767.18" rx="5.6" ry="5.55" fill="none" stroke="#111" stroke-width="1.3" stroke-linejoin="miter"/><ellipse cx="586.79" cy="769.64" rx="5.6" ry="5.55" fill="none" stroke="#111" stroke-width="1.3" stroke-linejoin="miter"/><ellipse cx="611.64" cy="772.12" rx="5.6" ry="5.55" fill="none" stroke="#111" stroke-width="1.3" stroke-linejoin="miter"/><ellipse cx="636.48" cy="774.59" rx="5.6" ry="5.55" fill="none" stroke="#111" stroke-width="1.3" stroke-linejoin="miter"/><ellipse cx="661.32" cy="777.05" rx="5.6" ry="5.55" fill="none" stroke="#111" stroke-width="1.3" stroke-linejoin="miter"/><ellipse cx="686.17" cy="779.49" rx="5.6" ry="5.55" fill="none" stroke="#111" stroke-width="1.3" stroke-linejoin="miter"/><ellipse cx="711.01" cy="781.89" rx="5.6" ry="5.55" fill="none" stroke="#111" stroke-width="1.3" stroke-linejoin="miter"/><ellipse cx="735.86" cy="784.27" rx="5.6" ry="5.55" fill="none" stroke="#111" stroke-width="1.3" stroke-linejoin="miter"/><ellipse cx="760.70" cy="786.60" rx="5.6" ry="5.55" fill="none" stroke="#111" stroke-width="1.3" stroke-linejoin="miter"/><ellipse cx="785.54" cy="788.89" rx="5.6" ry="5.55" fill="none" stroke="#111" stroke-width="1.3" stroke-linejoin="miter"/><ellipse cx="810.39" cy="791.13" rx="5.6" ry="5.55" fill="none" stroke="#111" stroke-width="1.3" stroke-linejoin="miter"/><ellipse cx="835.23" cy="793.31" rx="5.6" ry="5.55" fill="none" stroke="#111" stroke-width="1.3" stroke-linejoin="miter"/><ellipse cx="860.08" cy="795.44" rx="5.6" ry="5.55" fill="none" stroke="#111" stroke-width="1.3" stroke-linejoin="miter"/><ellipse cx="884.92" cy="797.52" rx="5.6" ry="5.55" fill="none" stroke="#111" stroke-width="1.3" stroke-linejoin="miter"/><ellipse cx="909.76" cy="799.53" rx="5.6" ry="5.55" fill="none" stroke="#111" stroke-width="1.3" stroke-linejoin="miter"/><ellipse cx="934.61" cy="801.49" rx="5.6" ry="5.55" fill="none" stroke="#111" stroke-width="1.3" stroke-linejoin="miter"/><ellipse cx="959.45" cy="803.39" rx="5.6" ry="5.55" fill="none" stroke="#111" stroke-width="1.3" stroke-linejoin="miter"/><ellipse cx="984.30" cy="805.23" rx="5.6" ry="5.55" fill="none" stroke="#111" stroke-width="1.3" stroke-linejoin="miter"/><ellipse cx="1009.14" cy="807.02" rx="5.6" ry="5.55" fill="none" stroke="#111" stroke-width="1.3" stroke-linejoin="miter"/><ellipse cx="1033.98" cy="808.74" rx="5.6" ry="5.55" fill="none" stroke="#111" stroke-width="1.3" stroke-linejoin="miter"/><ellipse cx="1058.83" cy="810.41" rx="5.6" ry="5.55" fill="none" stroke="#111" stroke-width="1.3" stroke-linejoin="miter"/><ellipse cx="1083.67" cy="812.02" rx="5.6" ry="5.55" fill="none" stroke="#111" stroke-width="1.3" stroke-linejoin="miter"/><ellipse cx="1108.52" cy="813.58" rx="5.6" ry="5.55" fill="none" stroke="#111" stroke-width="1.3" stroke-linejoin="miter"/><ellipse cx="1133.36" cy="815.08" rx="5.6" ry="5.55" fill="none" stroke="#111" stroke-width="1.3" stroke-linejoin="miter"/><ellipse cx="1158.20" cy="816.53" rx="5.6" ry="5.55" fill="none" stroke="#111" stroke-width="1.3" stroke-linejoin="miter"/><ellipse cx="1183.05" cy="817.93" rx="5.6" ry="5.55" fill="none" stroke="#111" stroke-width="1.3" stroke-linejoin="miter"/><ellipse cx="1207.89" cy="819.28" rx="5.6" ry="5.55" fill="none" stroke="#111" stroke-width="1.3" stroke-linejoin="miter"/><ellipse cx="1232.74" cy="820.59" rx="5.6" ry="5.55" fill="none" stroke="#111" stroke-width="1.3" stroke-linejoin="miter"/><ellipse cx="1257.58" cy="821.84" rx="5.6" ry="5.55" fill="none" stroke="#111" stroke-width="1.3" stroke-linejoin="miter"/><ellipse cx="1282.42" cy="823.05" rx="5.6" ry="5.55" fill="none" stroke="#111" stroke-width="1.3" stroke-linejoin="miter"/><ellipse cx="1307.27" cy="824.22" rx="5.6" ry="5.55" fill="none" stroke="#111" stroke-width="1.3" stroke-linejoin="miter"/><ellipse cx="1332.11" cy="825.35" rx="5.6" ry="5.55" fill="none" stroke="#111" stroke-width="1.3" stroke-linejoin="miter"/><ellipse cx="1356.96" cy="826.44" rx="5.6" ry="5.55" fill="none" stroke="#111" stroke-width="1.3" stroke-linejoin="miter"/><ellipse cx="1381.80" cy="827.48" rx="5.6" ry="5.55" fill="none" stroke="#111" stroke-width="1.3" stroke-linejoin="miter"/><path d="M133.30 703.41L145.90 703.41L139.60 692.46Z" fill="none" stroke="#111" stroke-width="1.3" stroke-linejoin="miter"/><path d="M158.14 703.57L170.74 703.57L164.44 692.62Z" fill="none" stroke="#111" stroke-width="1.3" stroke-linejoin="miter"/><path d="M182.99 704.03L195.59 704.03L189.29 693.08Z" fill="none" stroke="#111" stroke-width="1.3" stroke-linejoin="miter"/><path d="M207.83 704.81L220.43 704.81L214.13 693.86Z" fill="none" stroke="#111" stroke-width="1.3" stroke-linejoin="miter"/><path d="M232.68 705.88L245.28 705.88L238.98 694.93Z" fill="none" stroke="#111" stroke-width="1.3" stroke-linejoin="miter"/><path d="M257.52 707.24L270.12 707.24L263.82 696.29Z" fill="none" stroke="#111" stroke-width="1.3" stroke-linejoin="miter"/><path d="M282.36 708.87L294.96 708.87L288.66 697.92Z" fill="none" stroke="#111" stroke-width="1.3" stroke-linejoin="miter"/><path d="M307.21 710.75L319.81 710.75L313.51 699.80Z" fill="none" stroke="#111" stroke-width="1.3" stroke-linejoin="miter"/><path d="M332.05 712.87L344.65 712.87L338.35 701.92Z" fill="none" stroke="#111" stroke-width="1.3" stroke-linejoin="miter"/><path d="M356.90 715.20L369.50 715.20L363.20 704.25Z" fill="none" stroke="#111" stroke-width="1.3" stroke-linejoin="miter"/><path d="M381.74 717.73L394.34 717.73L388.04 706.78Z" fill="none" stroke="#111" stroke-width="1.3" stroke-linejoin="miter"/><path d="M406.58 720.43L419.18 720.43L412.88 709.48Z" fill="none" stroke="#111" stroke-width="1.3" stroke-linejoin="miter"/><path d="M431.43 723.27L444.03 723.27L437.73 712.32Z" fill="none" stroke="#111" stroke-width="1.3" stroke-linejoin="miter"/><path d="M456.27 726.24L468.87 726.24L462.57 715.29Z" fill="none" stroke="#111" stroke-width="1.3" stroke-linejoin="miter"/><path d="M481.12 729.31L493.72 729.31L487.42 718.36Z" fill="none" stroke="#111" stroke-width="1.3" stroke-linejoin="miter"/><path d="M505.96 732.47L518.56 732.47L512.26 721.52Z" fill="none" stroke="#111" stroke-width="1.3" stroke-linejoin="miter"/><path d="M530.80 735.69L543.40 735.69L537.10 724.74Z" fill="none" stroke="#111" stroke-width="1.3" stroke-linejoin="miter"/><path d="M555.65 738.95L568.25 738.95L561.95 728.00Z" fill="none" stroke="#111" stroke-width="1.3" stroke-linejoin="miter"/><path d="M580.49 742.24L593.09 742.24L586.79 731.29Z" fill="none" stroke="#111" stroke-width="1.3" stroke-linejoin="miter"/><path d="M605.34 745.54L617.94 745.54L611.64 734.59Z" fill="none" stroke="#111" stroke-width="1.3" stroke-linejoin="miter"/><path d="M630.18 748.84L642.78 748.84L636.48 737.89Z" fill="none" stroke="#111" stroke-width="1.3" stroke-linejoin="miter"/><path d="M655.02 752.11L667.62 752.11L661.32 741.16Z" fill="none" stroke="#111" stroke-width="1.3" stroke-linejoin="miter"/><path d="M679.87 755.36L692.47 755.36L686.17 744.41Z" fill="none" stroke="#111" stroke-width="1.3" stroke-linejoin="miter"/><path d="M704.71 758.58L717.31 758.58L711.01 747.63Z" fill="none" stroke="#111" stroke-width="1.3" stroke-linejoin="miter"/><path d="M729.56 761.74L742.16 761.74L735.86 750.79Z" fill="none" stroke="#111" stroke-width="1.3" stroke-linejoin="miter"/><path d="M754.40 764.85L767.00 764.85L760.70 753.90Z" fill="none" stroke="#111" stroke-width="1.3" stroke-linejoin="miter"/><path d="M779.24 767.90L791.84 767.90L785.54 756.95Z" fill="none" stroke="#111" stroke-width="1.3" stroke-linejoin="miter"/><path d="M804.09 770.89L816.69 770.89L810.39 759.94Z" fill="none" stroke="#111" stroke-width="1.3" stroke-linejoin="miter"/><path d="M828.93 773.80L841.53 773.80L835.23 762.85Z" fill="none" stroke="#111" stroke-width="1.3" stroke-linejoin="miter"/><path d="M853.78 776.64L866.38 776.64L860.08 765.69Z" fill="none" stroke="#111" stroke-width="1.3" stroke-linejoin="miter"/><path d="M878.62 779.41L891.22 779.41L884.92 768.46Z" fill="none" stroke="#111" stroke-width="1.3" stroke-linejoin="miter"/><path d="M903.46 782.10L916.06 782.10L909.76 771.15Z" fill="none" stroke="#111" stroke-width="1.3" stroke-linejoin="miter"/><path d="M928.31 784.71L940.91 784.71L934.61 773.76Z" fill="none" stroke="#111" stroke-width="1.3" stroke-linejoin="miter"/><path d="M953.15 787.24L965.75 787.24L959.45 776.29Z" fill="none" stroke="#111" stroke-width="1.3" stroke-linejoin="miter"/><path d="M978.00 789.69L990.60 789.69L984.30 778.74Z" fill="none" stroke="#111" stroke-width="1.3" stroke-linejoin="miter"/><path d="M1002.84 792.07L1015.44 792.07L1009.14 781.12Z" fill="none" stroke="#111" stroke-width="1.3" stroke-linejoin="miter"/><path d="M1027.68 794.37L1040.28 794.37L1033.98 783.42Z" fill="none" stroke="#111" stroke-width="1.3" stroke-linejoin="miter"/><path d="M1052.53 796.60L1065.13 796.60L1058.83 785.65Z" fill="none" stroke="#111" stroke-width="1.3" stroke-linejoin="miter"/><path d="M1077.37 798.74L1089.97 798.74L1083.67 787.79Z" fill="none" stroke="#111" stroke-width="1.3" stroke-linejoin="miter"/><path d="M1102.22 800.82L1114.82 800.82L1108.52 789.87Z" fill="none" stroke="#111" stroke-width="1.3" stroke-linejoin="miter"/><path d="M1127.06 802.82L1139.66 802.82L1133.36 791.87Z" fill="none" stroke="#111" stroke-width="1.3" stroke-linejoin="miter"/><path d="M1151.90 804.76L1164.50 804.76L1158.20 793.81Z" fill="none" stroke="#111" stroke-width="1.3" stroke-linejoin="miter"/><path d="M1176.75 806.63L1189.35 806.63L1183.05 795.68Z" fill="none" stroke="#111" stroke-width="1.3" stroke-linejoin="miter"/><path d="M1201.59 808.43L1214.19 808.43L1207.89 797.48Z" fill="none" stroke="#111" stroke-width="1.3" stroke-linejoin="miter"/><path d="M1226.44 810.16L1239.04 810.16L1232.74 799.21Z" fill="none" stroke="#111" stroke-width="1.3" stroke-linejoin="miter"/><path d="M1251.28 811.84L1263.88 811.84L1257.58 800.89Z" fill="none" stroke="#111" stroke-width="1.3" stroke-linejoin="miter"/><path d="M1276.12 813.46L1288.72 813.46L1282.42 802.51Z" fill="none" stroke="#111" stroke-width="1.3" stroke-linejoin="miter"/><path d="M1300.97 815.01L1313.57 815.01L1307.27 804.06Z" fill="none" stroke="#111" stroke-width="1.3" stroke-linejoin="miter"/><path d="M1325.81 816.52L1338.41 816.52L1332.11 805.57Z" fill="none" stroke="#111" stroke-width="1.3" stroke-linejoin="miter"/><path d="M1350.66 817.96L1363.26 817.96L1356.96 807.01Z" fill="none" stroke="#111" stroke-width="1.3" stroke-linejoin="miter"/><path d="M1375.50 819.36L1388.10 819.36L1381.80 808.41Z" fill="none" stroke="#111" stroke-width="1.3" stroke-linejoin="miter"/><path d="M133.30 654.60L145.90 654.60L139.60 665.60Z" fill="none" stroke="#111" stroke-width="1.3" stroke-linejoin="miter"/><path d="M158.14 654.80L170.74 654.80L164.44 665.80Z" fill="none" stroke="#111" stroke-width="1.3" stroke-linejoin="miter"/><path d="M182.99 655.38L195.59 655.38L189.29 666.38Z" fill="none" stroke="#111" stroke-width="1.3" stroke-linejoin="miter"/><path d="M207.83 656.35L220.43 656.35L214.13 667.35Z" fill="none" stroke="#111" stroke-width="1.3" stroke-linejoin="miter"/><path d="M232.68 657.69L245.28 657.69L238.98 668.69Z" fill="none" stroke="#111" stroke-width="1.3" stroke-linejoin="miter"/><path d="M257.52 659.39L270.12 659.39L263.82 670.39Z" fill="none" stroke="#111" stroke-width="1.3" stroke-linejoin="miter"/><path d="M282.36 661.42L294.96 661.42L288.66 672.42Z" fill="none" stroke="#111" stroke-width="1.3" stroke-linejoin="miter"/><path d="M307.21 663.78L319.81 663.78L313.51 674.78Z" fill="none" stroke="#111" stroke-width="1.3" stroke-linejoin="miter"/><path d="M332.05 666.43L344.65 666.43L338.35 677.43Z" fill="none" stroke="#111" stroke-width="1.3" stroke-linejoin="miter"/><path d="M356.90 669.34L369.50 669.34L363.20 680.34Z" fill="none" stroke="#111" stroke-width="1.3" stroke-linejoin="miter"/><path d="M381.74 672.50L394.34 672.50L388.04 683.50Z" fill="none" stroke="#111" stroke-width="1.3" stroke-linejoin="miter"/><path d="M406.58 675.87L419.18 675.87L412.88 686.87Z" fill="none" stroke="#111" stroke-width="1.3" stroke-linejoin="miter"/><path d="M431.43 679.43L444.03 679.43L437.73 690.43Z" fill="none" stroke="#111" stroke-width="1.3" stroke-linejoin="miter"/><path d="M456.27 683.14L468.87 683.14L462.57 694.14Z" fill="none" stroke="#111" stroke-width="1.3" stroke-linejoin="miter"/><path d="M481.12 686.98L493.72 686.98L487.42 697.98Z" fill="none" stroke="#111" stroke-width="1.3" stroke-linejoin="miter"/><path d="M505.96 690.92L518.56 690.92L512.26 701.92Z" fill="none" stroke="#111" stroke-width="1.3" stroke-linejoin="miter"/><path d="M530.80 694.95L543.40 694.95L537.10 705.95Z" fill="none" stroke="#111" stroke-width="1.3" stroke-linejoin="miter"/><path d="M555.65 699.03L568.25 699.03L561.95 710.03Z" fill="none" stroke="#111" stroke-width="1.3" stroke-linejoin="miter"/><path d="M580.49 703.14L593.09 703.14L586.79 714.14Z" fill="none" stroke="#111" stroke-width="1.3" stroke-linejoin="miter"/><path d="M605.34 707.26L617.94 707.26L611.64 718.26Z" fill="none" stroke="#111" stroke-width="1.3" stroke-linejoin="miter"/><path d="M630.18 711.38L642.78 711.38L636.48 722.38Z" fill="none" stroke="#111" stroke-width="1.3" stroke-linejoin="miter"/><path d="M655.02 715.48L667.62 715.48L661.32 726.48Z" fill="none" stroke="#111" stroke-width="1.3" stroke-linejoin="miter"/><path d="M679.87 719.54L692.47 719.54L686.17 730.54Z" fill="none" stroke="#111" stroke-width="1.3" stroke-linejoin="miter"/><path d="M704.71 723.56L717.31 723.56L711.01 734.56Z" fill="none" stroke="#111" stroke-width="1.3" stroke-linejoin="miter"/><path d="M729.56 727.51L742.16 727.51L735.86 738.51Z" fill="none" stroke="#111" stroke-width="1.3" stroke-linejoin="miter"/><path d="M754.40 731.40L767.00 731.40L760.70 742.40Z" fill="none" stroke="#111" stroke-width="1.3" stroke-linejoin="miter"/><path d="M779.24 735.21L791.84 735.21L785.54 746.21Z" fill="none" stroke="#111" stroke-width="1.3" stroke-linejoin="miter"/><path d="M804.09 738.94L816.69 738.94L810.39 749.94Z" fill="none" stroke="#111" stroke-width="1.3" stroke-linejoin="miter"/><path d="M828.93 742.59L841.53 742.59L835.23 753.59Z" fill="none" stroke="#111" stroke-width="1.3" stroke-linejoin="miter"/><path d="M853.78 746.14L866.38 746.14L860.08 757.14Z" fill="none" stroke="#111" stroke-width="1.3" stroke-linejoin="miter"/><path d="M878.62 749.60L891.22 749.60L884.92 760.60Z" fill="none" stroke="#111" stroke-width="1.3" stroke-linejoin="miter"/><path d="M903.46 752.96L916.06 752.96L909.76 763.96Z" fill="none" stroke="#111" stroke-width="1.3" stroke-linejoin="miter"/><path d="M928.31 756.22L940.91 756.22L934.61 767.22Z" fill="none" stroke="#111" stroke-width="1.3" stroke-linejoin="miter"/><path d="M953.15 759.39L965.75 759.39L959.45 770.39Z" fill="none" stroke="#111" stroke-width="1.3" stroke-linejoin="miter"/><path d="M978.00 762.46L990.60 762.46L984.30 773.46Z" fill="none" stroke="#111" stroke-width="1.3" stroke-linejoin="miter"/><path d="M1002.84 765.43L1015.44 765.43L1009.14 776.43Z" fill="none" stroke="#111" stroke-width="1.3" stroke-linejoin="miter"/><path d="M1027.68 768.30L1040.28 768.30L1033.98 779.30Z" fill="none" stroke="#111" stroke-width="1.3" stroke-linejoin="miter"/><path d="M1052.53 771.08L1065.13 771.08L1058.83 782.08Z" fill="none" stroke="#111" stroke-width="1.3" stroke-linejoin="miter"/><path d="M1077.37 773.77L1089.97 773.77L1083.67 784.77Z" fill="none" stroke="#111" stroke-width="1.3" stroke-linejoin="miter"/><path d="M1102.22 776.36L1114.82 776.36L1108.52 787.36Z" fill="none" stroke="#111" stroke-width="1.3" stroke-linejoin="miter"/><path d="M1127.06 778.87L1139.66 778.87L1133.36 789.87Z" fill="none" stroke="#111" stroke-width="1.3" stroke-linejoin="miter"/><path d="M1151.90 781.29L1164.50 781.29L1158.20 792.29Z" fill="none" stroke="#111" stroke-width="1.3" stroke-linejoin="miter"/><path d="M1176.75 783.62L1189.35 783.62L1183.05 794.62Z" fill="none" stroke="#111" stroke-width="1.3" stroke-linejoin="miter"/><path d="M1201.59 785.87L1214.19 785.87L1207.89 796.87Z" fill="none" stroke="#111" stroke-width="1.3" stroke-linejoin="miter"/><path d="M1226.44 788.04L1239.04 788.04L1232.74 799.04Z" fill="none" stroke="#111" stroke-width="1.3" stroke-linejoin="miter"/><path d="M1251.28 790.14L1263.88 790.14L1257.58 801.14Z" fill="none" stroke="#111" stroke-width="1.3" stroke-linejoin="miter"/><path d="M1276.12 792.16L1288.72 792.16L1282.42 803.16Z" fill="none" stroke="#111" stroke-width="1.3" stroke-linejoin="miter"/><path d="M1300.97 794.10L1313.57 794.10L1307.27 805.10Z" fill="none" stroke="#111" stroke-width="1.3" stroke-linejoin="miter"/><path d="M1325.81 795.98L1338.41 795.98L1332.11 806.98Z" fill="none" stroke="#111" stroke-width="1.3" stroke-linejoin="miter"/><path d="M1350.66 797.79L1363.26 797.79L1356.96 808.79Z" fill="none" stroke="#111" stroke-width="1.3" stroke-linejoin="miter"/><path d="M1375.50 799.54L1388.10 799.54L1381.80 810.54Z" fill="none" stroke="#111" stroke-width="1.3" stroke-linejoin="miter"/><path d="M139.60 611.24L141.31 614.14L144.72 614.14L143.01 617.04L144.72 619.94L141.31 619.94L139.60 622.84L137.89 619.94L134.48 619.94L136.19 617.04L134.48 614.14L137.89 614.14Z" fill="none" stroke="#111" stroke-width="1.3" stroke-linejoin="miter"/><path d="M164.44 611.48L166.15 614.38L169.57 614.38L167.86 617.28L169.57 620.18L166.15 620.17L164.44 623.08L162.74 620.17L159.32 620.18L161.03 617.28L159.32 614.38L162.74 614.38Z" fill="none" stroke="#111" stroke-width="1.3" stroke-linejoin="miter"/><path d="M189.29 612.18L190.99 615.08L194.41 615.08L192.70 617.98L194.41 620.88L190.99 620.88L189.29 623.78L187.58 620.88L184.16 620.88L185.87 617.98L184.16 615.08L187.58 615.08Z" fill="none" stroke="#111" stroke-width="1.3" stroke-linejoin="miter"/><path d="M214.13 613.34L215.84 616.24L219.26 616.24L217.55 619.14L219.26 622.04L215.84 622.04L214.13 624.94L212.43 622.04L209.01 622.04L210.72 619.14L209.01 616.24L212.43 616.24Z" fill="none" stroke="#111" stroke-width="1.3" stroke-linejoin="miter"/><path d="M238.98 614.95L240.68 617.85L244.10 617.85L242.39 620.75L244.10 623.65L240.68 623.65L238.98 626.55L237.27 623.65L233.85 623.65L235.56 620.75L233.85 617.85L237.27 617.85Z" fill="none" stroke="#111" stroke-width="1.3" stroke-linejoin="miter"/><path d="M263.82 616.98L265.53 619.89L268.94 619.88L267.23 622.78L268.94 625.68L265.53 625.68L263.82 628.58L262.11 625.68L258.70 625.68L260.41 622.78L258.70 619.88L262.11 619.89Z" fill="none" stroke="#111" stroke-width="1.3" stroke-linejoin="miter"/><path d="M288.66 619.43L290.37 622.33L293.79 622.33L292.08 625.23L293.79 628.13L290.37 628.13L288.66 631.03L286.96 628.13L283.54 628.13L285.25 625.23L283.54 622.33L286.96 622.33Z" fill="none" stroke="#111" stroke-width="1.3" stroke-linejoin="miter"/><path d="M313.51 622.25L315.21 625.16L318.63 625.15L316.92 628.05L318.63 630.95L315.21 630.95L313.51 633.85L311.80 630.95L308.38 630.95L310.09 628.05L308.38 625.15L311.80 625.16Z" fill="none" stroke="#111" stroke-width="1.3" stroke-linejoin="miter"/><path d="M338.35 625.43L340.06 628.33L343.48 628.33L341.77 631.23L343.48 634.13L340.06 634.13L338.35 637.03L336.65 634.13L333.23 634.13L334.94 631.23L333.23 628.33L336.65 628.33Z" fill="none" stroke="#111" stroke-width="1.3" stroke-linejoin="miter"/><path d="M363.20 628.93L364.90 631.83L368.32 631.83L366.61 634.73L368.32 637.63L364.90 637.63L363.20 640.53L361.49 637.63L358.07 637.63L359.78 634.73L358.07 631.83L361.49 631.83Z" fill="none" stroke="#111" stroke-width="1.3" stroke-linejoin="miter"/><path d="M388.04 632.72L389.75 635.62L393.16 635.62L391.45 638.52L393.16 641.42L389.75 641.42L388.04 644.32L386.33 641.42L382.92 641.42L384.63 638.52L382.92 635.62L386.33 635.62Z" fill="none" stroke="#111" stroke-width="1.3" stroke-linejoin="miter"/><path d="M412.88 636.76L414.59 639.67L418.01 639.66L416.30 642.56L418.01 645.46L414.59 645.46L412.88 648.36L411.18 645.46L407.76 645.46L409.47 642.56L407.76 639.66L411.18 639.67Z" fill="none" stroke="#111" stroke-width="1.3" stroke-linejoin="miter"/><path d="M437.73 641.03L439.43 643.93L442.85 643.93L441.14 646.83L442.85 649.73L439.43 649.73L437.73 652.63L436.02 649.73L432.60 649.73L434.31 646.83L432.60 643.93L436.02 643.93Z" fill="none" stroke="#111" stroke-width="1.3" stroke-linejoin="miter"/><path d="M462.57 645.48L464.28 648.39L467.70 648.38L465.99 651.28L467.70 654.18L464.28 654.18L462.57 657.08L460.87 654.18L457.45 654.18L459.16 651.28L457.45 648.38L460.87 648.39Z" fill="none" stroke="#111" stroke-width="1.3" stroke-linejoin="miter"/><path d="M487.42 650.10L489.12 653.00L492.54 653.00L490.83 655.90L492.54 658.80L489.12 658.79L487.42 661.70L485.71 658.79L482.29 658.80L484.00 655.90L482.29 653.00L485.71 653.00Z" fill="none" stroke="#111" stroke-width="1.3" stroke-linejoin="miter"/><path d="M512.26 654.83L513.97 657.73L517.38 657.73L515.67 660.63L517.38 663.53L513.97 663.53L512.26 666.43L510.55 663.53L507.14 663.53L508.85 660.63L507.14 657.73L510.55 657.73Z" fill="none" stroke="#111" stroke-width="1.3" stroke-linejoin="miter"/><path d="M537.10 659.66L538.81 662.56L542.23 662.56L540.52 665.46L542.23 668.36L538.81 668.36L537.10 671.26L535.40 668.36L531.98 668.36L533.69 665.46L531.98 662.56L535.40 662.56Z" fill="none" stroke="#111" stroke-width="1.3" stroke-linejoin="miter"/><path d="M561.95 664.55L563.65 667.45L567.07 667.45L565.36 670.35L567.07 673.25L563.65 673.25L561.95 676.15L560.24 673.25L556.82 673.25L558.53 670.35L556.82 667.45L560.24 667.45Z" fill="none" stroke="#111" stroke-width="1.3" stroke-linejoin="miter"/><path d="M586.79 669.49L588.50 672.39L591.92 672.39L590.21 675.29L591.92 678.19L588.50 678.18L586.79 681.09L585.09 678.18L581.67 678.19L583.38 675.29L581.67 672.39L585.09 672.39Z" fill="none" stroke="#111" stroke-width="1.3" stroke-linejoin="miter"/><path d="M611.64 674.43L613.34 677.34L616.76 677.33L615.05 680.23L616.76 683.13L613.34 683.13L611.64 686.03L609.93 683.13L606.51 683.13L608.22 680.23L606.51 677.33L609.93 677.34Z" fill="none" stroke="#111" stroke-width="1.3" stroke-linejoin="miter"/><path d="M636.48 679.38L638.19 682.28L641.60 682.28L639.89 685.18L641.60 688.08L638.19 688.08L636.48 690.98L634.77 688.08L631.36 688.08L633.07 685.18L631.36 682.28L634.77 682.28Z" fill="none" stroke="#111" stroke-width="1.3" stroke-linejoin="miter"/><path d="M661.32 684.30L663.03 687.20L666.45 687.20L664.74 690.10L666.45 693.00L663.03 692.99L661.32 695.90L659.62 692.99L656.20 693.00L657.91 690.10L656.20 687.20L659.62 687.20Z" fill="none" stroke="#111" stroke-width="1.3" stroke-linejoin="miter"/><path d="M686.17 689.17L687.87 692.07L691.29 692.07L689.58 694.97L691.29 697.87L687.87 697.87L686.17 700.77L684.46 697.87L681.04 697.87L682.75 694.97L681.04 692.07L684.46 692.07Z" fill="none" stroke="#111" stroke-width="1.3" stroke-linejoin="miter"/><path d="M711.01 693.99L712.72 696.89L716.14 696.89L714.43 699.79L716.14 702.69L712.72 702.69L711.01 705.59L709.31 702.69L705.89 702.69L707.60 699.79L705.89 696.89L709.31 696.89Z" fill="none" stroke="#111" stroke-width="1.3" stroke-linejoin="miter"/><path d="M735.86 698.74L737.56 701.64L740.98 701.64L739.27 704.54L740.98 707.44L737.56 707.44L735.86 710.34L734.15 707.44L730.73 707.44L732.44 704.54L730.73 701.64L734.15 701.64Z" fill="none" stroke="#111" stroke-width="1.3" stroke-linejoin="miter"/><path d="M760.70 703.40L762.41 706.30L765.82 706.30L764.11 709.20L765.82 712.10L762.41 712.10L760.70 715.00L758.99 712.10L755.58 712.10L757.29 709.20L755.58 706.30L758.99 706.30Z" fill="none" stroke="#111" stroke-width="1.3" stroke-linejoin="miter"/><path d="M785.54 707.98L787.25 710.88L790.67 710.88L788.96 713.78L790.67 716.68L787.25 716.68L785.54 719.58L783.84 716.68L780.42 716.68L782.13 713.78L780.42 710.88L783.84 710.88Z" fill="none" stroke="#111" stroke-width="1.3" stroke-linejoin="miter"/><path d="M810.39 712.45L812.09 715.35L815.51 715.35L813.80 718.25L815.51 721.15L812.09 721.15L810.39 724.05L808.68 721.15L805.26 721.15L806.97 718.25L805.26 715.35L808.68 715.35Z" fill="none" stroke="#111" stroke-width="1.3" stroke-linejoin="miter"/><path d="M835.23 716.82L836.94 719.73L840.36 719.72L838.65 722.62L840.36 725.52L836.94 725.52L835.23 728.42L833.53 725.52L830.11 725.52L831.82 722.62L830.11 719.72L833.53 719.73Z" fill="none" stroke="#111" stroke-width="1.3" stroke-linejoin="miter"/><path d="M860.08 721.09L861.78 723.99L865.20 723.99L863.49 726.89L865.20 729.79L861.78 729.78L860.08 732.69L858.37 729.78L854.95 729.79L856.66 726.89L854.95 723.99L858.37 723.99Z" fill="none" stroke="#111" stroke-width="1.3" stroke-linejoin="miter"/><path d="M884.92 725.24L886.63 728.14L890.04 728.14L888.33 731.04L890.04 733.94L886.63 733.93L884.92 736.84L883.21 733.93L879.80 733.94L881.51 731.04L879.80 728.14L883.21 728.14Z" fill="none" stroke="#111" stroke-width="1.3" stroke-linejoin="miter"/><path d="M909.76 729.27L911.47 732.17L914.89 732.17L913.18 735.07L914.89 737.97L911.47 737.97L909.76 740.87L908.06 737.97L904.64 737.97L906.35 735.07L904.64 732.17L908.06 732.17Z" fill="none" stroke="#111" stroke-width="1.3" stroke-linejoin="miter"/><path d="M934.61 733.19L936.31 736.09L939.73 736.09L938.02 738.99L939.73 741.89L936.31 741.88L934.61 744.79L932.90 741.88L929.48 741.89L931.19 738.99L929.48 736.09L932.90 736.09Z" fill="none" stroke="#111" stroke-width="1.3" stroke-linejoin="miter"/><path d="M959.45 736.99L961.16 739.89L964.58 739.89L962.87 742.79L964.58 745.69L961.16 745.68L959.45 748.59L957.75 745.68L954.33 745.69L956.04 742.79L954.33 739.89L957.75 739.89Z" fill="none" stroke="#111" stroke-width="1.3" stroke-linejoin="miter"/><path d="M984.30 740.67L986.00 743.57L989.42 743.57L987.71 746.47L989.42 749.37L986.00 749.37L984.30 752.27L982.59 749.37L979.17 749.37L980.88 746.47L979.17 743.57L982.59 743.57Z" fill="none" stroke="#111" stroke-width="1.3" stroke-linejoin="miter"/><path d="M1009.14 744.23L1010.85 747.13L1014.26 747.13L1012.55 750.03L1014.26 752.93L1010.85 752.93L1009.14 755.83L1007.43 752.93L1004.02 752.93L1005.73 750.03L1004.02 747.13L1007.43 747.13Z" fill="none" stroke="#111" stroke-width="1.3" stroke-linejoin="miter"/><path d="M1033.98 747.68L1035.69 750.58L1039.11 750.58L1037.40 753.48L1039.11 756.38L1035.69 756.38L1033.98 759.28L1032.28 756.38L1028.86 756.38L1030.57 753.48L1028.86 750.58L1032.28 750.58Z" fill="none" stroke="#111" stroke-width="1.3" stroke-linejoin="miter"/><path d="M1058.83 751.02L1060.53 753.92L1063.95 753.92L1062.24 756.82L1063.95 759.72L1060.53 759.72L1058.83 762.62L1057.12 759.72L1053.70 759.72L1055.41 756.82L1053.70 753.92L1057.12 753.92Z" fill="none" stroke="#111" stroke-width="1.3" stroke-linejoin="miter"/><path d="M1083.67 754.24L1085.38 757.14L1088.80 757.14L1087.09 760.04L1088.80 762.94L1085.38 762.94L1083.67 765.84L1081.97 762.94L1078.55 762.94L1080.26 760.04L1078.55 757.14L1081.97 757.14Z" fill="none" stroke="#111" stroke-width="1.3" stroke-linejoin="miter"/><path d="M1108.52 757.35L1110.22 760.26L1113.64 760.25L1111.93 763.15L1113.64 766.05L1110.22 766.05L1108.52 768.95L1106.81 766.05L1103.39 766.05L1105.10 763.15L1103.39 760.25L1106.81 760.26Z" fill="none" stroke="#111" stroke-width="1.3" stroke-linejoin="miter"/><path d="M1133.36 760.36L1135.07 763.26L1138.48 763.26L1136.77 766.16L1138.48 769.06L1135.07 769.06L1133.36 771.96L1131.65 769.06L1128.24 769.06L1129.95 766.16L1128.24 763.26L1131.65 763.26Z" fill="none" stroke="#111" stroke-width="1.3" stroke-linejoin="miter"/><path d="M1158.20 763.26L1159.91 766.17L1163.33 766.16L1161.62 769.06L1163.33 771.96L1159.91 771.96L1158.20 774.86L1156.50 771.96L1153.08 771.96L1154.79 769.06L1153.08 766.16L1156.50 766.17Z" fill="none" stroke="#111" stroke-width="1.3" stroke-linejoin="miter"/><path d="M1183.05 766.06L1184.75 768.97L1188.17 768.96L1186.46 771.86L1188.17 774.76L1184.75 774.76L1183.05 777.66L1181.34 774.76L1177.92 774.76L1179.63 771.86L1177.92 768.96L1181.34 768.97Z" fill="none" stroke="#111" stroke-width="1.3" stroke-linejoin="miter"/><path d="M1207.89 768.77L1209.60 771.67L1213.02 771.67L1211.31 774.57L1213.02 777.47L1209.60 777.46L1207.89 780.37L1206.19 777.46L1202.77 777.47L1204.48 774.57L1202.77 771.67L1206.19 771.67Z" fill="none" stroke="#111" stroke-width="1.3" stroke-linejoin="miter"/><path d="M1232.74 771.37L1234.44 774.27L1237.86 774.27L1236.15 777.17L1237.86 780.07L1234.44 780.07L1232.74 782.97L1231.03 780.07L1227.61 780.07L1229.32 777.17L1227.61 774.27L1231.03 774.27Z" fill="none" stroke="#111" stroke-width="1.3" stroke-linejoin="miter"/><path d="M1257.58 773.88L1259.29 776.79L1262.70 776.78L1260.99 779.68L1262.70 782.58L1259.29 782.58L1257.58 785.48L1255.87 782.58L1252.46 782.58L1254.17 779.68L1252.46 776.78L1255.87 776.79Z" fill="none" stroke="#111" stroke-width="1.3" stroke-linejoin="miter"/><path d="M1282.42 776.31L1284.13 779.21L1287.55 779.21L1285.84 782.11L1287.55 785.01L1284.13 785.01L1282.42 787.91L1280.72 785.01L1277.30 785.01L1279.01 782.11L1277.30 779.21L1280.72 779.21Z" fill="none" stroke="#111" stroke-width="1.3" stroke-linejoin="miter"/><path d="M1307.27 778.65L1308.97 781.55L1312.39 781.55L1310.68 784.45L1312.39 787.35L1308.97 787.34L1307.27 790.25L1305.56 787.34L1302.14 787.35L1303.85 784.45L1302.14 781.55L1305.56 781.55Z" fill="none" stroke="#111" stroke-width="1.3" stroke-linejoin="miter"/><path d="M1332.11 780.90L1333.82 783.80L1337.24 783.80L1335.53 786.70L1337.24 789.60L1333.82 789.60L1332.11 792.50L1330.41 789.60L1326.99 789.60L1328.70 786.70L1326.99 783.80L1330.41 783.80Z" fill="none" stroke="#111" stroke-width="1.3" stroke-linejoin="miter"/><path d="M1356.96 783.07L1358.66 785.97L1362.08 785.97L1360.37 788.87L1362.08 791.77L1358.66 791.77L1356.96 794.67L1355.25 791.77L1351.83 791.77L1353.54 788.87L1351.83 785.97L1355.25 785.97Z" fill="none" stroke="#111" stroke-width="1.3" stroke-linejoin="miter"/><path d="M1381.80 785.17L1383.51 788.07L1386.92 788.07L1385.21 790.97L1386.92 793.87L1383.51 793.87L1381.80 796.77L1380.09 793.87L1376.68 793.87L1378.39 790.97L1376.68 788.07L1380.09 788.07Z" fill="none" stroke="#111" stroke-width="1.3" stroke-linejoin="miter"/><path d="M134.20 575.88L139.60 568.48L145.00 575.88L139.60 583.28Z" fill="none" stroke="#111" stroke-width="1.3" stroke-linejoin="miter"/><path d="M159.04 576.15L164.44 568.75L169.84 576.15L164.44 583.55Z" fill="none" stroke="#111" stroke-width="1.3" stroke-linejoin="miter"/><path d="M183.89 576.97L189.29 569.57L194.69 576.97L189.29 584.37Z" fill="none" stroke="#111" stroke-width="1.3" stroke-linejoin="miter"/><path d="M208.73 578.33L214.13 570.93L219.53 578.33L214.13 585.73Z" fill="none" stroke="#111" stroke-width="1.3" stroke-linejoin="miter"/><path d="M233.58 580.21L238.98 572.81L244.38 580.21L238.98 587.61Z" fill="none" stroke="#111" stroke-width="1.3" stroke-linejoin="miter"/><path d="M258.42 582.58L263.82 575.18L269.22 582.58L263.82 589.98Z" fill="none" stroke="#111" stroke-width="1.3" stroke-linejoin="miter"/><path d="M283.26 585.43L288.66 578.03L294.06 585.43L288.66 592.83Z" fill="none" stroke="#111" stroke-width="1.3" stroke-linejoin="miter"/><path d="M308.11 588.73L313.51 581.33L318.91 588.73L313.51 596.13Z" fill="none" stroke="#111" stroke-width="1.3" stroke-linejoin="miter"/><path d="M332.95 592.44L338.35 585.04L343.75 592.44L338.35 599.84Z" fill="none" stroke="#111" stroke-width="1.3" stroke-linejoin="miter"/><path d="M357.80 596.52L363.20 589.12L368.60 596.52L363.20 603.92Z" fill="none" stroke="#111" stroke-width="1.3" stroke-linejoin="miter"/><path d="M382.64 600.94L388.04 593.54L393.44 600.94L388.04 608.34Z" fill="none" stroke="#111" stroke-width="1.3" stroke-linejoin="miter"/><path d="M407.48 605.66L412.88 598.26L418.28 605.66L412.88 613.06Z" fill="none" stroke="#111" stroke-width="1.3" stroke-linejoin="miter"/><path d="M432.33 610.64L437.73 603.24L443.13 610.64L437.73 618.04Z" fill="none" stroke="#111" stroke-width="1.3" stroke-linejoin="miter"/><path d="M457.17 615.83L462.57 608.43L467.97 615.83L462.57 623.23Z" fill="none" stroke="#111" stroke-width="1.3" stroke-linejoin="miter"/><path d="M482.02 621.21L487.42 613.81L492.82 621.21L487.42 628.61Z" fill="none" stroke="#111" stroke-width="1.3" stroke-linejoin="miter"/><path d="M506.86 626.73L512.26 619.33L517.66 626.73L512.26 634.13Z" fill="none" stroke="#111" stroke-width="1.3" stroke-linejoin="miter"/><path d="M531.70 632.37L537.10 624.97L542.50 632.37L537.10 639.77Z" fill="none" stroke="#111" stroke-width="1.3" stroke-linejoin="miter"/><path d="M556.55 638.08L561.95 630.68L567.35 638.08L561.95 645.48Z" fill="none" stroke="#111" stroke-width="1.3" stroke-linejoin="miter"/><path d="M581.39 643.83L586.79 636.43L592.19 643.83L586.79 651.23Z" fill="none" stroke="#111" stroke-width="1.3" stroke-linejoin="miter"/><path d="M606.24 649.61L611.64 642.21L617.04 649.61L611.64 657.01Z" fill="none" stroke="#111" stroke-width="1.3" stroke-linejoin="miter"/><path d="M631.08 655.37L636.48 647.97L641.88 655.37L636.48 662.77Z" fill="none" stroke="#111" stroke-width="1.3" stroke-linejoin="miter"/><path d="M655.92 661.11L661.32 653.71L666.72 661.11L661.32 668.51Z" fill="none" stroke="#111" stroke-width="1.3" stroke-linejoin="miter"/><path d="M680.77 666.80L686.17 659.40L691.57 666.80L686.17 674.20Z" fill="none" stroke="#111" stroke-width="1.3" stroke-linejoin="miter"/><path d="M705.61 672.42L711.01 665.02L716.41 672.42L711.01 679.82Z" fill="none" stroke="#111" stroke-width="1.3" stroke-linejoin="miter"/><path d="M730.46 677.96L735.86 670.56L741.26 677.96L735.86 685.36Z" fill="none" stroke="#111" stroke-width="1.3" stroke-linejoin="miter"/><path d="M755.30 683.40L760.70 676.00L766.10 683.40L760.70 690.80Z" fill="none" stroke="#111" stroke-width="1.3" stroke-linejoin="miter"/><path d="M780.14 688.74L785.54 681.34L790.94 688.74L785.54 696.14Z" fill="none" stroke="#111" stroke-width="1.3" stroke-linejoin="miter"/><path d="M804.99 693.96L810.39 686.56L815.79 693.96L810.39 701.36Z" fill="none" stroke="#111" stroke-width="1.3" stroke-linejoin="miter"/><path d="M829.83 699.06L835.23 691.66L840.63 699.06L835.23 706.46Z" fill="none" stroke="#111" stroke-width="1.3" stroke-linejoin="miter"/><path d="M854.68 704.03L860.08 696.63L865.48 704.03L860.08 711.43Z" fill="none" stroke="#111" stroke-width="1.3" stroke-linejoin="miter"/><path d="M879.52 708.87L884.92 701.47L890.32 708.87L884.92 716.27Z" fill="none" stroke="#111" stroke-width="1.3" stroke-linejoin="miter"/><path d="M904.36 713.58L909.76 706.18L915.16 713.58L909.76 720.98Z" fill="none" stroke="#111" stroke-width="1.3" stroke-linejoin="miter"/><path d="M929.21 718.15L934.61 710.75L940.01 718.15L934.61 725.55Z" fill="none" stroke="#111" stroke-width="1.3" stroke-linejoin="miter"/><path d="M954.05 722.58L959.45 715.18L964.85 722.58L959.45 729.98Z" fill="none" stroke="#111" stroke-width="1.3" stroke-linejoin="miter"/><path d="M978.90 726.88L984.30 719.48L989.70 726.88L984.30 734.28Z" fill="none" stroke="#111" stroke-width="1.3" stroke-linejoin="miter"/><path d="M1003.74 731.04L1009.14 723.64L1014.54 731.04L1009.14 738.44Z" fill="none" stroke="#111" stroke-width="1.3" stroke-linejoin="miter"/><path d="M1028.58 735.06L1033.98 727.66L1039.38 735.06L1033.98 742.46Z" fill="none" stroke="#111" stroke-width="1.3" stroke-linejoin="miter"/><path d="M1053.43 738.95L1058.83 731.55L1064.23 738.95L1058.83 746.35Z" fill="none" stroke="#111" stroke-width="1.3" stroke-linejoin="miter"/><path d="M1078.27 742.71L1083.67 735.31L1089.07 742.71L1083.67 750.11Z" fill="none" stroke="#111" stroke-width="1.3" stroke-linejoin="miter"/><path d="M1103.12 746.35L1108.52 738.95L1113.92 746.35L1108.52 753.75Z" fill="none" stroke="#111" stroke-width="1.3" stroke-linejoin="miter"/><path d="M1127.96 749.86L1133.36 742.46L1138.76 749.86L1133.36 757.26Z" fill="none" stroke="#111" stroke-width="1.3" stroke-linejoin="miter"/><path d="M1152.80 753.24L1158.20 745.84L1163.60 753.24L1158.20 760.64Z" fill="none" stroke="#111" stroke-width="1.3" stroke-linejoin="miter"/><path d="M1177.65 756.51L1183.05 749.11L1188.45 756.51L1183.05 763.91Z" fill="none" stroke="#111" stroke-width="1.3" stroke-linejoin="miter"/><path d="M1202.49 759.66L1207.89 752.26L1213.29 759.66L1207.89 767.06Z" fill="none" stroke="#111" stroke-width="1.3" stroke-linejoin="miter"/><path d="M1227.34 762.70L1232.74 755.30L1238.14 762.70L1232.74 770.10Z" fill="none" stroke="#111" stroke-width="1.3" stroke-linejoin="miter"/><path d="M1252.18 765.63L1257.58 758.23L1262.98 765.63L1257.58 773.03Z" fill="none" stroke="#111" stroke-width="1.3" stroke-linejoin="miter"/><path d="M1277.02 768.46L1282.42 761.06L1287.82 768.46L1282.42 775.86Z" fill="none" stroke="#111" stroke-width="1.3" stroke-linejoin="miter"/><path d="M1301.87 771.19L1307.27 763.79L1312.67 771.19L1307.27 778.59Z" fill="none" stroke="#111" stroke-width="1.3" stroke-linejoin="miter"/><path d="M1326.71 773.82L1332.11 766.42L1337.51 773.82L1332.11 781.22Z" fill="none" stroke="#111" stroke-width="1.3" stroke-linejoin="miter"/><path d="M1351.56 776.35L1356.96 768.95L1362.36 776.35L1356.96 783.75Z" fill="none" stroke="#111" stroke-width="1.3" stroke-linejoin="miter"/><path d="M1376.40 778.80L1381.80 771.40L1387.20 778.80L1381.80 786.20Z" fill="none" stroke="#111" stroke-width="1.3" stroke-linejoin="miter"/><path d="M135.28 530.72L143.92 538.72M135.28 538.72L143.92 530.72" fill="none" stroke="#111" stroke-width="1.3" stroke-linejoin="miter"/><path d="M160.12 531.03L168.76 539.03M160.12 539.03L168.76 531.03" fill="none" stroke="#111" stroke-width="1.3" stroke-linejoin="miter"/><path d="M184.97 531.97L193.61 539.97M184.97 539.97L193.61 531.97" fill="none" stroke="#111" stroke-width="1.3" stroke-linejoin="miter"/><path d="M209.81 533.52L218.45 541.52M209.81 541.52L218.45 533.52" fill="none" stroke="#111" stroke-width="1.3" stroke-linejoin="miter"/><path d="M234.66 535.66L243.30 543.66M234.66 543.66L243.30 535.66" fill="none" stroke="#111" stroke-width="1.3" stroke-linejoin="miter"/><path d="M259.50 538.38L268.14 546.38M259.50 546.38L268.14 538.38" fill="none" stroke="#111" stroke-width="1.3" stroke-linejoin="miter"/><path d="M284.34 541.64L292.98 549.64M284.34 549.64L292.98 541.64" fill="none" stroke="#111" stroke-width="1.3" stroke-linejoin="miter"/><path d="M309.19 545.40L317.83 553.40M309.19 553.40L317.83 545.40" fill="none" stroke="#111" stroke-width="1.3" stroke-linejoin="miter"/><path d="M334.03 549.64L342.67 557.64M334.03 557.64L342.67 549.64" fill="none" stroke="#111" stroke-width="1.3" stroke-linejoin="miter"/><path d="M358.88 554.31L367.52 562.31M358.88 562.31L367.52 554.31" fill="none" stroke="#111" stroke-width="1.3" stroke-linejoin="miter"/><path d="M383.72 559.36L392.36 567.36M383.72 567.36L392.36 559.36" fill="none" stroke="#111" stroke-width="1.3" stroke-linejoin="miter"/><path d="M408.56 564.75L417.20 572.75M408.56 572.75L417.20 564.75" fill="none" stroke="#111" stroke-width="1.3" stroke-linejoin="miter"/><path d="M433.41 570.44L442.05 578.44M433.41 578.44L442.05 570.44" fill="none" stroke="#111" stroke-width="1.3" stroke-linejoin="miter"/><path d="M458.25 576.38L466.89 584.38M458.25 584.38L466.89 576.38" fill="none" stroke="#111" stroke-width="1.3" stroke-linejoin="miter"/><path d="M483.10 582.53L491.74 590.53M483.10 590.53L491.74 582.53" fill="none" stroke="#111" stroke-width="1.3" stroke-linejoin="miter"/><path d="M507.94 588.84L516.58 596.84M507.94 596.84L516.58 588.84" fill="none" stroke="#111" stroke-width="1.3" stroke-linejoin="miter"/><path d="M532.78 595.28L541.42 603.28M532.78 603.28L541.42 595.28" fill="none" stroke="#111" stroke-width="1.3" stroke-linejoin="miter"/><path d="M557.63 601.80L566.27 609.80M557.63 609.80L566.27 601.80" fill="none" stroke="#111" stroke-width="1.3" stroke-linejoin="miter"/><path d="M582.47 608.38L591.11 616.38M582.47 616.38L591.11 608.38" fill="none" stroke="#111" stroke-width="1.3" stroke-linejoin="miter"/><path d="M607.32 614.98L615.96 622.98M607.32 622.98L615.96 614.98" fill="none" stroke="#111" stroke-width="1.3" stroke-linejoin="miter"/><path d="M632.16 621.57L640.80 629.57M632.16 629.57L640.80 621.57" fill="none" stroke="#111" stroke-width="1.3" stroke-linejoin="miter"/><path d="M657.00 628.13L665.64 636.13M657.00 636.13L665.64 628.13" fill="none" stroke="#111" stroke-width="1.3" stroke-linejoin="miter"/><path d="M681.85 634.63L690.49 642.63M681.85 642.63L690.49 634.63" fill="none" stroke="#111" stroke-width="1.3" stroke-linejoin="miter"/><path d="M706.69 641.05L715.33 649.05M706.69 649.05L715.33 641.05" fill="none" stroke="#111" stroke-width="1.3" stroke-linejoin="miter"/><path d="M731.54 647.38L740.18 655.38M731.54 655.38L740.18 647.38" fill="none" stroke="#111" stroke-width="1.3" stroke-linejoin="miter"/><path d="M756.38 653.60L765.02 661.60M756.38 661.60L765.02 653.60" fill="none" stroke="#111" stroke-width="1.3" stroke-linejoin="miter"/><path d="M781.22 659.70L789.86 667.70M781.22 667.70L789.86 659.70" fill="none" stroke="#111" stroke-width="1.3" stroke-linejoin="miter"/><path d="M806.07 665.67L814.71 673.67M806.07 673.67L814.71 665.67" fill="none" stroke="#111" stroke-width="1.3" stroke-linejoin="miter"/><path d="M830.91 671.50L839.55 679.50M830.91 679.50L839.55 671.50" fill="none" stroke="#111" stroke-width="1.3" stroke-linejoin="miter"/><path d="M855.76 677.18L864.40 685.18M855.76 685.18L864.40 677.18" fill="none" stroke="#111" stroke-width="1.3" stroke-linejoin="miter"/><path d="M880.60 682.71L889.24 690.71M880.60 690.71L889.24 682.71" fill="none" stroke="#111" stroke-width="1.3" stroke-linejoin="miter"/><path d="M905.44 688.09L914.08 696.09M905.44 696.09L914.08 688.09" fill="none" stroke="#111" stroke-width="1.3" stroke-linejoin="miter"/><path d="M930.29 693.31L938.93 701.31M930.29 701.31L938.93 693.31" fill="none" stroke="#111" stroke-width="1.3" stroke-linejoin="miter"/><path d="M955.13 698.38L963.77 706.38M955.13 706.38L963.77 698.38" fill="none" stroke="#111" stroke-width="1.3" stroke-linejoin="miter"/><path d="M979.98 703.29L988.62 711.29M979.98 711.29L988.62 703.29" fill="none" stroke="#111" stroke-width="1.3" stroke-linejoin="miter"/><path d="M1004.82 708.04L1013.46 716.04M1004.82 716.04L1013.46 708.04" fill="none" stroke="#111" stroke-width="1.3" stroke-linejoin="miter"/><path d="M1029.66 712.64L1038.30 720.64M1029.66 720.64L1038.30 712.64" fill="none" stroke="#111" stroke-width="1.3" stroke-linejoin="miter"/><path d="M1054.51 717.09L1063.15 725.09M1054.51 725.09L1063.15 717.09" fill="none" stroke="#111" stroke-width="1.3" stroke-linejoin="miter"/><path d="M1079.35 721.39L1087.99 729.39M1079.35 729.39L1087.99 721.39" fill="none" stroke="#111" stroke-width="1.3" stroke-linejoin="miter"/><path d="M1104.20 725.54L1112.84 733.54M1104.20 733.54L1112.84 725.54" fill="none" stroke="#111" stroke-width="1.3" stroke-linejoin="miter"/><path d="M1129.04 729.55L1137.68 737.55M1129.04 737.55L1137.68 729.55" fill="none" stroke="#111" stroke-width="1.3" stroke-linejoin="miter"/><path d="M1153.88 733.42L1162.52 741.42M1153.88 741.42L1162.52 733.42" fill="none" stroke="#111" stroke-width="1.3" stroke-linejoin="miter"/><path d="M1178.73 737.15L1187.37 745.15M1178.73 745.15L1187.37 737.15" fill="none" stroke="#111" stroke-width="1.3" stroke-linejoin="miter"/><path d="M1203.57 740.75L1212.21 748.75M1203.57 748.75L1212.21 740.75" fill="none" stroke="#111" stroke-width="1.3" stroke-linejoin="miter"/><path d="M1228.42 744.23L1237.06 752.23M1228.42 752.23L1237.06 744.23" fill="none" stroke="#111" stroke-width="1.3" stroke-linejoin="miter"/><path d="M1253.26 747.58L1261.90 755.58M1253.26 755.58L1261.90 747.58" fill="none" stroke="#111" stroke-width="1.3" stroke-linejoin="miter"/><path d="M1278.10 750.81L1286.74 758.81M1278.10 758.81L1286.74 750.81" fill="none" stroke="#111" stroke-width="1.3" stroke-linejoin="miter"/><path d="M1302.95 753.93L1311.59 761.93M1302.95 761.93L1311.59 753.93" fill="none" stroke="#111" stroke-width="1.3" stroke-linejoin="miter"/><path d="M1327.79 756.93L1336.43 764.93M1327.79 764.93L1336.43 756.93" fill="none" stroke="#111" stroke-width="1.3" stroke-linejoin="miter"/><path d="M1352.64 759.83L1361.28 767.83M1352.64 767.83L1361.28 759.83" fill="none" stroke="#111" stroke-width="1.3" stroke-linejoin="miter"/><path d="M1377.48 762.62L1386.12 770.62M1377.48 770.62L1386.12 762.62" fill="none" stroke="#111" stroke-width="1.3" stroke-linejoin="miter"/></g>
<text transform="translate(133.40 876.20) scale(1.08 1)" font-size="32.5" text-anchor="end" letter-spacing="-0.95">0</text>
<text transform="translate(133.40 817.40) scale(1.08 1)" font-size="32.5" text-anchor="end" letter-spacing="-0.95">250</text>
<text transform="translate(133.40 758.60) scale(1.08 1)" font-size="32.5" text-anchor="end" letter-spacing="-0.95">500</text>
<text transform="translate(133.40 699.80) scale(1.08 1)" font-size="32.5" text-anchor="end" letter-spacing="-0.95">750</text>
<text transform="translate(133.40 641.00) scale(1.08 1)" font-size="32.5" text-anchor="end" letter-spacing="-0.95">1000</text>
<text transform="translate(133.40 582.20) scale(1.08 1)" font-size="32.5" text-anchor="end" letter-spacing="-0.95">1250</text>
<text transform="translate(133.40 523.40) scale(1.08 1)" font-size="32.5" text-anchor="end" letter-spacing="-0.95">1500</text>
<text transform="translate(139.60 901.20) scale(1.08 1)" font-size="32.5" text-anchor="middle" >0</text>
<text transform="translate(258.82 901.20) scale(1.08 1)" font-size="32.5" text-anchor="middle" >1</text>
<text transform="translate(383.04 901.20) scale(1.08 1)" font-size="32.5" text-anchor="middle" >2</text>
<text transform="translate(507.26 901.20) scale(1.08 1)" font-size="32.5" text-anchor="middle" >3</text>
<text transform="translate(631.48 901.20) scale(1.08 1)" font-size="32.5" text-anchor="middle" >4</text>
<text transform="translate(755.70 901.20) scale(1.08 1)" font-size="32.5" text-anchor="middle" >5</text>
<text transform="translate(879.92 901.20) scale(1.08 1)" font-size="32.5" text-anchor="middle" >6</text>
<text transform="translate(1004.14 901.20) scale(1.08 1)" font-size="32.5" text-anchor="middle" >7</text>
<text transform="translate(1128.36 901.20) scale(1.08 1)" font-size="32.5" text-anchor="middle" >8</text>
<text transform="translate(1252.58 901.20) scale(1.08 1)" font-size="32.5" text-anchor="middle" >9</text>
<text transform="translate(1383.00 901.20) scale(1.08 1)" font-size="32.5" text-anchor="middle" >10</text>
<text transform="translate(756.20 930.00) scale(1.06 1)" font-size="32.5" text-anchor="middle" >Frequency/GHz</text>
<text transform="translate(25.7 746.9) rotate(-90) scale(1 1.03)" font-size="34.5">1/G<tspan font-size="25.00" dy="15.60">pl</tspan><tspan dy="-15.6">/</tspan><tspan font-family='"Liberation Serif", serif' font-size="37.6" style="stroke-width:0.7px">Ω</tspan></text>
<rect x="166.6" y="510.6" width="168.50000000000003" height="353.6" fill="#fdfdfd" stroke="#111" stroke-width="1.35"/>
<line x1="177.8" y1="538.6" x2="235.0" y2="538.6" stroke="#111" stroke-width="1.35"/>
<path d="M206.30 532.90L207.63 536.84L211.94 536.84L208.45 539.27L209.78 543.21L206.30 540.78L202.82 543.21L204.15 539.27L200.66 536.84L204.97 536.84Z" fill="none" stroke="#111" stroke-width="1.3" stroke-linejoin="miter"/>
<text transform="translate(241.40 542.10) scale(1.0 1)" font-size="28.9" text-anchor="start" >1.0 R<tspan font-size="21.30" dy="14.60">pl</tspan></text>
<line x1="177.8" y1="588.1" x2="235.0" y2="588.1" stroke="#111" stroke-width="1.35"/>
<ellipse cx="206.30" cy="588.10" rx="5.6" ry="5.55" fill="none" stroke="#111" stroke-width="1.3" stroke-linejoin="miter"/>
<text transform="translate(241.40 591.60) scale(1.0 1)" font-size="28.9" text-anchor="start" >1.5 R<tspan font-size="21.30" dy="14.60">pl</tspan></text>
<line x1="177.8" y1="637.6" x2="235.0" y2="637.6" stroke="#111" stroke-width="1.35"/>
<path d="M200.00 641.65L212.60 641.65L206.30 630.70Z" fill="none" stroke="#111" stroke-width="1.3" stroke-linejoin="miter"/>
<text transform="translate(241.40 641.10) scale(1.0 1)" font-size="28.9" text-anchor="start" >2.0 R<tspan font-size="21.30" dy="14.60">pl</tspan></text>
<line x1="177.8" y1="687.1" x2="235.0" y2="687.1" stroke="#111" stroke-width="1.35"/>
<path d="M200.00 683.50L212.60 683.50L206.30 694.50Z" fill="none" stroke="#111" stroke-width="1.3" stroke-linejoin="miter"/>
<text transform="translate(241.40 690.60) scale(1.0 1)" font-size="28.9" text-anchor="start" >2.5 R<tspan font-size="21.30" dy="14.60">pl</tspan></text>
<line x1="177.8" y1="736.6" x2="235.0" y2="736.6" stroke="#111" stroke-width="1.35"/>
<path d="M206.30 730.80L208.01 733.70L211.42 733.70L209.71 736.60L211.42 739.50L208.01 739.50L206.30 742.40L204.59 739.50L201.18 739.50L202.89 736.60L201.18 733.70L204.59 733.70Z" fill="none" stroke="#111" stroke-width="1.3" stroke-linejoin="miter"/>
<text transform="translate(241.40 740.10) scale(1.0 1)" font-size="28.9" text-anchor="start" >3.0 R<tspan font-size="21.30" dy="14.60">pl</tspan></text>
<line x1="177.8" y1="786.1" x2="235.0" y2="786.1" stroke="#111" stroke-width="1.35"/>
<path d="M200.90 786.10L206.30 778.70L211.70 786.10L206.30 793.50Z" fill="none" stroke="#111" stroke-width="1.3" stroke-linejoin="miter"/>
<text transform="translate(241.40 789.60) scale(1.0 1)" font-size="28.9" text-anchor="start" >3.5 R<tspan font-size="21.30" dy="14.60">pl</tspan></text>
<line x1="177.8" y1="835.6" x2="235.0" y2="835.6" stroke="#111" stroke-width="1.35"/>
<path d="M201.98 831.60L210.62 839.60M201.98 839.60L210.62 831.60" fill="none" stroke="#111" stroke-width="1.3" stroke-linejoin="miter"/>
<text transform="translate(241.40 839.10) scale(1.0 1)" font-size="28.9" text-anchor="start" >4.0 R<tspan font-size="21.30" dy="14.60">pl</tspan></text>
</svg>
</body></html>
